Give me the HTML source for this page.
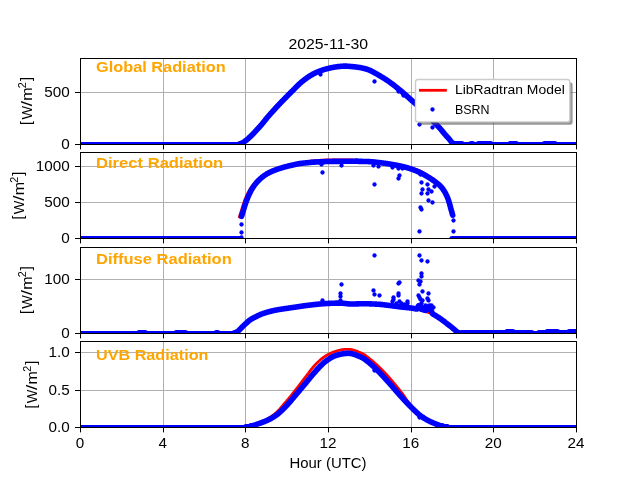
<!DOCTYPE html>
<html><head><meta charset="utf-8"><title>Radiation 2025-11-30</title>
<style>html,body{margin:0;padding:0;background:#fff;}body{width:640px;height:480px;overflow:hidden;font-family:"Liberation Sans",sans-serif;}</style></head>
<body>
<svg width="640" height="480" viewBox="0 0 640 480" font-family="Liberation Sans, sans-serif" style="display:block;will-change:transform">
<rect width="640" height="480" fill="#fff"/>
<defs>
<clipPath id="c0"><rect x="80" y="58" width="496" height="86"/></clipPath>
<clipPath id="c1"><rect x="80" y="152" width="496" height="86"/></clipPath>
<clipPath id="c2"><rect x="80" y="247" width="496" height="86"/></clipPath>
<clipPath id="c3"><rect x="80" y="341" width="496" height="86"/></clipPath>
</defs>
<g fill="#b0b0b0" shape-rendering="crispEdges">
<rect x="80" y="58" width="1" height="86"/>
<rect x="163" y="58" width="1" height="86"/>
<rect x="245" y="58" width="1" height="86"/>
<rect x="328" y="58" width="1" height="86"/>
<rect x="411" y="58" width="1" height="86"/>
<rect x="493" y="58" width="1" height="86"/>
<rect x="576" y="58" width="1" height="86"/>
<rect x="80" y="144" width="496" height="1"/>
<rect x="80" y="92" width="496" height="1"/>
</g>
<polyline clip-path="url(#c0)" points="80.00,143.55 80.34,143.55 80.69,143.55 81.03,143.55 81.38,143.55 81.72,143.55 82.07,143.55 82.41,143.55 82.76,143.55 83.10,143.55 83.44,143.55 83.79,143.55 84.13,143.55 84.48,143.55 84.82,143.55 85.17,143.55 85.51,143.55 85.86,143.55 86.20,143.55 86.54,143.55 86.89,143.55 87.23,143.55 87.58,143.55 87.92,143.55 88.27,143.55 88.61,143.55 88.96,143.55 89.30,143.55 89.64,143.55 89.99,143.55 90.33,143.55 90.68,143.55 91.02,143.55 91.37,143.55 91.71,143.55 92.06,143.55 92.40,143.55 92.74,143.55 93.09,143.55 93.43,143.55 93.78,143.55 94.12,143.55 94.47,143.55 94.81,143.55 95.16,143.55 95.50,143.55 95.84,143.55 96.19,143.55 96.53,143.55 96.88,143.55 97.22,143.55 97.57,143.55 97.91,143.55 98.26,143.55 98.60,143.55 98.94,143.55 99.29,143.55 99.63,143.55 99.98,143.55 100.32,143.55 100.67,143.55 101.01,143.55 101.36,143.55 101.70,143.55 102.04,143.55 102.39,143.55 102.73,143.55 103.08,143.55 103.42,143.55 103.77,143.55 104.11,143.55 104.46,143.55 104.80,143.55 105.14,143.55 105.49,143.55 105.83,143.55 106.18,143.55 106.52,143.55 106.87,143.55 107.21,143.55 107.56,143.55 107.90,143.55 108.24,143.55 108.59,143.55 108.93,143.55 109.28,143.55 109.62,143.55 109.97,143.55 110.31,143.55 110.66,143.55 111.00,143.55 111.34,143.55 111.69,143.55 112.03,143.55 112.38,143.55 112.72,143.55 113.07,143.55 113.41,143.55 113.76,143.55 114.10,143.55 114.44,143.55 114.79,143.55 115.13,143.55 115.48,143.55 115.82,143.55 116.17,143.55 116.51,143.55 116.86,143.55 117.20,143.55 117.54,143.55 117.89,143.55 118.23,143.55 118.58,143.55 118.92,143.55 119.27,143.55 119.61,143.55 119.96,143.55 120.30,143.55 120.64,143.55 120.99,143.55 121.33,143.55 121.68,143.55 122.02,143.55 122.37,143.55 122.71,143.55 123.06,143.55 123.40,143.55 123.74,143.55 124.09,143.55 124.43,143.55 124.78,143.55 125.12,143.55 125.47,143.55 125.81,143.55 126.16,143.55 126.50,143.55 126.84,143.55 127.19,143.55 127.53,143.55 127.88,143.55 128.22,143.55 128.57,143.55 128.91,143.55 129.26,143.55 129.60,143.55 129.94,143.55 130.29,143.55 130.63,143.55 130.98,143.55 131.32,143.55 131.67,143.55 132.01,143.55 132.36,143.55 132.70,143.55 133.04,143.55 133.39,143.55 133.73,143.55 134.08,143.55 134.42,143.55 134.77,143.55 135.11,143.55 135.46,143.55 135.80,143.55 136.14,143.55 136.49,143.55 136.83,143.55 137.18,143.55 137.52,143.55 137.87,143.55 138.21,143.55 138.56,143.55 138.90,143.55 139.24,143.55 139.59,143.55 139.93,143.55 140.28,143.55 140.62,143.55 140.97,143.55 141.31,143.55 141.66,143.55 142.00,143.55 142.34,143.55 142.69,143.55 143.03,143.55 143.38,143.55 143.72,143.55 144.07,143.55 144.41,143.55 144.76,143.55 145.10,143.55 145.44,143.55 145.79,143.55 146.13,143.55 146.48,143.55 146.82,143.55 147.17,143.55 147.51,143.55 147.86,143.55 148.20,143.55 148.54,143.55 148.89,143.55 149.23,143.55 149.58,143.55 149.92,143.55 150.27,143.55 150.61,143.55 150.96,143.55 151.30,143.55 151.64,143.55 151.99,143.55 152.33,143.55 152.68,143.55 153.02,143.55 153.37,143.55 153.71,143.55 154.06,143.55 154.40,143.55 154.74,143.55 155.09,143.55 155.43,143.55 155.78,143.55 156.12,143.55 156.47,143.55 156.81,143.55 157.16,143.55 157.50,143.55 157.84,143.55 158.19,143.55 158.53,143.55 158.88,143.55 159.22,143.55 159.57,143.55 159.91,143.55 160.26,143.55 160.60,143.55 160.94,143.55 161.29,143.55 161.63,143.55 161.98,143.55 162.32,143.55 162.67,143.55 163.01,143.55 163.36,143.55 163.70,143.55 164.04,143.55 164.39,143.55 164.73,143.55 165.08,143.55 165.42,143.55 165.77,143.55 166.11,143.55 166.46,143.55 166.80,143.55 167.14,143.55 167.49,143.55 167.83,143.55 168.18,143.55 168.52,143.55 168.87,143.55 169.21,143.55 169.56,143.55 169.90,143.55 170.24,143.55 170.59,143.55 170.93,143.55 171.28,143.55 171.62,143.55 171.97,143.55 172.31,143.55 172.66,143.55 173.00,143.55 173.34,143.55 173.69,143.55 174.03,143.55 174.38,143.55 174.72,143.55 175.07,143.55 175.41,143.55 175.76,143.55 176.10,143.55 176.44,143.55 176.79,143.55 177.13,143.55 177.48,143.55 177.82,143.55 178.17,143.55 178.51,143.55 178.86,143.55 179.20,143.55 179.54,143.55 179.89,143.55 180.23,143.55 180.58,143.55 180.92,143.55 181.27,143.55 181.61,143.55 181.96,143.55 182.30,143.55 182.64,143.55 182.99,143.55 183.33,143.55 183.68,143.55 184.02,143.55 184.37,143.55 184.71,143.55 185.06,143.55 185.40,143.55 185.74,143.55 186.09,143.55 186.43,143.55 186.78,143.55 187.12,143.55 187.47,143.55 187.81,143.55 188.16,143.55 188.50,143.55 188.84,143.55 189.19,143.55 189.53,143.55 189.88,143.55 190.22,143.55 190.57,143.55 190.91,143.55 191.26,143.55 191.60,143.55 191.94,143.55 192.29,143.55 192.63,143.55 192.98,143.55 193.32,143.55 193.67,143.55 194.01,143.55 194.36,143.55 194.70,143.55 195.04,143.55 195.39,143.55 195.73,143.55 196.08,143.55 196.42,143.55 196.77,143.55 197.11,143.55 197.46,143.55 197.80,143.55 198.14,143.55 198.49,143.55 198.83,143.55 199.18,143.55 199.52,143.55 199.87,143.55 200.21,143.55 200.56,143.55 200.90,143.55 201.24,143.55 201.59,143.55 201.93,143.55 202.28,143.55 202.62,143.55 202.97,143.55 203.31,143.55 203.66,143.55 204.00,143.55 204.34,143.55 204.69,143.55 205.03,143.55 205.38,143.55 205.72,143.55 206.07,143.55 206.41,143.55 206.76,143.55 207.10,143.55 207.44,143.55 207.79,143.55 208.13,143.55 208.48,143.55 208.82,143.55 209.17,143.55 209.51,143.55 209.86,143.55 210.20,143.55 210.54,143.55 210.89,143.55 211.23,143.55 211.58,143.55 211.92,143.55 212.27,143.55 212.61,143.55 212.96,143.55 213.30,143.55 213.64,143.55 213.99,143.55 214.33,143.55 214.68,143.55 215.02,143.55 215.37,143.55 215.71,143.55 216.06,143.55 216.40,143.55 216.74,143.55 217.09,143.55 217.43,143.55 217.78,143.55 218.12,143.55 218.47,143.55 218.81,143.55 219.16,143.55 219.50,143.55 219.84,143.55 220.19,143.55 220.53,143.55 220.88,143.55 221.22,143.55 221.57,143.55 221.91,143.55 222.26,143.55 222.60,143.55 222.94,143.55 223.29,143.55 223.63,143.55 223.98,143.55 224.32,143.55 224.67,143.55 225.01,143.55 225.36,143.55 225.70,143.55 226.04,143.55 226.39,143.55 226.73,143.55 227.08,143.55 227.42,143.55 227.77,143.55 228.11,143.55 228.46,143.55 228.80,143.55 229.14,143.55 229.49,143.55 229.83,143.55 230.18,143.55 230.52,143.55 230.87,143.55 231.21,143.55 231.56,143.55 231.90,143.55 232.24,143.55 232.59,143.55 232.93,143.55 233.28,143.55 233.62,143.55 233.97,143.55 234.31,143.55 234.66,143.55 235.00,143.55 235.34,143.55 235.69,143.55 236.03,143.55 236.38,143.55 236.72,143.55 237.07,143.55 237.41,143.50 237.76,143.44 238.10,143.38 238.44,143.31 238.79,143.23 239.13,143.14 239.48,143.05 239.82,142.95 240.17,142.84 240.51,142.72 240.86,142.59 241.20,142.46 241.54,142.32 241.89,142.17 242.23,142.02 242.58,141.86 242.92,141.69 243.27,141.52 243.61,141.35 243.96,141.17 244.30,140.98 244.64,140.79 244.99,140.60 245.33,140.40 245.68,140.20 246.02,139.99 246.37,139.77 246.71,139.53 247.06,139.29 247.40,139.04 247.74,138.78 248.09,138.51 248.43,138.23 248.78,137.95 249.12,137.65 249.47,137.35 249.81,137.04 250.16,136.73 250.50,136.41 250.84,136.08 251.19,135.75 251.53,135.41 251.88,135.07 252.22,134.72 252.57,134.37 252.91,134.01 253.26,133.66 253.60,133.29 253.94,132.93 254.29,132.56 254.63,132.20 254.98,131.83 255.32,131.46 255.67,131.09 256.01,130.71 256.36,130.34 256.70,129.97 257.04,129.60 257.39,129.23 257.73,128.86 258.08,128.50 258.42,128.13 258.77,127.76 259.11,127.39 259.46,127.01 259.80,126.62 260.14,126.23 260.49,125.83 260.83,125.43 261.18,125.02 261.52,124.61 261.87,124.20 262.21,123.78 262.56,123.36 262.90,122.94 263.24,122.52 263.59,122.09 263.93,121.67 264.28,121.24 264.62,120.81 264.97,120.39 265.31,119.96 265.66,119.54 266.00,119.11 266.34,118.69 266.69,118.27 267.03,117.85 267.38,117.43 267.72,117.02 268.07,116.61 268.41,116.21 268.76,115.81 269.10,115.41 269.44,115.02 269.79,114.63 270.13,114.24 270.48,113.85 270.82,113.46 271.17,113.08 271.51,112.69 271.86,112.31 272.20,111.93 272.54,111.54 272.89,111.16 273.23,110.78 273.58,110.40 273.92,110.02 274.27,109.65 274.61,109.27 274.96,108.89 275.30,108.52 275.64,108.15 275.99,107.77 276.33,107.40 276.68,107.03 277.02,106.66 277.37,106.29 277.71,105.92 278.06,105.55 278.40,105.19 278.74,104.82 279.09,104.46 279.43,104.09 279.78,103.73 280.12,103.36 280.47,103.00 280.81,102.64 281.16,102.28 281.50,101.92 281.84,101.56 282.19,101.20 282.53,100.84 282.88,100.49 283.22,100.13 283.57,99.78 283.91,99.42 284.26,99.07 284.60,98.72 284.94,98.36 285.29,98.01 285.63,97.66 285.98,97.31 286.32,96.96 286.67,96.62 287.01,96.27 287.36,95.92 287.70,95.58 288.04,95.23 288.39,94.89 288.73,94.54 289.08,94.20 289.42,93.86 289.77,93.52 290.11,93.18 290.46,92.83 290.80,92.49 291.14,92.14 291.49,91.80 291.83,91.45 292.18,91.10 292.52,90.75 292.87,90.39 293.21,90.04 293.56,89.69 293.90,89.34 294.24,88.99 294.59,88.64 294.93,88.29 295.28,87.94 295.62,87.59 295.97,87.24 296.31,86.90 296.66,86.56 297.00,86.21 297.34,85.88 297.69,85.54 298.03,85.21 298.38,84.88 298.72,84.55 299.07,84.23 299.41,83.91 299.76,83.60 300.10,83.28 300.44,82.98 300.79,82.68 301.13,82.38 301.48,82.09 301.82,81.80 302.17,81.52 302.51,81.25 302.86,80.98 303.20,80.71 303.54,80.45 303.89,80.19 304.23,79.92 304.58,79.66 304.92,79.41 305.27,79.15 305.61,78.89 305.96,78.64 306.30,78.39 306.64,78.14 306.99,77.89 307.33,77.65 307.68,77.41 308.02,77.17 308.37,76.93 308.71,76.70 309.06,76.47 309.40,76.25 309.74,76.02 310.09,75.80 310.43,75.58 310.78,75.37 311.12,75.16 311.47,74.96 311.81,74.75 312.16,74.56 312.50,74.36 312.84,74.17 313.19,73.99 313.53,73.81 313.88,73.63 314.22,73.46 314.57,73.30 314.91,73.13 315.26,72.98 315.60,72.82 315.94,72.67 316.29,72.51 316.63,72.36 316.98,72.21 317.32,72.07 317.67,71.92 318.01,71.78 318.36,71.64 318.70,71.50 319.04,71.36 319.39,71.22 319.73,71.09 320.08,70.95 320.42,70.82 320.77,70.70 321.11,70.57 321.46,70.44 321.80,70.32 322.14,70.20 322.49,70.08 322.83,69.97 323.18,69.85 323.52,69.74 323.87,69.63 324.21,69.52 324.56,69.41 324.90,69.31 325.24,69.21 325.59,69.11 325.93,69.01 326.28,68.92 326.62,68.83 326.97,68.74 327.31,68.65 327.66,68.56 328.00,68.48 328.34,68.40 328.69,68.32 329.03,68.24 329.38,68.17 329.72,68.09 330.07,68.01 330.41,67.94 330.76,67.86 331.10,67.79 331.44,67.72 331.79,67.64 332.13,67.57 332.48,67.50 332.82,67.44 333.17,67.37 333.51,67.30 333.86,67.24 334.20,67.18 334.54,67.11 334.89,67.05 335.23,67.00 335.58,66.94 335.92,66.89 336.27,66.83 336.61,66.78 336.96,66.73 337.30,66.69 337.64,66.64 337.99,66.60 338.33,66.56 338.68,66.52 339.02,66.49 339.37,66.45 339.71,66.42 340.06,66.39 340.40,66.37 340.74,66.34 341.09,66.31 341.43,66.29 341.78,66.26 342.12,66.24 342.47,66.21 342.81,66.19 343.16,66.17 343.50,66.15 343.84,66.13 344.19,66.12 344.53,66.11 344.88,66.10 345.22,66.09 345.57,66.09 345.91,66.10 346.26,66.11 346.60,66.12 346.94,66.14 347.29,66.17 347.63,66.19 347.98,66.22 348.32,66.25 348.67,66.29 349.01,66.32 349.36,66.35 349.70,66.38 350.04,66.41 350.39,66.44 350.73,66.47 351.08,66.50 351.42,66.53 351.77,66.56 352.11,66.59 352.46,66.62 352.80,66.66 353.14,66.69 353.49,66.72 353.83,66.76 354.18,66.79 354.52,66.83 354.87,66.87 355.21,66.90 355.56,66.94 355.90,66.98 356.24,67.03 356.59,67.07 356.93,67.11 357.28,67.16 357.62,67.20 357.97,67.25 358.31,67.30 358.66,67.35 359.00,67.40 359.34,67.46 359.69,67.52 360.03,67.58 360.38,67.64 360.72,67.71 361.07,67.77 361.41,67.84 361.76,67.92 362.10,67.99 362.44,68.07 362.79,68.15 363.13,68.23 363.48,68.32 363.82,68.40 364.17,68.49 364.51,68.58 364.86,68.68 365.20,68.77 365.54,68.87 365.89,68.97 366.23,69.08 366.58,69.18 366.92,69.29 367.27,69.40 367.61,69.51 367.96,69.62 368.30,69.74 368.64,69.86 368.99,69.98 369.33,70.11 369.68,70.25 370.02,70.40 370.37,70.56 370.71,70.72 371.06,70.89 371.40,71.07 371.74,71.25 372.09,71.43 372.43,71.62 372.78,71.81 373.12,72.00 373.47,72.20 373.81,72.39 374.16,72.58 374.50,72.77 374.84,72.96 375.19,73.15 375.53,73.34 375.88,73.53 376.22,73.72 376.57,73.91 376.91,74.10 377.26,74.30 377.60,74.49 377.94,74.69 378.29,74.89 378.63,75.08 378.98,75.28 379.32,75.48 379.67,75.69 380.01,75.89 380.36,76.09 380.70,76.30 381.04,76.50 381.39,76.71 381.73,76.92 382.08,77.13 382.42,77.34 382.77,77.55 383.11,77.77 383.46,77.98 383.80,78.20 384.14,78.42 384.49,78.64 384.83,78.86 385.18,79.08 385.52,79.30 385.87,79.53 386.21,79.75 386.56,79.98 386.90,80.21 387.24,80.44 387.59,80.67 387.93,80.90 388.28,81.14 388.62,81.38 388.97,81.62 389.31,81.86 389.66,82.10 390.00,82.35 390.34,82.60 390.69,82.85 391.03,83.10 391.38,83.35 391.72,83.60 392.07,83.86 392.41,84.12 392.76,84.38 393.10,84.64 393.44,84.90 393.79,85.17 394.13,85.43 394.48,85.70 394.82,85.96 395.17,86.23 395.51,86.50 395.86,86.77 396.20,87.05 396.54,87.32 396.89,87.59 397.23,87.87 397.58,88.14 397.92,88.42 398.27,88.70 398.61,88.98 398.96,89.25 399.30,89.53 399.64,89.81 399.99,90.09 400.33,90.38 400.68,90.66 401.02,90.95 401.37,91.24 401.71,91.53 402.06,91.82 402.40,92.11 402.74,92.41 403.09,92.71 403.43,93.01 403.78,93.31 404.12,93.61 404.47,93.91 404.81,94.22 405.16,94.52 405.50,94.83 405.84,95.14 406.19,95.44 406.53,95.75 406.88,96.06 407.22,96.37 407.57,96.68 407.91,96.99 408.26,97.29 408.60,97.60 408.94,97.91 409.29,98.22 409.63,98.53 409.98,98.83 410.32,99.14 410.67,99.44 411.01,99.74 411.36,100.05 411.70,100.35 412.04,100.65 412.39,100.94 412.73,101.24 413.08,101.54 413.42,101.83 413.77,102.13 414.11,102.43 414.46,102.74 414.80,103.05 415.14,103.36 415.49,103.68 415.83,104.00 416.18,104.32 416.52,104.63 416.87,104.96 417.21,105.28 417.56,105.60 417.90,105.92 418.24,106.25 418.59,106.58 418.93,106.90 419.28,107.23 419.62,107.56 419.97,107.89 420.31,108.22 420.66,108.55 421.00,108.89 421.34,109.22 421.69,109.55 422.03,109.89 422.38,110.23 422.72,110.56 423.07,110.90 423.41,111.24 423.76,111.58 424.10,111.92 424.44,112.26 424.79,112.60 425.13,112.95 425.48,113.29 425.82,113.63 426.17,113.98 426.51,114.32 426.86,114.67 427.20,115.02 427.54,115.36 427.89,115.71 428.23,116.06 428.58,116.41 428.92,116.76 429.27,117.11 429.61,117.46 429.96,117.81 430.30,118.17 430.64,118.52 430.99,118.87 431.33,119.22 431.68,119.58 432.02,119.93 432.37,120.29 432.71,120.64 433.06,121.00 433.40,121.35 433.74,121.71 434.09,122.07 434.43,122.42 434.78,122.78 435.12,123.14 435.47,123.50 435.81,123.86 436.16,124.22 436.50,124.58 436.84,124.95 437.19,125.31 437.53,125.68 437.88,126.06 438.22,126.43 438.57,126.81 438.91,127.18 439.26,127.56 439.60,127.95 439.94,128.34 440.29,128.74 440.63,129.14 440.98,129.55 441.32,129.96 441.67,130.37 442.01,130.78 442.36,131.20 442.70,131.61 443.04,132.03 443.39,132.44 443.73,132.86 444.08,133.27 444.42,133.68 444.77,134.09 445.11,134.49 445.46,134.89 445.80,135.29 446.14,135.68 446.49,136.06 446.83,136.43 447.18,136.80 447.52,137.16 447.87,137.52 448.21,137.87 448.56,138.22 448.90,138.58 449.24,138.94 449.59,139.29 449.93,139.64 450.28,139.99 450.62,140.32 450.97,140.65 451.31,140.96 451.66,141.25 452.00,141.53 452.34,141.78 452.69,142.01 453.03,142.22 453.38,142.41 453.72,142.60 454.07,142.77 454.41,142.93 454.76,143.09 455.10,143.22 455.44,143.35 455.79,143.46 456.13,143.55 456.48,143.55 456.82,143.55 457.17,143.55 457.51,143.55 457.86,143.55 458.20,143.55 458.54,143.55 458.89,143.55 459.23,143.55 459.58,143.55 459.92,143.55 460.27,143.55 460.61,143.55 460.96,143.55 461.30,143.55 461.64,143.55 461.99,143.55 462.33,143.55 462.68,143.55 463.02,143.55 463.37,143.55 463.71,143.55 464.06,143.55 464.40,143.55 464.74,143.55 465.09,143.55 465.43,143.55 465.78,143.55 466.12,143.55 466.47,143.55 466.81,143.55 467.16,143.55 467.50,143.55 467.84,143.55 468.19,143.55 468.53,143.55 468.88,143.55 469.22,143.55 469.57,143.55 469.91,143.55 470.26,143.55 470.60,143.55 470.94,143.55 471.29,143.55 471.63,143.55 471.98,143.55 472.32,143.55 472.67,143.55 473.01,143.55 473.36,143.55 473.70,143.55 474.04,143.55 474.39,143.55 474.73,143.55 475.08,143.55 475.42,143.55 475.77,143.55 476.11,143.55 476.46,143.55 476.80,143.55 477.14,143.55 477.49,143.55 477.83,143.55 478.18,143.55 478.52,143.55 478.87,143.55 479.21,143.55 479.56,143.55 479.90,143.55 480.24,143.55 480.59,143.55 480.93,143.55 481.28,143.55 481.62,143.55 481.97,143.55 482.31,143.55 482.66,143.55 483.00,143.55 483.34,143.55 483.69,143.55 484.03,143.55 484.38,143.55 484.72,143.55 485.07,143.55 485.41,143.55 485.76,143.55 486.10,143.55 486.44,143.55 486.79,143.55 487.13,143.55 487.48,143.55 487.82,143.55 488.17,143.55 488.51,143.55 488.86,143.55 489.20,143.55 489.54,143.55 489.89,143.55 490.23,143.55 490.58,143.55 490.92,143.55 491.27,143.55 491.61,143.55 491.96,143.55 492.30,143.55 492.64,143.55 492.99,143.55 493.33,143.55 493.68,143.55 494.02,143.55 494.37,143.55 494.71,143.55 495.06,143.55 495.40,143.55 495.74,143.55 496.09,143.55 496.43,143.55 496.78,143.55 497.12,143.55 497.47,143.55 497.81,143.55 498.16,143.55 498.50,143.55 498.84,143.55 499.19,143.55 499.53,143.55 499.88,143.55 500.22,143.55 500.57,143.55 500.91,143.55 501.26,143.55 501.60,143.55 501.94,143.55 502.29,143.55 502.63,143.55 502.98,143.55 503.32,143.55 503.67,143.55 504.01,143.55 504.36,143.55 504.70,143.55 505.04,143.55 505.39,143.55 505.73,143.55 506.08,143.55 506.42,143.55 506.77,143.55 507.11,143.55 507.46,143.55 507.80,143.55 508.14,143.55 508.49,143.55 508.83,143.55 509.18,143.55 509.52,143.55 509.87,143.55 510.21,143.55 510.56,143.55 510.90,143.55 511.24,143.55 511.59,143.55 511.93,143.55 512.28,143.55 512.62,143.55 512.97,143.55 513.31,143.55 513.66,143.55 514.00,143.55 514.34,143.55 514.69,143.55 515.03,143.55 515.38,143.55 515.72,143.55 516.07,143.55 516.41,143.55 516.76,143.55 517.10,143.55 517.44,143.55 517.79,143.55 518.13,143.55 518.48,143.55 518.82,143.55 519.17,143.55 519.51,143.55 519.86,143.55 520.20,143.55 520.54,143.55 520.89,143.55 521.23,143.55 521.58,143.55 521.92,143.55 522.27,143.55 522.61,143.55 522.96,143.55 523.30,143.55 523.64,143.55 523.99,143.55 524.33,143.55 524.68,143.55 525.02,143.55 525.37,143.55 525.71,143.55 526.06,143.55 526.40,143.55 526.74,143.55 527.09,143.55 527.43,143.55 527.78,143.55 528.12,143.55 528.47,143.55 528.81,143.55 529.16,143.55 529.50,143.55 529.84,143.55 530.19,143.55 530.53,143.55 530.88,143.55 531.22,143.55 531.57,143.55 531.91,143.55 532.26,143.55 532.60,143.55 532.94,143.55 533.29,143.55 533.63,143.55 533.98,143.55 534.32,143.55 534.67,143.55 535.01,143.55 535.36,143.55 535.70,143.55 536.04,143.55 536.39,143.55 536.73,143.55 537.08,143.55 537.42,143.55 537.77,143.55 538.11,143.55 538.46,143.55 538.80,143.55 539.14,143.55 539.49,143.55 539.83,143.55 540.18,143.55 540.52,143.55 540.87,143.55 541.21,143.55 541.56,143.55 541.90,143.55 542.24,143.55 542.59,143.55 542.93,143.55 543.28,143.55 543.62,143.55 543.97,143.55 544.31,143.55 544.66,143.55 545.00,143.55 545.34,143.55 545.69,143.55 546.03,143.55 546.38,143.55 546.72,143.55 547.07,143.55 547.41,143.55 547.76,143.55 548.10,143.55 548.44,143.55 548.79,143.55 549.13,143.55 549.48,143.55 549.82,143.55 550.17,143.55 550.51,143.55 550.86,143.55 551.20,143.55 551.54,143.55 551.89,143.55 552.23,143.55 552.58,143.55 552.92,143.55 553.27,143.55 553.61,143.55 553.96,143.55 554.30,143.55 554.64,143.55 554.99,143.55 555.33,143.55 555.68,143.55 556.02,143.55 556.37,143.55 556.71,143.55 557.06,143.55 557.40,143.55 557.74,143.55 558.09,143.55 558.43,143.55 558.78,143.55 559.12,143.55 559.47,143.55 559.81,143.55 560.16,143.55 560.50,143.55 560.84,143.55 561.19,143.55 561.53,143.55 561.88,143.55 562.22,143.55 562.57,143.55 562.91,143.55 563.26,143.55 563.60,143.55 563.94,143.55 564.29,143.55 564.63,143.55 564.98,143.55 565.32,143.55 565.67,143.55 566.01,143.55 566.36,143.55 566.70,143.55 567.04,143.55 567.39,143.55 567.73,143.55 568.08,143.55 568.42,143.55 568.77,143.55 569.11,143.55 569.46,143.55 569.80,143.55 570.14,143.55 570.49,143.55 570.83,143.55 571.18,143.55 571.52,143.55 571.87,143.55 572.21,143.55 572.56,143.55 572.90,143.55 573.24,143.55 573.59,143.55 573.93,143.55 574.28,143.55 574.62,143.55 574.97,143.55 575.31,143.55 575.66,143.55 576.00,143.55" fill="none" stroke="#f00" stroke-width="2.78" stroke-linejoin="round" stroke-linecap="square"/>
<polyline clip-path="url(#c0)" points="80.0,144.70 80.3,144.70 80.7,144.70 81.0,144.70 81.4,144.70 81.7,144.70 82.1,144.70 82.4,144.70 82.8,144.70 83.1,144.70 83.4,144.70 83.8,144.70 84.1,144.70 84.5,144.70 84.8,144.70 85.2,144.70 85.5,144.70 85.9,144.70 86.2,144.70 86.5,144.70 86.9,144.70 87.2,144.70 87.6,144.70 87.9,144.70 88.3,144.70 88.6,144.70 89.0,144.70 89.3,144.70 89.6,144.70 90.0,144.70 90.3,144.70 90.7,144.70 91.0,144.70 91.4,144.70 91.7,144.70 92.1,144.70 92.4,144.70 92.7,144.70 93.1,144.70 93.4,144.70 93.8,144.70 94.1,144.70 94.5,144.70 94.8,144.70 95.2,144.70 95.5,144.70 95.8,144.70 96.2,144.70 96.5,144.70 96.9,144.70 97.2,144.70 97.6,144.70 97.9,144.70 98.3,144.70 98.6,144.70 98.9,144.70 99.3,144.70 99.6,144.70 100.0,144.70 100.3,144.70 100.7,144.70 101.0,144.70 101.4,144.70 101.7,144.70 102.0,144.70 102.4,144.70 102.7,144.70 103.1,144.70 103.4,144.70 103.8,144.70 104.1,144.70 104.5,144.70 104.8,144.70 105.1,144.70 105.5,144.70 105.8,144.70 106.2,144.70 106.5,144.70 106.9,144.70 107.2,144.70 107.6,144.70 107.9,144.70 108.2,144.70 108.6,144.70 108.9,144.70 109.3,144.70 109.6,144.70 110.0,144.70 110.3,144.70 110.7,144.70 111.0,144.70 111.3,144.70 111.7,144.70 112.0,144.70 112.4,144.70 112.7,144.70 113.1,144.70 113.4,144.70 113.8,144.70 114.1,144.70 114.4,144.70 114.8,144.70 115.1,144.70 115.5,144.70 115.8,144.70 116.2,144.70 116.5,144.70 116.9,144.70 117.2,144.70 117.5,144.70 117.9,144.70 118.2,144.70 118.6,144.70 118.9,144.70 119.3,144.70 119.6,144.70 120.0,144.70 120.3,144.70 120.6,144.70 121.0,144.70 121.3,144.70 121.7,144.70 122.0,144.70 122.4,144.70 122.7,144.70 123.1,144.70 123.4,144.70 123.7,144.70 124.1,144.70 124.4,144.70 124.8,144.70 125.1,144.70 125.5,144.70 125.8,144.70 126.2,144.70 126.5,144.70 126.8,144.70 127.2,144.70 127.5,144.70 127.9,144.70 128.2,144.70 128.6,144.70 128.9,144.70 129.3,144.70 129.6,144.70 129.9,144.70 130.3,144.70 130.6,144.70 131.0,144.70 131.3,144.70 131.7,144.70 132.0,144.70 132.4,144.70 132.7,144.70 133.0,144.70 133.4,144.70 133.7,144.70 134.1,144.70 134.4,144.70 134.8,144.70 135.1,144.70 135.5,144.70 135.8,144.70 136.1,144.70 136.5,144.70 136.8,144.70 137.2,144.70 137.5,144.70 137.9,144.70 138.2,144.70 138.6,144.70 138.9,144.70 139.2,144.70 139.6,144.70 139.9,144.70 140.3,144.70 140.6,144.70 141.0,144.70 141.3,144.70 141.7,144.70 142.0,144.70 142.3,144.70 142.7,144.70 143.0,144.70 143.4,144.70 143.7,144.70 144.1,144.70 144.4,144.70 144.8,144.70 145.1,144.70 145.4,144.70 145.8,144.70 146.1,144.70 146.5,144.70 146.8,144.70 147.2,144.70 147.5,144.70 147.9,144.70 148.2,144.70 148.5,144.70 148.9,144.70 149.2,144.70 149.6,144.70 149.9,144.70 150.3,144.70 150.6,144.70 151.0,144.70 151.3,144.70 151.6,144.70 152.0,144.70 152.3,144.70 152.7,144.70 153.0,144.70 153.4,144.70 153.7,144.70 154.1,144.70 154.4,144.70 154.7,144.70 155.1,144.70 155.4,144.70 155.8,144.70 156.1,144.70 156.5,144.70 156.8,144.70 157.2,144.70 157.5,144.70 157.8,144.70 158.2,144.70 158.5,144.70 158.9,144.70 159.2,144.70 159.6,144.70 159.9,144.70 160.3,144.70 160.6,144.70 160.9,144.70 161.3,144.70 161.6,144.70 162.0,144.70 162.3,144.70 162.7,144.70 163.0,144.70 163.4,144.70 163.7,144.70 164.0,144.70 164.4,144.70 164.7,144.70 165.1,144.70 165.4,144.70 165.8,144.70 166.1,144.70 166.5,144.70 166.8,144.70 167.1,144.70 167.5,144.70 167.8,144.70 168.2,144.70 168.5,144.70 168.9,144.70 169.2,144.70 169.6,144.70 169.9,144.70 170.2,144.70 170.6,144.70 170.9,144.70 171.3,144.70 171.6,144.70 172.0,144.70 172.3,144.70 172.7,144.70 173.0,144.70 173.3,144.70 173.7,144.70 174.0,144.70 174.4,144.70 174.7,144.70 175.1,144.70 175.4,144.70 175.8,144.70 176.1,144.70 176.4,144.70 176.8,144.70 177.1,144.70 177.5,144.70 177.8,144.70 178.2,144.70 178.5,144.70 178.9,144.70 179.2,144.70 179.5,144.70 179.9,144.70 180.2,144.70 180.6,144.70 180.9,144.70 181.3,144.70 181.6,144.70 182.0,144.70 182.3,144.70 182.6,144.70 183.0,144.70 183.3,144.70 183.7,144.70 184.0,144.70 184.4,144.70 184.7,144.70 185.1,144.70 185.4,144.70 185.7,144.70 186.1,144.70 186.4,144.70 186.8,144.70 187.1,144.70 187.5,144.70 187.8,144.70 188.2,144.70 188.5,144.70 188.8,144.70 189.2,144.70 189.5,144.70 189.9,144.70 190.2,144.70 190.6,144.70 190.9,144.70 191.3,144.70 191.6,144.70 191.9,144.70 192.3,144.70 192.6,144.70 193.0,144.70 193.3,144.70 193.7,144.70 194.0,144.70 194.4,144.70 194.7,144.70 195.0,144.70 195.4,144.70 195.7,144.70 196.1,144.70 196.4,144.70 196.8,144.70 197.1,144.70 197.5,144.70 197.8,144.70 198.1,144.70 198.5,144.70 198.8,144.70 199.2,144.70 199.5,144.70 199.9,144.70 200.2,144.70 200.6,144.70 200.9,144.70 201.2,144.70 201.6,144.70 201.9,144.70 202.3,144.70 202.6,144.70 203.0,144.70 203.3,144.70 203.7,144.70 204.0,144.70 204.3,144.70 204.7,144.70 205.0,144.70 205.4,144.70 205.7,144.70 206.1,144.70 206.4,144.70 206.8,144.70 207.1,144.70 207.4,144.70 207.8,144.70 208.1,144.70 208.5,144.70 208.8,144.70 209.2,144.70 209.5,144.70 209.9,144.70 210.2,144.70 210.5,144.70 210.9,144.70 211.2,144.70 211.6,144.70 211.9,144.70 212.3,144.70 212.6,144.70 213.0,144.70 213.3,144.70 213.6,144.70 214.0,144.70 214.3,144.70 214.7,144.70 215.0,144.70 215.4,144.70 215.7,144.70 216.1,144.70 216.4,144.70 216.7,144.70 217.1,144.70 217.4,144.70 217.8,144.70 218.1,144.70 218.5,144.70 218.8,144.70 219.2,144.70 219.5,144.70 219.8,144.70 220.2,144.70 220.5,144.70 220.9,144.70 221.2,144.70 221.6,144.70 221.9,144.70 222.3,144.70 222.6,144.70 222.9,144.70 223.3,144.70 223.6,144.70 224.0,144.70 224.3,144.70 224.7,144.70 225.0,144.70 225.4,144.70 225.7,144.70 226.0,144.70 226.4,144.70 226.7,144.70 227.1,144.70 227.4,144.70 227.8,144.70 228.1,144.70 228.5,144.70 228.8,144.70 229.1,144.70 229.5,144.70 229.8,144.70 230.2,144.70 230.5,144.70 230.9,144.70 231.2,144.70 231.6,144.70 231.9,144.70 232.2,144.70 232.6,144.70 232.9,144.70 233.3,144.70 233.6,144.70 234.0,144.70 234.3,144.70 234.7,144.70 235.0,144.70 235.3,144.70 235.7,144.70 236.0,144.70 236.4,144.70 236.7,144.70 237.1,144.70 237.4,144.70 237.8,144.70 238.1,144.70 238.4,144.70 238.8,144.70 239.1,144.70 239.5,143.70 239.8,143.70 240.2,143.70 240.5,143.70 240.9,143.70 241.2,143.70 241.5,143.70 241.9,143.70 242.2,142.70 242.6,142.70 242.9,142.70 243.3,142.65 243.6,142.35 244.0,142.05 244.3,141.76 244.6,141.48 245.0,141.20 245.3,140.93 245.7,140.66 246.0,140.39 246.4,140.11 246.7,139.83 247.1,139.55 247.4,139.25 247.7,138.96 248.1,138.66 248.4,138.36 248.8,138.05 249.1,137.74 249.5,137.42 249.8,137.10 250.2,136.77 250.5,136.44 250.8,136.11 251.2,135.77 251.5,135.43 251.9,135.08 252.2,134.73 252.6,134.38 252.9,134.02 253.3,133.66 253.6,133.30 253.9,132.93 254.3,132.57 254.6,132.20 255.0,131.83 255.3,131.46 255.7,131.09 256.0,130.72 256.4,130.34 256.7,129.97 257.0,129.60 257.4,129.23 257.7,128.86 258.1,128.50 258.4,128.13 258.8,127.76 259.1,127.39 259.5,127.01 259.8,126.62 260.1,126.23 260.5,125.83 260.8,125.43 261.2,125.02 261.5,124.61 261.9,124.20 262.2,123.78 262.6,123.36 262.9,122.94 263.2,122.52 263.6,122.09 263.9,121.67 264.3,121.24 264.6,120.81 265.0,120.39 265.3,119.96 265.7,119.54 266.0,119.11 266.3,118.69 266.7,118.27 267.0,117.85 267.4,117.43 267.7,117.02 268.1,116.61 268.4,116.21 268.8,115.81 269.1,115.41 269.4,115.02 269.8,114.63 270.1,114.24 270.5,113.85 270.8,113.46 271.2,113.08 271.5,112.69 271.9,112.31 272.2,111.93 272.5,111.54 272.9,111.16 273.2,110.78 273.6,110.40 273.9,110.02 274.3,109.65 274.6,109.27 275.0,108.89 275.3,108.52 275.6,108.15 276.0,107.77 276.3,107.40 276.7,107.03 277.0,106.66 277.4,106.29 277.7,105.92 278.1,105.55 278.4,105.19 278.7,104.82 279.1,104.46 279.4,104.09 279.8,103.73 280.1,103.36 280.5,103.00 280.8,102.64 281.2,102.28 281.5,101.92 281.8,101.56 282.2,101.20 282.5,100.84 282.9,100.49 283.2,100.13 283.6,99.78 283.9,99.42 284.3,99.07 284.6,98.72 284.9,98.36 285.3,98.01 285.6,97.66 286.0,97.31 286.3,96.96 286.7,96.62 287.0,96.27 287.4,95.92 287.7,95.58 288.0,95.23 288.4,94.89 288.7,94.54 289.1,94.20 289.4,93.86 289.8,93.52 290.1,93.18 290.5,92.83 290.8,92.49 291.1,92.14 291.5,91.80 291.8,91.45 292.2,91.10 292.5,90.75 292.9,90.39 293.2,90.04 293.6,89.69 293.9,89.34 294.2,88.99 294.6,88.64 294.9,88.29 295.3,87.94 295.6,87.59 296.0,87.24 296.3,86.90 296.7,86.56 297.0,86.21 297.3,85.88 297.7,85.54 298.0,85.21 298.4,84.88 298.7,84.55 299.1,84.23 299.4,83.91 299.8,83.60 300.1,83.28 300.4,82.98 300.8,82.68 301.1,82.38 301.5,82.09 301.8,81.80 302.2,81.52 302.5,81.25 302.9,80.98 303.2,80.71 303.5,80.45 303.9,80.19 304.2,79.92 304.6,79.66 304.9,79.41 305.3,79.15 305.6,78.89 306.0,78.64 306.3,78.39 306.6,78.14 307.0,77.89 307.3,77.65 307.7,77.41 308.0,77.17 308.4,76.93 308.7,76.70 309.1,76.47 309.4,76.25 309.7,76.02 310.1,75.80 310.4,75.58 310.8,75.37 311.1,75.16 311.5,74.96 311.8,74.75 312.2,74.56 312.5,74.36 312.8,74.17 313.2,73.99 313.5,73.81 313.9,73.63 314.2,73.46 314.6,73.30 314.9,73.13 315.3,72.98 315.6,72.82 315.9,72.67 316.3,72.51 316.6,72.36 317.0,72.21 317.3,72.07 317.7,71.92 318.0,71.78 318.4,71.64 318.7,71.50 319.0,71.36 319.4,71.22 319.7,71.09 320.1,70.95 320.4,70.82 320.8,70.70 321.1,70.57 321.5,70.44 321.8,70.32 322.1,70.20 322.5,70.08 322.8,69.97 323.2,69.85 323.5,69.74 323.9,69.63 324.2,69.52 324.6,69.41 324.9,69.31 325.2,69.21 325.6,69.11 325.9,69.01 326.3,68.92 326.6,68.83 327.0,68.74 327.3,68.65 327.7,68.56 328.0,68.48 328.3,68.40 328.7,68.32 329.0,68.24 329.4,68.17 329.7,68.09 330.1,68.01 330.4,67.94 330.8,67.86 331.1,67.79 331.4,67.72 331.8,67.64 332.1,67.57 332.5,67.50 332.8,67.44 333.2,67.37 333.5,67.30 333.9,67.24 334.2,67.18 334.5,67.11 334.9,67.05 335.2,67.00 335.6,66.94 335.9,66.89 336.3,66.83 336.6,66.78 337.0,66.73 337.3,66.69 337.6,66.64 338.0,66.60 338.3,66.56 338.7,66.52 339.0,66.49 339.4,66.45 339.7,66.42 340.1,66.39 340.4,66.37 340.7,66.34 341.1,66.31 341.4,66.29 341.8,66.26 342.1,66.24 342.5,66.21 342.8,66.19 343.2,66.17 343.5,66.15 343.8,66.13 344.2,66.12 344.5,66.11 344.9,66.10 345.2,66.09 345.6,66.09 345.9,66.10 346.3,66.11 346.6,66.12 346.9,66.14 347.3,66.17 347.6,66.19 348.0,66.22 348.3,66.25 348.7,66.29 349.0,66.32 349.4,66.35 349.7,66.38 350.0,66.41 350.4,66.44 350.7,66.47 351.1,66.50 351.4,66.53 351.8,66.56 352.1,66.59 352.5,66.62 352.8,66.66 353.1,66.69 353.5,66.72 353.8,66.76 354.2,66.79 354.5,66.83 354.9,66.87 355.2,66.90 355.6,66.94 355.9,66.98 356.2,67.03 356.6,67.07 356.9,67.11 357.3,67.16 357.6,67.20 358.0,67.25 358.3,67.30 358.7,67.35 359.0,67.40 359.3,67.46 359.7,67.52 360.0,67.58 360.4,67.64 360.7,67.71 361.1,67.77 361.4,67.84 361.8,67.92 362.1,67.99 362.4,68.07 362.8,68.15 363.1,68.23 363.5,68.32 363.8,68.40 364.2,68.49 364.5,68.58 364.9,68.68 365.2,68.77 365.5,68.87 365.9,68.97 366.2,69.08 366.6,69.18 366.9,69.29 367.3,69.40 367.6,69.51 368.0,69.62 368.3,69.74 368.6,69.86 369.0,69.98 369.3,70.11 369.7,70.25 370.0,70.40 370.4,70.56 370.7,70.72 371.1,70.89 371.4,71.07 371.7,71.25 372.1,71.43 372.4,71.62 372.8,71.81 373.1,72.00 373.5,72.20 373.8,72.39 374.2,72.58 374.5,72.77 374.8,72.96 375.2,73.15 375.5,73.34 375.9,73.53 376.2,73.72 376.6,73.91 376.9,74.10 377.3,74.30 377.6,74.49 377.9,74.69 378.3,74.89 378.6,75.08 379.0,75.28 379.3,75.48 379.7,75.69 380.0,75.89 380.4,76.09 380.7,76.30 381.0,76.50 381.4,76.71 381.7,76.92 382.1,77.13 382.4,77.34 382.8,77.55 383.1,77.77 383.5,77.98 383.8,78.20 384.1,78.42 384.5,78.64 384.8,78.86 385.2,79.08 385.5,79.30 385.9,79.53 386.2,79.75 386.6,79.98 386.9,80.21 387.2,80.44 387.6,80.67 387.9,80.90 388.3,81.14 388.6,81.38 389.0,81.62 389.3,81.86 389.7,82.10 390.0,82.35 390.3,82.60 390.7,82.85 391.0,83.10 391.4,83.35 391.7,83.60 392.1,83.86 392.4,84.12 392.8,84.38 393.1,84.64 393.4,84.90 393.8,85.17 394.1,85.43 394.5,85.70 394.8,85.96 395.2,86.23 395.5,86.50 395.9,86.77 396.2,87.05 396.5,87.32 396.9,87.59 397.2,87.87 397.6,88.14 397.9,88.42 398.3,88.70 398.6,88.98 399.0,89.25 399.3,89.53 399.6,89.81 400.0,90.09 400.3,90.38 400.7,90.66 401.0,90.95 401.4,91.24 401.7,91.53 402.1,91.82 402.4,92.11 402.7,92.41 403.1,92.71 403.4,93.01 403.8,93.31 404.1,93.61 404.5,93.91 404.8,94.22 405.2,94.52 405.5,94.83 405.8,95.14 406.2,95.44 406.5,95.75 406.9,96.06 407.2,96.37 407.6,96.68 407.9,96.99 408.3,97.29 408.6,97.60 408.9,97.91 409.3,98.22 409.6,98.53 410.0,98.83 410.3,99.14 410.7,99.44 411.0,99.74 411.4,100.05 411.7,100.35 412.0,100.65 412.4,100.94 412.7,101.24 413.1,101.54 413.4,101.83 413.8,102.13 414.1,102.43 414.5,102.74 414.8,103.05 415.1,103.36 415.5,103.68 415.8,104.00 416.2,104.32 416.5,104.63 416.9,104.96 417.2,105.28 417.6,105.60 417.9,105.92 418.2,106.25 418.6,106.58 418.9,106.90 419.3,107.23 419.6,107.56 420.0,107.89 420.3,108.22 420.7,108.55 421.0,108.89 421.3,109.22 421.7,109.55 422.0,109.89 422.4,110.23 422.7,110.56 423.1,110.90 423.4,111.24 423.8,111.58 424.1,111.92 424.4,112.26 424.8,112.60 425.1,112.95 425.5,113.29 425.8,113.63 426.2,113.98 426.5,114.32 426.9,114.67 427.2,115.02 427.5,115.36 427.9,115.71 428.2,116.06 428.6,116.41 428.9,116.76 429.3,117.11 429.6,117.46 430.0,117.81 430.3,118.17 430.6,118.52 431.0,118.87 431.3,119.22 431.7,119.58 432.0,119.93 432.4,120.29 432.7,120.64 433.1,121.00 433.4,121.35 433.7,121.71 434.1,122.07 434.4,122.42 434.8,122.78 435.1,123.14 435.5,123.50 435.8,123.86 436.2,124.22 436.5,124.58 436.8,124.95 437.2,125.31 437.5,125.68 437.9,126.06 438.2,126.43 438.6,126.81 438.9,127.18 439.3,127.56 439.6,127.95 439.9,128.34 440.3,128.74 440.6,129.14 441.0,129.55 441.3,129.96 441.7,130.37 442.0,130.78 442.4,131.20 442.7,131.61 443.0,132.03 443.4,132.45 443.7,132.86 444.1,133.28 444.4,133.69 444.8,134.10 445.1,134.50 445.5,134.91 445.8,135.30 446.1,135.70 446.5,136.09 446.8,136.47 447.2,136.85 447.5,137.23 447.9,137.59 448.2,137.96 448.6,138.35 448.9,138.74 449.2,139.14 449.6,139.55 449.9,139.96 450.3,140.39 450.6,140.83 451.0,141.27 451.3,141.72 451.7,142.19 452.0,142.65 452.3,142.70 452.7,142.70 453.0,143.70 453.4,143.70 453.7,143.70 454.1,143.70 454.4,143.70 454.8,144.70 455.1,143.70 455.4,143.70 455.8,143.70 456.1,143.70 456.5,143.70 456.8,143.70 457.2,143.70 457.5,143.70 457.9,143.70 458.2,143.70 458.5,143.70 458.9,143.70 459.2,143.70 459.6,143.70 459.9,143.70 460.3,143.70 460.6,143.70 461.0,143.70 461.3,143.70 461.6,143.70 462.0,143.70 462.3,144.70 462.7,144.70 463.0,144.70 463.4,144.70 463.7,144.70 464.1,144.70 464.4,144.70 464.7,144.70 465.1,144.70 465.4,144.70 465.8,144.70 466.1,144.70 466.5,144.70 466.8,144.70 467.2,144.70 467.5,144.70 467.8,144.70 468.2,144.70 468.5,144.70 468.9,144.70 469.2,144.70 469.6,144.70 469.9,144.70 470.3,144.70 470.6,144.70 470.9,143.70 471.3,143.70 471.6,143.70 472.0,143.70 472.3,143.70 472.7,143.70 473.0,144.70 473.4,144.70 473.7,144.70 474.0,144.70 474.4,144.70 474.7,144.70 475.1,144.70 475.4,144.70 475.8,144.70 476.1,144.70 476.5,144.70 476.8,144.70 477.1,144.70 477.5,144.70 477.8,144.70 478.2,143.70 478.5,143.70 478.9,143.70 479.2,143.70 479.6,143.70 479.9,143.70 480.2,143.70 480.6,143.70 480.9,143.70 481.3,143.70 481.6,143.70 482.0,143.70 482.3,143.70 482.7,143.70 483.0,143.70 483.3,143.70 483.7,143.70 484.0,143.70 484.4,143.70 484.7,143.70 485.1,143.70 485.4,143.70 485.8,143.70 486.1,143.70 486.4,143.70 486.8,143.70 487.1,143.70 487.5,143.70 487.8,143.70 488.2,143.70 488.5,143.70 488.9,143.70 489.2,143.70 489.5,143.70 489.9,143.70 490.2,143.70 490.6,143.70 490.9,143.70 491.3,144.70 491.6,144.70 492.0,144.70 492.3,144.70 492.6,144.70 493.0,144.70 493.3,144.70 493.7,144.70 494.0,144.70 494.4,144.70 494.7,144.70 495.1,144.70 495.4,144.70 495.7,144.70 496.1,144.70 496.4,144.70 496.8,144.70 497.1,144.70 497.5,144.70 497.8,144.70 498.2,144.70 498.5,144.70 498.8,144.70 499.2,144.70 499.5,144.70 499.9,144.70 500.2,144.70 500.6,144.70 500.9,144.70 501.3,144.70 501.6,144.70 501.9,144.70 502.3,144.70 502.6,144.70 503.0,144.70 503.3,144.70 503.7,144.70 504.0,144.70 504.4,144.70 504.7,144.70 505.0,144.70 505.4,144.70 505.7,144.70 506.1,144.70 506.4,144.70 506.8,144.70 507.1,144.70 507.5,144.70 507.8,144.70 508.1,144.70 508.5,144.70 508.8,144.70 509.2,144.70 509.5,144.70 509.9,144.70 510.2,143.70 510.6,143.70 510.9,143.70 511.2,143.70 511.6,143.70 511.9,143.70 512.3,143.70 512.6,143.70 513.0,143.70 513.3,143.70 513.7,143.70 514.0,143.70 514.3,143.70 514.7,143.70 515.0,143.70 515.4,143.70 515.7,143.70 516.1,143.70 516.4,143.70 516.8,144.70 517.1,144.70 517.4,144.70 517.8,144.70 518.1,144.70 518.5,144.70 518.8,144.70 519.2,144.70 519.5,144.70 519.9,144.70 520.2,144.70 520.5,144.70 520.9,144.70 521.2,144.70 521.6,144.70 521.9,144.70 522.3,144.70 522.6,144.70 523.0,144.70 523.3,144.70 523.6,144.70 524.0,144.70 524.3,144.70 524.7,144.70 525.0,144.70 525.4,144.70 525.7,144.70 526.1,144.70 526.4,144.70 526.7,144.70 527.1,144.70 527.4,144.70 527.8,144.70 528.1,144.70 528.5,144.70 528.8,144.70 529.2,144.70 529.5,144.70 529.8,144.70 530.2,144.70 530.5,144.70 530.9,144.70 531.2,144.70 531.6,144.70 531.9,144.70 532.3,144.70 532.6,144.70 532.9,144.70 533.3,144.70 533.6,144.70 534.0,144.70 534.3,144.70 534.7,144.70 535.0,144.70 535.4,144.70 535.7,144.70 536.0,144.70 536.4,144.70 536.7,144.70 537.1,144.70 537.4,144.70 537.8,144.70 538.1,144.70 538.5,144.70 538.8,144.70 539.1,144.70 539.5,144.70 539.8,144.70 540.2,144.70 540.5,144.70 540.9,144.70 541.2,144.70 541.6,144.70 541.9,144.70 542.2,144.70 542.6,144.70 542.9,144.70 543.3,144.70 543.6,144.70 544.0,144.70 544.3,143.70 544.7,143.70 545.0,143.70 545.3,143.70 545.7,143.70 546.0,143.70 546.4,143.70 546.7,143.70 547.1,143.70 547.4,143.70 547.8,143.70 548.1,143.70 548.4,143.70 548.8,143.70 549.1,143.70 549.5,143.70 549.8,143.70 550.2,143.70 550.5,143.70 550.9,143.70 551.2,143.70 551.5,143.70 551.9,143.70 552.2,143.70 552.6,143.70 552.9,143.70 553.3,143.70 553.6,143.70 554.0,143.70 554.3,143.70 554.6,143.70 555.0,143.70 555.3,144.70 555.7,144.70 556.0,144.70 556.4,144.70 556.7,144.70 557.1,144.70 557.4,144.70 557.7,144.70 558.1,144.70 558.4,144.70 558.8,144.70 559.1,144.70 559.5,144.70 559.8,144.70 560.2,144.70 560.5,144.70 560.8,144.70 561.2,144.70 561.5,144.70 561.9,144.70 562.2,144.70 562.6,144.70 562.9,144.70 563.3,144.70 563.6,144.70 563.9,144.70 564.3,144.70 564.6,144.70 565.0,144.70 565.3,144.70 565.7,144.70 566.0,144.70 566.4,144.70 566.7,144.70 567.0,144.70 567.4,144.70 567.7,144.70 568.1,144.70 568.4,144.70 568.8,144.70 569.1,144.70 569.5,144.70 569.8,144.70 570.1,144.70 570.5,144.70 570.8,144.70 571.2,144.70 571.5,144.70 571.9,144.70 572.2,144.70 572.6,144.70 572.9,144.70 573.2,144.70 573.6,144.70 573.9,144.70 574.3,144.70 574.6,144.70 575.0,144.70 575.3,144.70 575.7,144.70 576.0,144.70" fill="none" stroke="#00f" stroke-width="5.6" stroke-linejoin="round" stroke-linecap="round"/>
<g clip-path="url(#c0)" fill="#00f">
<circle cx="374.5" cy="81.5" r="2.15"/>
<circle cx="398.5" cy="91.5" r="2.15"/>
<circle cx="403.5" cy="95.5" r="2.15"/>
<circle cx="419.5" cy="124.5" r="2.15"/>
<circle cx="432.5" cy="127.5" r="2.15"/>
<circle cx="320.5" cy="74.5" r="2.15"/>
</g>
<g fill="#000" shape-rendering="crispEdges">
<rect x="80" y="58" width="1" height="87"/>
<rect x="576" y="58" width="1" height="87"/>
<rect x="80" y="58" width="497" height="1"/>
<rect x="80" y="144" width="497" height="1"/>
<rect x="80" y="144" width="1" height="5"/>
<rect x="80" y="149" width="1" height="1" fill-opacity="0.4"/>
<rect x="163" y="144" width="1" height="5"/>
<rect x="163" y="149" width="1" height="1" fill-opacity="0.4"/>
<rect x="245" y="144" width="1" height="5"/>
<rect x="245" y="149" width="1" height="1" fill-opacity="0.4"/>
<rect x="328" y="144" width="1" height="5"/>
<rect x="328" y="149" width="1" height="1" fill-opacity="0.4"/>
<rect x="411" y="144" width="1" height="5"/>
<rect x="411" y="149" width="1" height="1" fill-opacity="0.4"/>
<rect x="493" y="144" width="1" height="5"/>
<rect x="493" y="149" width="1" height="1" fill-opacity="0.4"/>
<rect x="576" y="144" width="1" height="5"/>
<rect x="576" y="149" width="1" height="1" fill-opacity="0.4"/>
<rect x="75" y="144" width="5" height="1"/>
<rect x="75" y="92" width="5" height="1"/>
</g>
<text x="69.70" y="149.40" font-size="14.2" fill="#000" text-anchor="end" textLength="8.48" lengthAdjust="spacingAndGlyphs">0</text>
<text x="69.70" y="97.40" font-size="14.2" fill="#000" text-anchor="end" textLength="25.45" lengthAdjust="spacingAndGlyphs">500</text>
<g transform="translate(32.1,100.58) rotate(-90)" font-size="14.2">
<text x="-24.4" y="-1.2">[</text>
<text x="-19.0" y="0" textLength="13.6" lengthAdjust="spacingAndGlyphs">W</text>
<text x="-5.7" y="0" textLength="5.3" lengthAdjust="spacingAndGlyphs">/</text>
<text x="-0.2" y="0" textLength="13.4" lengthAdjust="spacingAndGlyphs">m</text>
<text x="12.4" y="-5.8" font-size="10.79">2</text>
<text x="19.5" y="-1.2">]</text>
</g>
<rect x="418.2" y="82.2" width="154.4" height="42.5" rx="2.8" fill="#4d4d4d" fill-opacity="0.58"/>
<rect x="415.5" y="79.5" width="154.3" height="42.4" rx="2.5" fill="#fff" stroke="#ccc" stroke-width="1.39"/>
<line x1="419.0" x2="446.8" y1="90.3" y2="90.3" stroke="#f00" stroke-width="2.78"/>
<circle cx="432.5" cy="109.5" r="2.15" fill="#00f"/>
<text x="454.95" y="94.00" font-size="12.8" fill="#000" textLength="109.80" lengthAdjust="spacingAndGlyphs">LibRadtran Model</text>
<text x="454.95" y="113.90" font-size="12.8" fill="#000" textLength="34.55" lengthAdjust="spacingAndGlyphs">BSRN</text>
<g fill="#b0b0b0" shape-rendering="crispEdges">
<rect x="80" y="152" width="1" height="86"/>
<rect x="163" y="152" width="1" height="86"/>
<rect x="245" y="152" width="1" height="86"/>
<rect x="328" y="152" width="1" height="86"/>
<rect x="411" y="152" width="1" height="86"/>
<rect x="493" y="152" width="1" height="86"/>
<rect x="576" y="152" width="1" height="86"/>
<rect x="80" y="238" width="496" height="1"/>
<rect x="80" y="202" width="496" height="1"/>
<rect x="80" y="166" width="496" height="1"/>
</g>
<polyline clip-path="url(#c1)" points="239.48,216.78 239.82,215.63 240.17,214.48 240.51,213.33 240.86,212.20 241.20,211.07 241.54,209.96 241.89,208.85 242.23,207.73 242.58,206.61 242.92,205.49 243.27,204.39 243.61,203.34 243.96,202.35 244.30,201.40 244.64,200.48 244.99,199.58 245.33,198.70 245.68,197.85 246.02,197.02 246.37,196.22 246.71,195.44 247.06,194.69 247.40,193.97 247.74,193.28 248.09,192.61 248.43,191.96 248.78,191.32 249.12,190.71 249.47,190.11 249.81,189.53 250.16,188.97 250.50,188.43 250.84,187.90 251.19,187.40 251.53,186.90 251.88,186.42 252.22,185.95 252.57,185.49 252.91,185.04 253.26,184.60 253.60,184.18 253.94,183.77 254.29,183.36 254.63,182.97 254.98,182.60 255.32,182.23 255.67,181.88 256.01,181.53 256.36,181.19 256.70,180.85 257.04,180.52 257.39,180.19 257.73,179.88 258.08,179.56 258.42,179.25 258.77,178.95 259.11,178.66 259.46,178.37 259.80,178.09 260.14,177.81 260.49,177.54 260.83,177.28 261.18,177.03 261.52,176.78 261.87,176.53 262.21,176.30 262.56,176.07 262.90,175.84 263.24,175.62 263.59,175.41 263.93,175.20 264.28,174.99 264.62,174.79 264.97,174.59 265.31,174.40 265.66,174.21 266.00,174.02 266.34,173.84 266.69,173.66 267.03,173.49 267.38,173.31 267.72,173.14 268.07,172.98 268.41,172.81 268.76,172.65 269.10,172.49 269.44,172.33 269.79,172.18 270.13,172.02 270.48,171.87 270.82,171.72 271.17,171.57 271.51,171.42 271.86,171.28 272.20,171.13 272.54,170.99 272.89,170.85 273.23,170.71 273.58,170.57 273.92,170.43 274.27,170.30 274.61,170.16 274.96,170.03 275.30,169.90 275.64,169.77 275.99,169.64 276.33,169.51 276.68,169.38 277.02,169.26 277.37,169.13 277.71,169.01 278.06,168.89 278.40,168.77 278.74,168.65 279.09,168.53 279.43,168.42 279.78,168.30 280.12,168.19 280.47,168.08 280.81,167.97 281.16,167.86 281.50,167.75 281.84,167.64 282.19,167.54 282.53,167.43 282.88,167.33 283.22,167.22 283.57,167.12 283.91,167.02 284.26,166.92 284.60,166.82 284.94,166.72 285.29,166.62 285.63,166.52 285.98,166.43 286.32,166.33 286.67,166.24 287.01,166.15 287.36,166.05 287.70,165.96 288.04,165.87 288.39,165.78 288.73,165.69 289.08,165.60 289.42,165.52 289.77,165.43 290.11,165.35 290.46,165.26 290.80,165.18 291.14,165.09 291.49,165.01 291.83,164.93 292.18,164.85 292.52,164.77 292.87,164.69 293.21,164.61 293.56,164.54 293.90,164.46 294.24,164.39 294.59,164.31 294.93,164.24 295.28,164.16 295.62,164.09 295.97,164.02 296.31,163.96 296.66,163.89 297.00,163.82 297.34,163.76 297.69,163.69 298.03,163.63 298.38,163.56 298.72,163.50 299.07,163.44 299.41,163.38 299.76,163.32 300.10,163.26 300.44,163.20 300.79,163.14 301.13,163.08 301.48,163.02 301.82,162.96 302.17,162.90 302.51,162.84 302.86,162.78 303.20,162.72 303.54,162.66 303.89,162.60 304.23,162.53 304.58,162.47 304.92,162.41 305.27,162.35 305.61,162.28 305.96,162.22 306.30,162.15 306.64,162.09 306.99,162.02 307.33,161.95 307.68,161.87 308.02,161.80 308.37,161.71 308.71,161.63 309.06,161.55 309.40,161.47 309.74,161.38 310.09,161.31 310.43,161.23 310.78,161.16 311.12,161.09 311.47,161.03 311.81,160.97 312.16,160.93 312.50,160.89 312.84,160.85 313.19,160.82 313.53,160.79 313.88,160.76 314.22,160.72 314.57,160.69 314.91,160.66 315.26,160.63 315.60,160.60 315.94,160.57 316.29,160.55 316.63,160.52 316.98,160.49 317.32,160.47 317.67,160.44 318.01,160.41 318.36,160.39 318.70,160.37 319.04,160.34 319.39,160.32 319.73,160.30 320.08,160.28 320.42,160.26 320.77,160.24 321.11,160.22 321.46,160.20 321.80,160.18 322.14,160.16 322.49,160.14 322.83,160.13 323.18,160.11 323.52,160.10 323.87,160.08 324.21,160.07 324.56,160.06 324.90,160.04 325.24,160.03 325.59,160.02 325.93,160.01 326.28,160.00 326.62,159.99 326.97,159.99 327.31,159.98 327.66,159.97 328.00,159.97 328.34,159.96 328.69,159.96 329.03,159.95 329.38,159.95 329.72,159.94 330.07,159.94 330.41,159.93 330.76,159.93 331.10,159.93 331.44,159.92 331.79,159.92 332.13,159.92 332.48,159.91 332.82,159.91 333.17,159.90 333.51,159.90 333.86,159.90 334.20,159.89 334.54,159.89 334.89,159.89 335.23,159.88 335.58,159.88 335.92,159.88 336.27,159.87 336.61,159.87 336.96,159.87 337.30,159.87 337.64,159.86 337.99,159.86 338.33,159.86 338.68,159.86 339.02,159.85 339.37,159.85 339.71,159.85 340.06,159.85 340.40,159.84 340.74,159.84 341.09,159.84 341.43,159.84 341.78,159.84 342.12,159.83 342.47,159.83 342.81,159.83 343.16,159.83 343.50,159.83 343.84,159.83 344.19,159.82 344.53,159.82 344.88,159.82 345.22,159.82 345.57,159.82 345.91,159.82 346.26,159.82 346.60,159.82 346.94,159.82 347.29,159.82 347.63,159.81 347.98,159.81 348.32,159.81 348.67,159.81 349.01,159.81 349.36,159.81 349.70,159.81 350.04,159.81 350.39,159.82 350.73,159.82 351.08,159.84 351.42,159.85 351.77,159.87 352.11,159.89 352.46,159.91 352.80,159.93 353.14,159.96 353.49,159.99 353.83,160.02 354.18,160.05 354.52,160.09 354.87,160.12 355.21,160.16 355.56,160.19 355.90,160.23 356.24,160.26 356.59,160.30 356.93,160.34 357.28,160.37 357.62,160.41 357.97,160.44 358.31,160.47 358.66,160.50 359.00,160.53 359.34,160.56 359.69,160.58 360.03,160.61 360.38,160.64 360.72,160.67 361.07,160.69 361.41,160.72 361.76,160.75 362.10,160.77 362.44,160.80 362.79,160.83 363.13,160.85 363.48,160.88 363.82,160.91 364.17,160.94 364.51,160.96 364.86,160.99 365.20,161.02 365.54,161.05 365.89,161.08 366.23,161.10 366.58,161.13 366.92,161.16 367.27,161.19 367.61,161.22 367.96,161.25 368.30,161.28 368.64,161.31 368.99,161.34 369.33,161.37 369.68,161.40 370.02,161.43 370.37,161.47 370.71,161.50 371.06,161.53 371.40,161.56 371.74,161.59 372.09,161.62 372.43,161.66 372.78,161.69 373.12,161.72 373.47,161.75 373.81,161.79 374.16,161.82 374.50,161.86 374.84,161.89 375.19,161.92 375.53,161.96 375.88,162.00 376.22,162.03 376.57,162.07 376.91,162.10 377.26,162.14 377.60,162.18 377.94,162.22 378.29,162.26 378.63,162.30 378.98,162.33 379.32,162.38 379.67,162.42 380.01,162.46 380.36,162.50 380.70,162.54 381.04,162.59 381.39,162.63 381.73,162.68 382.08,162.72 382.42,162.77 382.77,162.82 383.11,162.86 383.46,162.91 383.80,162.96 384.14,163.01 384.49,163.06 384.83,163.11 385.18,163.16 385.52,163.21 385.87,163.26 386.21,163.31 386.56,163.37 386.90,163.42 387.24,163.47 387.59,163.53 387.93,163.58 388.28,163.64 388.62,163.69 388.97,163.75 389.31,163.80 389.66,163.86 390.00,163.91 390.34,163.97 390.69,164.03 391.03,164.08 391.38,164.14 391.72,164.20 392.07,164.26 392.41,164.31 392.76,164.37 393.10,164.43 393.44,164.49 393.79,164.55 394.13,164.61 394.48,164.67 394.82,164.73 395.17,164.79 395.51,164.86 395.86,164.92 396.20,164.98 396.54,165.05 396.89,165.11 397.23,165.17 397.58,165.24 397.92,165.31 398.27,165.37 398.61,165.44 398.96,165.50 399.30,165.57 399.64,165.64 399.99,165.71 400.33,165.78 400.68,165.85 401.02,165.92 401.37,165.99 401.71,166.06 402.06,166.13 402.40,166.20 402.74,166.27 403.09,166.35 403.43,166.42 403.78,166.49 404.12,166.57 404.47,166.64 404.81,166.72 405.16,166.79 405.50,166.87 405.84,166.94 406.19,167.02 406.53,167.09 406.88,167.17 407.22,167.24 407.57,167.32 407.91,167.39 408.26,167.47 408.60,167.54 408.94,167.62 409.29,167.69 409.63,167.77 409.98,167.85 410.32,167.92 410.67,168.00 411.01,168.08 411.36,168.17 411.70,168.25 412.04,168.33 412.39,168.42 412.73,168.51 413.08,168.59 413.42,168.68 413.77,168.78 414.11,168.87 414.46,168.97 414.80,169.06 415.14,169.16 415.49,169.27 415.83,169.37 416.18,169.48 416.52,169.59 416.87,169.70 417.21,169.82 417.56,169.94 417.90,170.06 418.24,170.19 418.59,170.32 418.93,170.46 419.28,170.61 419.62,170.76 419.97,170.92 420.31,171.08 420.66,171.24 421.00,171.41 421.34,171.59 421.69,171.77 422.03,171.95 422.38,172.13 422.72,172.32 423.07,172.51 423.41,172.71 423.76,172.91 424.10,173.11 424.44,173.31 424.79,173.52 425.13,173.73 425.48,173.94 425.82,174.15 426.17,174.36 426.51,174.58 426.86,174.79 427.20,175.01 427.54,175.23 427.89,175.45 428.23,175.67 428.58,175.89 428.92,176.11 429.27,176.33 429.61,176.55 429.96,176.77 430.30,176.99 430.64,177.21 430.99,177.44 431.33,177.67 431.68,177.90 432.02,178.14 432.37,178.38 432.71,178.63 433.06,178.88 433.40,179.13 433.74,179.38 434.09,179.64 434.43,179.90 434.78,180.17 435.12,180.44 435.47,180.71 435.81,180.98 436.16,181.26 436.50,181.54 436.84,181.83 437.19,182.12 437.53,182.41 437.88,182.71 438.22,183.02 438.57,183.33 438.91,183.65 439.26,183.98 439.60,184.32 439.94,184.67 440.29,185.03 440.63,185.40 440.98,185.78 441.32,186.18 441.67,186.58 442.01,187.01 442.36,187.45 442.70,187.90 443.04,188.37 443.39,188.86 443.73,189.36 444.08,189.89 444.42,190.44 444.77,191.01 445.11,191.60 445.46,192.20 445.80,192.83 446.14,193.49 446.49,194.18 446.83,194.90 447.18,195.65 447.52,196.45 447.87,197.27 448.21,198.15 448.56,199.09 448.90,200.09 449.24,201.14 449.59,202.25 449.93,203.45 450.28,204.70 450.62,205.99 450.97,207.30 451.31,208.59 451.66,209.84 452.00,211.08 452.34,212.32 452.69,213.55 453.03,214.78 453.38,216.01" fill="none" stroke="#f00" stroke-width="2.78" stroke-linejoin="round" stroke-linecap="square"/>
<polyline clip-path="url(#c1)" points="80.0,238.70 80.3,238.70 80.7,238.70 81.0,238.70 81.4,238.70 81.7,238.70 82.1,238.70 82.4,238.70 82.8,238.70 83.1,238.70 83.4,238.70 83.8,238.70 84.1,238.70 84.5,238.70 84.8,238.70 85.2,238.70 85.5,238.70 85.9,238.70 86.2,238.70 86.5,238.70 86.9,238.70 87.2,238.70 87.6,238.70 87.9,238.70 88.3,238.70 88.6,238.70 89.0,238.70 89.3,238.70 89.6,238.70 90.0,238.70 90.3,238.70 90.7,238.70 91.0,238.70 91.4,238.70 91.7,238.70 92.1,238.70 92.4,238.70 92.7,238.70 93.1,238.70 93.4,238.70 93.8,238.70 94.1,238.70 94.5,238.70 94.8,238.70 95.2,238.70 95.5,238.70 95.8,238.70 96.2,238.70 96.5,238.70 96.9,238.70 97.2,238.70 97.6,238.70 97.9,238.70 98.3,238.70 98.6,238.70 98.9,238.70 99.3,238.70 99.6,238.70 100.0,238.70 100.3,238.70 100.7,238.70 101.0,238.70 101.4,238.70 101.7,238.70 102.0,238.70 102.4,238.70 102.7,238.70 103.1,238.70 103.4,238.70 103.8,238.70 104.1,238.70 104.5,238.70 104.8,238.70 105.1,238.70 105.5,238.70 105.8,238.70 106.2,238.70 106.5,238.70 106.9,238.70 107.2,238.70 107.6,238.70 107.9,238.70 108.2,238.70 108.6,238.70 108.9,238.70 109.3,238.70 109.6,238.70 110.0,238.70 110.3,238.70 110.7,238.70 111.0,238.70 111.3,238.70 111.7,238.70 112.0,238.70 112.4,238.70 112.7,238.70 113.1,238.70 113.4,238.70 113.8,238.70 114.1,238.70 114.4,238.70 114.8,238.70 115.1,238.70 115.5,238.70 115.8,238.70 116.2,238.70 116.5,238.70 116.9,238.70 117.2,238.70 117.5,238.70 117.9,238.70 118.2,238.70 118.6,238.70 118.9,238.70 119.3,238.70 119.6,238.70 120.0,238.70 120.3,238.70 120.6,238.70 121.0,238.70 121.3,238.70 121.7,238.70 122.0,238.70 122.4,238.70 122.7,238.70 123.1,238.70 123.4,238.70 123.7,238.70 124.1,238.70 124.4,238.70 124.8,238.70 125.1,238.70 125.5,238.70 125.8,238.70 126.2,238.70 126.5,238.70 126.8,238.70 127.2,238.70 127.5,238.70 127.9,238.70 128.2,238.70 128.6,238.70 128.9,238.70 129.3,238.70 129.6,238.70 129.9,238.70 130.3,238.70 130.6,238.70 131.0,238.70 131.3,238.70 131.7,238.70 132.0,238.70 132.4,238.70 132.7,238.70 133.0,238.70 133.4,238.70 133.7,238.70 134.1,238.70 134.4,238.70 134.8,238.70 135.1,238.70 135.5,238.70 135.8,238.70 136.1,238.70 136.5,238.70 136.8,238.70 137.2,238.70 137.5,238.70 137.9,238.70 138.2,238.70 138.6,238.70 138.9,238.70 139.2,238.70 139.6,238.70 139.9,238.70 140.3,238.70 140.6,238.70 141.0,238.70 141.3,238.70 141.7,238.70 142.0,238.70 142.3,238.70 142.7,238.70 143.0,238.70 143.4,238.70 143.7,238.70 144.1,238.70 144.4,238.70 144.8,238.70 145.1,238.70 145.4,238.70 145.8,238.70 146.1,238.70 146.5,238.70 146.8,238.70 147.2,238.70 147.5,238.70 147.9,238.70 148.2,238.70 148.5,238.70 148.9,238.70 149.2,238.70 149.6,238.70 149.9,238.70 150.3,238.70 150.6,238.70 151.0,238.70 151.3,238.70 151.6,238.70 152.0,238.70 152.3,238.70 152.7,238.70 153.0,238.70 153.4,238.70 153.7,238.70 154.1,238.70 154.4,238.70 154.7,238.70 155.1,238.70 155.4,238.70 155.8,238.70 156.1,238.70 156.5,238.70 156.8,238.70 157.2,238.70 157.5,238.70 157.8,238.70 158.2,238.70 158.5,238.70 158.9,238.70 159.2,238.70 159.6,238.70 159.9,238.70 160.3,238.70 160.6,238.70 160.9,238.70 161.3,238.70 161.6,238.70 162.0,238.70 162.3,238.70 162.7,238.70 163.0,238.70 163.4,238.70 163.7,238.70 164.0,238.70 164.4,238.70 164.7,238.70 165.1,238.70 165.4,238.70 165.8,238.70 166.1,238.70 166.5,238.70 166.8,238.70 167.1,238.70 167.5,238.70 167.8,238.70 168.2,238.70 168.5,238.70 168.9,238.70 169.2,238.70 169.6,238.70 169.9,238.70 170.2,238.70 170.6,238.70 170.9,238.70 171.3,238.70 171.6,238.70 172.0,238.70 172.3,238.70 172.7,238.70 173.0,238.70 173.3,238.70 173.7,238.70 174.0,238.70 174.4,238.70 174.7,238.70 175.1,238.70 175.4,238.70 175.8,238.70 176.1,238.70 176.4,238.70 176.8,238.70 177.1,238.70 177.5,238.70 177.8,238.70 178.2,238.70 178.5,238.70 178.9,238.70 179.2,238.70 179.5,238.70 179.9,238.70 180.2,238.70 180.6,238.70 180.9,238.70 181.3,238.70 181.6,238.70 182.0,238.70 182.3,238.70 182.6,238.70 183.0,238.70 183.3,238.70 183.7,238.70 184.0,238.70 184.4,238.70 184.7,238.70 185.1,238.70 185.4,238.70 185.7,238.70 186.1,238.70 186.4,238.70 186.8,238.70 187.1,238.70 187.5,238.70 187.8,238.70 188.2,238.70 188.5,238.70 188.8,238.70 189.2,238.70 189.5,238.70 189.9,238.70 190.2,238.70 190.6,238.70 190.9,238.70 191.3,238.70 191.6,238.70 191.9,238.70 192.3,238.70 192.6,238.70 193.0,238.70 193.3,238.70 193.7,238.70 194.0,238.70 194.4,238.70 194.7,238.70 195.0,238.70 195.4,238.70 195.7,238.70 196.1,238.70 196.4,238.70 196.8,238.70 197.1,238.70 197.5,238.70 197.8,238.70 198.1,238.70 198.5,238.70 198.8,238.70 199.2,238.70 199.5,238.70 199.9,238.70 200.2,238.70 200.6,238.70 200.9,238.70 201.2,238.70 201.6,238.70 201.9,238.70 202.3,238.70 202.6,238.70 203.0,238.70 203.3,238.70 203.7,238.70 204.0,238.70 204.3,238.70 204.7,238.70 205.0,238.70 205.4,238.70 205.7,238.70 206.1,238.70 206.4,238.70 206.8,238.70 207.1,238.70 207.4,238.70 207.8,238.70 208.1,238.70 208.5,238.70 208.8,238.70 209.2,238.70 209.5,238.70 209.9,238.70 210.2,238.70 210.5,238.70 210.9,238.70 211.2,238.70 211.6,238.70 211.9,238.70 212.3,238.70 212.6,238.70 213.0,238.70 213.3,238.70 213.6,238.70 214.0,238.70 214.3,238.70 214.7,238.70 215.0,238.70 215.4,238.70 215.7,238.70 216.1,238.70 216.4,238.70 216.7,238.70 217.1,238.70 217.4,238.70 217.8,238.70 218.1,238.70 218.5,238.70 218.8,238.70 219.2,238.70 219.5,238.70 219.8,238.70 220.2,238.70 220.5,238.70 220.9,238.70 221.2,238.70 221.6,238.70 221.9,238.70 222.3,238.70 222.6,238.70 222.9,238.70 223.3,238.70 223.6,238.70 224.0,238.70 224.3,238.70 224.7,238.70 225.0,238.70 225.4,238.70 225.7,238.70 226.0,238.70 226.4,238.70 226.7,238.70 227.1,238.70 227.4,238.70 227.8,238.70 228.1,238.70 228.5,238.70 228.8,238.70 229.1,238.70 229.5,238.70 229.8,238.70 230.2,238.70 230.5,238.70 230.9,238.70 231.2,238.70 231.6,238.70 231.9,238.70 232.2,238.70 232.6,238.70 232.9,238.70 233.3,238.70 233.6,238.70 234.0,238.70 234.3,238.70 234.7,238.70 235.0,238.70 235.3,238.70 235.7,238.70 236.0,238.70 236.4,238.70 236.7,238.70 237.1,238.70 237.4,238.70 237.8,238.70 238.1,238.70 238.4,238.70 238.8,238.70 239.1,238.70 239.5,238.70 239.8,238.70 240.2,238.70 240.5,238.70" fill="none" stroke="#00f" stroke-width="5.6" stroke-linejoin="round" stroke-linecap="round"/>
<polyline clip-path="url(#c1)" points="241.5,216.44 241.9,215.28 242.2,214.13 242.6,212.99 242.9,211.86 243.3,210.74 243.6,209.62 244.0,208.51 244.3,207.39 244.6,206.27 245.0,205.16 245.3,204.07 245.7,203.04 246.0,202.06 246.4,201.13 246.7,200.22 247.1,199.33 247.4,198.47 247.7,197.63 248.1,196.81 248.4,196.02 248.8,195.24 249.1,194.49 249.5,193.76 249.8,193.05 250.2,192.36 250.5,191.68 250.8,191.01 251.2,190.36 251.5,189.74 251.9,189.13 252.2,188.55 252.6,187.98 252.9,187.44 253.3,186.92 253.6,186.42 253.9,185.92 254.3,185.44 254.6,184.98 255.0,184.52 255.3,184.08 255.7,183.65 256.0,183.23 256.4,182.83 256.7,182.43 257.0,182.05 257.4,181.68 257.7,181.31 258.1,180.95 258.4,180.59 258.8,180.24 259.1,179.89 259.5,179.55 259.8,179.22 260.1,178.90 260.5,178.58 260.8,178.27 261.2,177.97 261.5,177.67 261.9,177.38 262.2,177.10 262.6,176.83 262.9,176.56 263.2,176.30 263.6,176.05 263.9,175.81 264.3,175.56 264.6,175.33 265.0,175.10 265.3,174.87 265.7,174.65 266.0,174.43 266.3,174.22 266.7,174.01 267.0,173.81 267.4,173.61 267.7,173.42 268.1,173.23 268.4,173.05 268.8,172.87 269.1,172.69 269.4,172.52 269.8,172.36 270.1,172.20 270.5,172.04 270.8,171.88 271.2,171.72 271.5,171.57 271.9,171.42 272.2,171.27 272.5,171.12 272.9,170.97 273.2,170.83 273.6,170.69 273.9,170.55 274.3,170.41 274.6,170.27 275.0,170.14 275.3,170.01 275.6,169.88 276.0,169.75 276.3,169.62 276.7,169.49 277.0,169.37 277.4,169.25 277.7,169.13 278.1,169.01 278.4,168.89 278.7,168.77 279.1,168.66 279.4,168.54 279.8,168.43 280.1,168.32 280.5,168.21 280.8,168.10 281.2,168.00 281.5,167.89 281.8,167.78 282.2,167.68 282.5,167.58 282.9,167.48 283.2,167.38 283.6,167.28 283.9,167.18 284.3,167.09 284.6,166.99 284.9,166.90 285.3,166.81 285.6,166.71 286.0,166.62 286.3,166.54 286.7,166.45 287.0,166.36 287.4,166.27 287.7,166.19 288.0,166.10 288.4,166.02 288.7,165.93 289.1,165.85 289.4,165.77 289.8,165.69 290.1,165.61 290.5,165.53 290.8,165.45 291.1,165.37 291.5,165.29 291.8,165.21 292.2,165.13 292.5,165.06 292.9,164.98 293.2,164.90 293.6,164.83 293.9,164.75 294.2,164.67 294.6,164.60 294.9,164.52 295.3,164.44 295.6,164.37 296.0,164.29 296.3,164.21 296.7,164.13 297.0,164.06 297.3,163.99 297.7,163.91 298.0,163.84 298.4,163.78 298.7,163.71 299.1,163.65 299.4,163.59 299.8,163.54 300.1,163.49 300.4,163.44 300.8,163.39 301.1,163.35 301.5,163.31 301.8,163.27 302.2,163.23 302.5,163.19 302.9,163.15 303.2,163.11 303.5,163.08 303.9,163.04 304.2,163.01 304.6,162.98 304.9,162.94 305.3,162.91 305.6,162.88 306.0,162.84 306.3,162.81 306.6,162.78 307.0,162.74 307.3,162.71 307.7,162.67 308.0,162.64 308.4,162.61 308.7,162.57 309.1,162.54 309.4,162.51 309.7,162.47 310.1,162.44 310.4,162.41 310.8,162.38 311.1,162.35 311.5,162.32 311.8,162.30 312.2,162.27 312.5,162.25 312.8,162.23 313.2,162.20 313.5,162.18 313.9,162.16 314.2,162.14 314.6,162.12 314.9,162.10 315.3,162.07 315.6,162.05 315.9,162.03 316.3,162.01 316.6,161.99 317.0,161.97 317.3,161.95 317.7,161.93 318.0,161.91 318.4,161.90 318.7,161.88 319.0,161.86 319.4,161.84 319.7,161.82 320.1,161.80 320.4,161.79 320.8,161.77 321.1,161.75 321.5,161.74 321.8,161.72 322.1,161.71 322.5,161.69 322.8,161.68 323.2,161.66 323.5,161.65 323.9,161.64 324.2,161.62 324.6,161.61 324.9,161.60 325.2,161.59 325.6,161.57 325.9,161.56 326.3,161.55 326.6,161.54 327.0,161.53 327.3,161.53 327.7,161.52 328.0,161.51 328.3,161.50 328.7,161.49 329.0,161.49 329.4,161.48 329.7,161.48 330.1,161.47 330.4,161.46 330.8,161.46 331.1,161.45 331.4,161.44 331.8,161.44 332.1,161.43 332.5,161.42 332.8,161.42 333.2,161.41 333.5,161.41 333.9,161.40 334.2,161.39 334.5,161.39 334.9,161.38 335.2,161.38 335.6,161.37 335.9,161.37 336.3,161.36 336.6,161.36 337.0,161.35 337.3,161.35 337.6,161.34 338.0,161.34 338.3,161.33 338.7,161.33 339.0,161.32 339.4,161.32 339.7,161.31 340.1,161.31 340.4,161.31 340.7,161.30 341.1,161.30 341.4,161.29 341.8,161.29 342.1,161.29 342.5,161.28 342.8,161.28 343.2,161.28 343.5,161.27 343.8,161.27 344.2,161.27 344.5,161.27 344.9,161.26 345.2,161.26 345.6,161.26 345.9,161.26 346.3,161.26 346.6,161.25 346.9,161.25 347.3,161.25 347.6,161.25 348.0,161.25 348.3,161.25 348.7,161.25 349.0,161.25 349.4,161.25 349.7,161.25 350.0,161.25 350.4,161.25 350.7,161.25 351.1,161.25 351.4,161.25 351.8,161.25 352.1,161.25 352.5,161.25 352.8,161.26 353.1,161.26 353.5,161.26 353.8,161.26 354.2,161.27 354.5,161.27 354.9,161.27 355.2,161.28 355.6,161.28 355.9,161.29 356.2,161.29 356.6,161.30 356.9,161.30 357.3,161.31 357.6,161.31 358.0,161.32 358.3,161.33 358.7,161.33 359.0,161.34 359.3,161.35 359.7,161.35 360.0,161.36 360.4,161.37 360.7,161.38 361.1,161.38 361.4,161.39 361.8,161.40 362.1,161.41 362.4,161.42 362.8,161.43 363.1,161.43 363.5,161.44 363.8,161.45 364.2,161.46 364.5,161.47 364.9,161.48 365.2,161.49 365.5,161.50 365.9,161.51 366.2,161.52 366.6,161.53 366.9,161.55 367.3,161.56 367.6,161.57 368.0,161.58 368.3,161.59 368.6,161.60 369.0,161.61 369.3,161.63 369.7,161.64 370.0,161.66 370.4,161.68 370.7,161.71 371.1,161.73 371.4,161.75 371.7,161.78 372.1,161.81 372.4,161.84 372.8,161.87 373.1,161.90 373.5,161.94 373.8,161.97 374.2,162.01 374.5,162.04 374.8,162.08 375.2,162.12 375.5,162.15 375.9,162.19 376.2,162.23 376.6,162.27 376.9,162.31 377.3,162.35 377.6,162.39 377.9,162.43 378.3,162.47 378.6,162.51 379.0,162.55 379.3,162.59 379.7,162.63 380.0,162.67 380.4,162.71 380.7,162.75 381.0,162.79 381.4,162.83 381.7,162.88 382.1,162.92 382.4,162.97 382.8,163.01 383.1,163.06 383.5,163.10 383.8,163.15 384.1,163.20 384.5,163.24 384.8,163.29 385.2,163.34 385.5,163.39 385.9,163.44 386.2,163.49 386.6,163.54 386.9,163.59 387.2,163.65 387.6,163.70 387.9,163.75 388.3,163.81 388.6,163.86 389.0,163.92 389.3,163.97 389.7,164.03 390.0,164.08 390.3,164.14 390.7,164.20 391.0,164.25 391.4,164.31 391.7,164.37 392.1,164.43 392.4,164.49 392.8,164.54 393.1,164.60 393.4,164.66 393.8,164.73 394.1,164.79 394.5,164.85 394.8,164.91 395.2,164.97 395.5,165.04 395.9,165.10 396.2,165.17 396.5,165.23 396.9,165.30 397.2,165.37 397.6,165.43 397.9,165.50 398.3,165.57 398.6,165.64 399.0,165.71 399.3,165.79 399.6,165.86 400.0,165.93 400.3,166.01 400.7,166.08 401.0,166.16 401.4,166.24 401.7,166.31 402.1,166.39 402.4,166.47 402.7,166.56 403.1,166.64 403.4,166.72 403.8,166.81 404.1,166.89 404.5,166.98 404.8,167.07 405.2,167.16 405.5,167.25 405.8,167.34 406.2,167.44 406.5,167.53 406.9,167.63 407.2,167.73 407.6,167.83 407.9,167.94 408.3,168.04 408.6,168.15 408.9,168.25 409.3,168.36 409.6,168.48 410.0,168.59 410.3,168.70 410.7,168.82 411.0,168.94 411.4,169.05 411.7,169.17 412.0,169.30 412.4,169.42 412.7,169.55 413.1,169.67 413.4,169.80 413.8,169.93 414.1,170.06 414.5,170.19 414.8,170.33 415.1,170.46 415.5,170.60 415.8,170.74 416.2,170.87 416.5,171.02 416.9,171.16 417.2,171.30 417.6,171.45 417.9,171.59 418.2,171.74 418.6,171.90 418.9,172.05 419.3,172.21 419.6,172.38 420.0,172.54 420.3,172.71 420.7,172.88 421.0,173.05 421.3,173.23 421.7,173.41 422.0,173.59 422.4,173.77 422.7,173.96 423.1,174.14 423.4,174.33 423.8,174.52 424.1,174.71 424.4,174.91 424.8,175.11 425.1,175.30 425.5,175.50 425.8,175.70 426.2,175.91 426.5,176.11 426.9,176.31 427.2,176.52 427.5,176.73 427.9,176.93 428.2,177.14 428.6,177.35 428.9,177.56 429.3,177.78 429.6,177.99 430.0,178.20 430.3,178.41 430.6,178.63 431.0,178.85 431.3,179.08 431.7,179.30 432.0,179.54 432.4,179.77 432.7,180.00 433.1,180.24 433.4,180.48 433.7,180.73 434.1,180.97 434.4,181.22 434.8,181.47 435.1,181.72 435.5,181.98 435.8,182.23 436.2,182.49 436.5,182.75 436.8,183.00 437.2,183.26 437.5,183.52 437.9,183.78 438.2,184.05 438.6,184.33 438.9,184.62 439.3,184.92 439.6,185.24 439.9,185.57 440.3,185.92 440.6,186.29 441.0,186.67 441.3,187.07 441.7,187.48 442.0,187.91 442.4,188.35 442.7,188.81 443.0,189.29 443.4,189.80 443.7,190.32 444.1,190.87 444.4,191.43 444.8,192.02 445.1,192.62 445.5,193.25 445.8,193.90 446.1,194.58 446.5,195.29 446.8,196.04 447.2,196.83 447.5,197.66 447.9,198.55 448.2,199.50 448.6,200.51 448.9,201.57 449.2,202.71 449.6,203.92 449.9,205.19 450.3,206.49 450.6,207.79 451.0,209.07 451.3,210.30 451.7,211.50 452.0,212.70 452.3,213.89 452.7,215.07" fill="none" stroke="#00f" stroke-width="5.6" stroke-linejoin="round" stroke-linecap="round"/>
<polyline clip-path="url(#c1)" points="452.0,238.70 452.3,238.70 452.7,238.70 453.0,238.70 453.4,238.70 453.7,238.70 454.1,238.70 454.4,238.70 454.8,238.70 455.1,238.70 455.4,238.70 455.8,238.70 456.1,238.70 456.5,238.70 456.8,238.70 457.2,238.70 457.5,238.70 457.9,238.70 458.2,238.70 458.5,238.70 458.9,238.70 459.2,238.70 459.6,238.70 459.9,238.70 460.3,238.70 460.6,238.70 461.0,238.70 461.3,238.70 461.6,238.70 462.0,238.70 462.3,238.70 462.7,238.70 463.0,238.70 463.4,238.70 463.7,238.70 464.1,238.70 464.4,238.70 464.7,238.70 465.1,238.70 465.4,238.70 465.8,238.70 466.1,238.70 466.5,238.70 466.8,238.70 467.2,238.70 467.5,238.70 467.8,238.70 468.2,238.70 468.5,238.70 468.9,238.70 469.2,238.70 469.6,238.70 469.9,238.70 470.3,238.70 470.6,238.70 470.9,238.70 471.3,238.70 471.6,238.70 472.0,238.70 472.3,238.70 472.7,238.70 473.0,238.70 473.4,238.70 473.7,238.70 474.0,238.70 474.4,238.70 474.7,238.70 475.1,238.70 475.4,238.70 475.8,238.70 476.1,238.70 476.5,238.70 476.8,238.70 477.1,238.70 477.5,238.70 477.8,238.70 478.2,238.70 478.5,238.70 478.9,238.70 479.2,238.70 479.6,238.70 479.9,238.70 480.2,238.70 480.6,238.70 480.9,238.70 481.3,238.70 481.6,238.70 482.0,238.70 482.3,238.70 482.7,238.70 483.0,238.70 483.3,238.70 483.7,238.70 484.0,238.70 484.4,238.70 484.7,238.70 485.1,238.70 485.4,238.70 485.8,238.70 486.1,238.70 486.4,238.70 486.8,238.70 487.1,238.70 487.5,238.70 487.8,238.70 488.2,238.70 488.5,238.70 488.9,238.70 489.2,238.70 489.5,238.70 489.9,238.70 490.2,238.70 490.6,238.70 490.9,238.70 491.3,238.70 491.6,238.70 492.0,238.70 492.3,238.70 492.6,238.70 493.0,238.70 493.3,238.70 493.7,238.70 494.0,238.70 494.4,238.70 494.7,238.70 495.1,238.70 495.4,238.70 495.7,238.70 496.1,238.70 496.4,238.70 496.8,238.70 497.1,238.70 497.5,238.70 497.8,238.70 498.2,238.70 498.5,238.70 498.8,238.70 499.2,238.70 499.5,238.70 499.9,238.70 500.2,238.70 500.6,238.70 500.9,238.70 501.3,238.70 501.6,238.70 501.9,238.70 502.3,238.70 502.6,238.70 503.0,238.70 503.3,238.70 503.7,238.70 504.0,238.70 504.4,238.70 504.7,238.70 505.0,238.70 505.4,238.70 505.7,238.70 506.1,238.70 506.4,238.70 506.8,238.70 507.1,238.70 507.5,238.70 507.8,238.70 508.1,238.70 508.5,238.70 508.8,238.70 509.2,238.70 509.5,238.70 509.9,238.70 510.2,238.70 510.6,238.70 510.9,238.70 511.2,238.70 511.6,238.70 511.9,238.70 512.3,238.70 512.6,238.70 513.0,238.70 513.3,238.70 513.7,238.70 514.0,238.70 514.3,238.70 514.7,238.70 515.0,238.70 515.4,238.70 515.7,238.70 516.1,238.70 516.4,238.70 516.8,238.70 517.1,238.70 517.4,238.70 517.8,238.70 518.1,238.70 518.5,238.70 518.8,238.70 519.2,238.70 519.5,238.70 519.9,238.70 520.2,238.70 520.5,238.70 520.9,238.70 521.2,238.70 521.6,238.70 521.9,238.70 522.3,238.70 522.6,238.70 523.0,238.70 523.3,238.70 523.6,238.70 524.0,238.70 524.3,238.70 524.7,238.70 525.0,238.70 525.4,238.70 525.7,238.70 526.1,238.70 526.4,238.70 526.7,238.70 527.1,238.70 527.4,238.70 527.8,238.70 528.1,238.70 528.5,238.70 528.8,238.70 529.2,238.70 529.5,238.70 529.8,238.70 530.2,238.70 530.5,238.70 530.9,238.70 531.2,238.70 531.6,238.70 531.9,238.70 532.3,238.70 532.6,238.70 532.9,238.70 533.3,238.70 533.6,238.70 534.0,238.70 534.3,238.70 534.7,238.70 535.0,238.70 535.4,238.70 535.7,238.70 536.0,238.70 536.4,238.70 536.7,238.70 537.1,238.70 537.4,238.70 537.8,238.70 538.1,238.70 538.5,238.70 538.8,238.70 539.1,238.70 539.5,238.70 539.8,238.70 540.2,238.70 540.5,238.70 540.9,238.70 541.2,238.70 541.6,238.70 541.9,238.70 542.2,238.70 542.6,238.70 542.9,238.70 543.3,238.70 543.6,238.70 544.0,238.70 544.3,238.70 544.7,238.70 545.0,238.70 545.3,238.70 545.7,238.70 546.0,238.70 546.4,238.70 546.7,238.70 547.1,238.70 547.4,238.70 547.8,238.70 548.1,238.70 548.4,238.70 548.8,238.70 549.1,238.70 549.5,238.70 549.8,238.70 550.2,238.70 550.5,238.70 550.9,238.70 551.2,238.70 551.5,238.70 551.9,238.70 552.2,238.70 552.6,238.70 552.9,238.70 553.3,238.70 553.6,238.70 554.0,238.70 554.3,238.70 554.6,238.70 555.0,238.70 555.3,238.70 555.7,238.70 556.0,238.70 556.4,238.70 556.7,238.70 557.1,238.70 557.4,238.70 557.7,238.70 558.1,238.70 558.4,238.70 558.8,238.70 559.1,238.70 559.5,238.70 559.8,238.70 560.2,238.70 560.5,238.70 560.8,238.70 561.2,238.70 561.5,238.70 561.9,238.70 562.2,238.70 562.6,238.70 562.9,238.70 563.3,238.70 563.6,238.70 563.9,238.70 564.3,238.70 564.6,238.70 565.0,238.70 565.3,238.70 565.7,238.70 566.0,238.70 566.4,238.70 566.7,238.70 567.0,238.70 567.4,238.70 567.7,238.70 568.1,238.70 568.4,238.70 568.8,238.70 569.1,238.70 569.5,238.70 569.8,238.70 570.1,238.70 570.5,238.70 570.8,238.70 571.2,238.70 571.5,238.70 571.9,238.70 572.2,238.70 572.6,238.70 572.9,238.70 573.2,238.70 573.6,238.70 573.9,238.70 574.3,238.70 574.6,238.70 575.0,238.70 575.3,238.70 575.7,238.70 576.0,238.70" fill="none" stroke="#00f" stroke-width="5.6" stroke-linejoin="round" stroke-linecap="round"/>
<g clip-path="url(#c1)" fill="#00f">
<circle cx="241.5" cy="224.5" r="2.15"/>
<circle cx="241.5" cy="232.5" r="2.15"/>
<circle cx="241.5" cy="237.5" r="2.15"/>
<circle cx="453.5" cy="220.5" r="2.15"/>
<circle cx="453.5" cy="231.5" r="2.15"/>
<circle cx="322.5" cy="172.5" r="2.15"/>
<circle cx="341.5" cy="165.5" r="2.15"/>
<circle cx="321.5" cy="164.5" r="2.15"/>
<circle cx="374.5" cy="184.5" r="2.15"/>
<circle cx="373.5" cy="165.5" r="2.15"/>
<circle cx="378.5" cy="166.5" r="2.15"/>
<circle cx="356.5" cy="160.5" r="2.15"/>
<circle cx="392.5" cy="167.5" r="2.15"/>
<circle cx="398.5" cy="168.5" r="2.15"/>
<circle cx="402.5" cy="168.5" r="2.15"/>
<circle cx="399.5" cy="175.5" r="2.15"/>
<circle cx="398.5" cy="178.5" r="2.15"/>
<circle cx="420.5" cy="174.5" r="2.15"/>
<circle cx="421.5" cy="182.5" r="2.15"/>
<circle cx="427.5" cy="184.5" r="2.15"/>
<circle cx="434.5" cy="186.5" r="2.15"/>
<circle cx="422.5" cy="189.5" r="2.15"/>
<circle cx="428.5" cy="189.5" r="2.15"/>
<circle cx="431.5" cy="191.5" r="2.15"/>
<circle cx="421.5" cy="193.5" r="2.15"/>
<circle cx="427.5" cy="193.5" r="2.15"/>
<circle cx="428.5" cy="200.5" r="2.15"/>
<circle cx="432.5" cy="202.5" r="2.15"/>
<circle cx="420.5" cy="207.5" r="2.15"/>
<circle cx="421.5" cy="209.5" r="2.15"/>
<circle cx="419.5" cy="231.5" r="2.15"/>
</g>
<g fill="#000" shape-rendering="crispEdges">
<rect x="80" y="152" width="1" height="87"/>
<rect x="576" y="152" width="1" height="87"/>
<rect x="80" y="152" width="497" height="1"/>
<rect x="80" y="238" width="497" height="1"/>
<rect x="80" y="238" width="1" height="5"/>
<rect x="80" y="243" width="1" height="1" fill-opacity="0.4"/>
<rect x="163" y="238" width="1" height="5"/>
<rect x="163" y="243" width="1" height="1" fill-opacity="0.4"/>
<rect x="245" y="238" width="1" height="5"/>
<rect x="245" y="243" width="1" height="1" fill-opacity="0.4"/>
<rect x="328" y="238" width="1" height="5"/>
<rect x="328" y="243" width="1" height="1" fill-opacity="0.4"/>
<rect x="411" y="238" width="1" height="5"/>
<rect x="411" y="243" width="1" height="1" fill-opacity="0.4"/>
<rect x="493" y="238" width="1" height="5"/>
<rect x="493" y="243" width="1" height="1" fill-opacity="0.4"/>
<rect x="576" y="238" width="1" height="5"/>
<rect x="576" y="243" width="1" height="1" fill-opacity="0.4"/>
<rect x="75" y="238" width="5" height="1"/>
<rect x="75" y="202" width="5" height="1"/>
<rect x="75" y="166" width="5" height="1"/>
</g>
<text x="69.70" y="243.40" font-size="14.2" fill="#000" text-anchor="end" textLength="8.48" lengthAdjust="spacingAndGlyphs">0</text>
<text x="69.70" y="207.40" font-size="14.2" fill="#000" text-anchor="end" textLength="25.45" lengthAdjust="spacingAndGlyphs">500</text>
<text x="69.70" y="171.40" font-size="14.2" fill="#000" text-anchor="end" textLength="33.93" lengthAdjust="spacingAndGlyphs">1000</text>
<g transform="translate(23.8,195.13) rotate(-90)" font-size="14.2">
<text x="-24.4" y="-1.2">[</text>
<text x="-19.0" y="0" textLength="13.6" lengthAdjust="spacingAndGlyphs">W</text>
<text x="-5.7" y="0" textLength="5.3" lengthAdjust="spacingAndGlyphs">/</text>
<text x="-0.2" y="0" textLength="13.4" lengthAdjust="spacingAndGlyphs">m</text>
<text x="12.4" y="-5.8" font-size="10.79">2</text>
<text x="19.5" y="-1.2">]</text>
</g>
<g fill="#b0b0b0" shape-rendering="crispEdges">
<rect x="80" y="247" width="1" height="86"/>
<rect x="163" y="247" width="1" height="86"/>
<rect x="245" y="247" width="1" height="86"/>
<rect x="328" y="247" width="1" height="86"/>
<rect x="411" y="247" width="1" height="86"/>
<rect x="493" y="247" width="1" height="86"/>
<rect x="576" y="247" width="1" height="86"/>
<rect x="80" y="333" width="496" height="1"/>
<rect x="80" y="279" width="496" height="1"/>
</g>
<polyline clip-path="url(#c2)" points="80.00,332.65 80.34,332.65 80.69,332.65 81.03,332.65 81.38,332.65 81.72,332.65 82.07,332.65 82.41,332.65 82.76,332.65 83.10,332.65 83.44,332.65 83.79,332.65 84.13,332.65 84.48,332.65 84.82,332.65 85.17,332.65 85.51,332.65 85.86,332.65 86.20,332.65 86.54,332.65 86.89,332.65 87.23,332.65 87.58,332.65 87.92,332.65 88.27,332.65 88.61,332.65 88.96,332.65 89.30,332.65 89.64,332.65 89.99,332.65 90.33,332.65 90.68,332.65 91.02,332.65 91.37,332.65 91.71,332.65 92.06,332.65 92.40,332.65 92.74,332.65 93.09,332.65 93.43,332.65 93.78,332.65 94.12,332.65 94.47,332.65 94.81,332.65 95.16,332.65 95.50,332.65 95.84,332.65 96.19,332.65 96.53,332.65 96.88,332.65 97.22,332.65 97.57,332.65 97.91,332.65 98.26,332.65 98.60,332.65 98.94,332.65 99.29,332.65 99.63,332.65 99.98,332.65 100.32,332.65 100.67,332.65 101.01,332.65 101.36,332.65 101.70,332.65 102.04,332.65 102.39,332.65 102.73,332.65 103.08,332.65 103.42,332.65 103.77,332.65 104.11,332.65 104.46,332.65 104.80,332.65 105.14,332.65 105.49,332.65 105.83,332.65 106.18,332.65 106.52,332.65 106.87,332.65 107.21,332.65 107.56,332.65 107.90,332.65 108.24,332.65 108.59,332.65 108.93,332.65 109.28,332.65 109.62,332.65 109.97,332.65 110.31,332.65 110.66,332.65 111.00,332.65 111.34,332.65 111.69,332.65 112.03,332.65 112.38,332.65 112.72,332.65 113.07,332.65 113.41,332.65 113.76,332.65 114.10,332.65 114.44,332.65 114.79,332.65 115.13,332.65 115.48,332.65 115.82,332.65 116.17,332.65 116.51,332.65 116.86,332.65 117.20,332.65 117.54,332.65 117.89,332.65 118.23,332.65 118.58,332.65 118.92,332.65 119.27,332.65 119.61,332.65 119.96,332.65 120.30,332.65 120.64,332.65 120.99,332.65 121.33,332.65 121.68,332.65 122.02,332.65 122.37,332.65 122.71,332.65 123.06,332.65 123.40,332.65 123.74,332.65 124.09,332.65 124.43,332.65 124.78,332.65 125.12,332.65 125.47,332.65 125.81,332.65 126.16,332.65 126.50,332.65 126.84,332.65 127.19,332.65 127.53,332.65 127.88,332.65 128.22,332.65 128.57,332.65 128.91,332.65 129.26,332.65 129.60,332.65 129.94,332.65 130.29,332.65 130.63,332.65 130.98,332.65 131.32,332.65 131.67,332.65 132.01,332.65 132.36,332.65 132.70,332.65 133.04,332.65 133.39,332.65 133.73,332.65 134.08,332.65 134.42,332.65 134.77,332.65 135.11,332.65 135.46,332.65 135.80,332.65 136.14,332.65 136.49,332.65 136.83,332.65 137.18,332.65 137.52,332.65 137.87,332.65 138.21,332.65 138.56,332.65 138.90,332.65 139.24,332.65 139.59,332.65 139.93,332.65 140.28,332.65 140.62,332.65 140.97,332.65 141.31,332.65 141.66,332.65 142.00,332.65 142.34,332.65 142.69,332.65 143.03,332.65 143.38,332.65 143.72,332.65 144.07,332.65 144.41,332.65 144.76,332.65 145.10,332.65 145.44,332.65 145.79,332.65 146.13,332.65 146.48,332.65 146.82,332.65 147.17,332.65 147.51,332.65 147.86,332.65 148.20,332.65 148.54,332.65 148.89,332.65 149.23,332.65 149.58,332.65 149.92,332.65 150.27,332.65 150.61,332.65 150.96,332.65 151.30,332.65 151.64,332.65 151.99,332.65 152.33,332.65 152.68,332.65 153.02,332.65 153.37,332.65 153.71,332.65 154.06,332.65 154.40,332.65 154.74,332.65 155.09,332.65 155.43,332.65 155.78,332.65 156.12,332.65 156.47,332.65 156.81,332.65 157.16,332.65 157.50,332.65 157.84,332.65 158.19,332.65 158.53,332.65 158.88,332.65 159.22,332.65 159.57,332.65 159.91,332.65 160.26,332.65 160.60,332.65 160.94,332.65 161.29,332.65 161.63,332.65 161.98,332.65 162.32,332.65 162.67,332.65 163.01,332.65 163.36,332.65 163.70,332.65 164.04,332.65 164.39,332.65 164.73,332.65 165.08,332.65 165.42,332.65 165.77,332.65 166.11,332.65 166.46,332.65 166.80,332.65 167.14,332.65 167.49,332.65 167.83,332.65 168.18,332.65 168.52,332.65 168.87,332.65 169.21,332.65 169.56,332.65 169.90,332.65 170.24,332.65 170.59,332.65 170.93,332.65 171.28,332.65 171.62,332.65 171.97,332.65 172.31,332.65 172.66,332.65 173.00,332.65 173.34,332.65 173.69,332.65 174.03,332.65 174.38,332.65 174.72,332.65 175.07,332.65 175.41,332.65 175.76,332.65 176.10,332.65 176.44,332.65 176.79,332.65 177.13,332.65 177.48,332.65 177.82,332.65 178.17,332.65 178.51,332.65 178.86,332.65 179.20,332.65 179.54,332.65 179.89,332.65 180.23,332.65 180.58,332.65 180.92,332.65 181.27,332.65 181.61,332.65 181.96,332.65 182.30,332.65 182.64,332.65 182.99,332.65 183.33,332.65 183.68,332.65 184.02,332.65 184.37,332.65 184.71,332.65 185.06,332.65 185.40,332.65 185.74,332.65 186.09,332.65 186.43,332.65 186.78,332.65 187.12,332.65 187.47,332.65 187.81,332.65 188.16,332.65 188.50,332.65 188.84,332.65 189.19,332.65 189.53,332.65 189.88,332.65 190.22,332.65 190.57,332.65 190.91,332.65 191.26,332.65 191.60,332.65 191.94,332.65 192.29,332.65 192.63,332.65 192.98,332.65 193.32,332.65 193.67,332.65 194.01,332.65 194.36,332.65 194.70,332.65 195.04,332.65 195.39,332.65 195.73,332.65 196.08,332.65 196.42,332.65 196.77,332.65 197.11,332.65 197.46,332.65 197.80,332.65 198.14,332.65 198.49,332.65 198.83,332.65 199.18,332.65 199.52,332.65 199.87,332.65 200.21,332.65 200.56,332.65 200.90,332.65 201.24,332.65 201.59,332.65 201.93,332.65 202.28,332.65 202.62,332.65 202.97,332.65 203.31,332.65 203.66,332.65 204.00,332.65 204.34,332.65 204.69,332.65 205.03,332.65 205.38,332.65 205.72,332.65 206.07,332.65 206.41,332.65 206.76,332.65 207.10,332.65 207.44,332.65 207.79,332.65 208.13,332.65 208.48,332.65 208.82,332.65 209.17,332.65 209.51,332.65 209.86,332.65 210.20,332.65 210.54,332.65 210.89,332.65 211.23,332.65 211.58,332.65 211.92,332.65 212.27,332.65 212.61,332.65 212.96,332.65 213.30,332.65 213.64,332.65 213.99,332.65 214.33,332.65 214.68,332.65 215.02,332.65 215.37,332.65 215.71,332.65 216.06,332.65 216.40,332.65 216.74,332.65 217.09,332.65 217.43,332.65 217.78,332.65 218.12,332.65 218.47,332.65 218.81,332.65 219.16,332.65 219.50,332.65 219.84,332.65 220.19,332.65 220.53,332.65 220.88,332.65 221.22,332.65 221.57,332.65 221.91,332.65 222.26,332.65 222.60,332.65 222.94,332.65 223.29,332.65 223.63,332.65 223.98,332.65 224.32,332.65 224.67,332.65 225.01,332.65 225.36,332.65 225.70,332.65 226.04,332.65 226.39,332.65 226.73,332.65 227.08,332.65 227.42,332.65 227.77,332.65 228.11,332.65 228.46,332.65 228.80,332.65 229.14,332.65 229.49,332.65 229.83,332.65 230.18,332.65 230.52,332.65 230.87,332.65 231.21,332.65 231.56,332.65 231.90,332.65 232.24,332.65 232.59,332.64 232.93,332.55 233.28,332.46 233.62,332.36 233.97,332.24 234.31,332.12 234.66,331.99 235.00,331.86 235.34,331.71 235.69,331.56 236.03,331.41 236.38,331.24 236.72,331.07 237.07,330.90 237.41,330.72 237.76,330.53 238.10,330.33 238.44,330.10 238.79,329.86 239.13,329.61 239.48,329.34 239.82,329.06 240.17,328.77 240.51,328.47 240.86,328.16 241.20,327.85 241.54,327.53 241.89,327.20 242.23,326.87 242.58,326.54 242.92,326.21 243.27,325.88 243.61,325.55 243.96,325.23 244.30,324.91 244.64,324.59 244.99,324.29 245.33,323.99 245.68,323.69 246.02,323.38 246.37,323.07 246.71,322.76 247.06,322.45 247.40,322.14 247.74,321.83 248.09,321.52 248.43,321.22 248.78,320.93 249.12,320.65 249.47,320.39 249.81,320.13 250.16,319.90 250.50,319.67 250.84,319.45 251.19,319.23 251.53,319.02 251.88,318.81 252.22,318.61 252.57,318.42 252.91,318.23 253.26,318.04 253.60,317.86 253.94,317.67 254.29,317.50 254.63,317.32 254.98,317.14 255.32,316.97 255.67,316.80 256.01,316.63 256.36,316.46 256.70,316.29 257.04,316.12 257.39,315.95 257.73,315.78 258.08,315.61 258.42,315.45 258.77,315.28 259.11,315.12 259.46,314.97 259.80,314.81 260.14,314.66 260.49,314.51 260.83,314.36 261.18,314.22 261.52,314.09 261.87,313.95 262.21,313.83 262.56,313.70 262.90,313.58 263.24,313.47 263.59,313.35 263.93,313.23 264.28,313.12 264.62,313.01 264.97,312.90 265.31,312.79 265.66,312.68 266.00,312.57 266.34,312.47 266.69,312.36 267.03,312.26 267.38,312.16 267.72,312.06 268.07,311.96 268.41,311.86 268.76,311.77 269.10,311.67 269.44,311.58 269.79,311.49 270.13,311.40 270.48,311.31 270.82,311.22 271.17,311.14 271.51,311.05 271.86,310.97 272.20,310.89 272.54,310.81 272.89,310.73 273.23,310.65 273.58,310.57 273.92,310.50 274.27,310.42 274.61,310.35 274.96,310.28 275.30,310.21 275.64,310.14 275.99,310.07 276.33,310.01 276.68,309.94 277.02,309.88 277.37,309.82 277.71,309.76 278.06,309.70 278.40,309.64 278.74,309.58 279.09,309.52 279.43,309.47 279.78,309.41 280.12,309.36 280.47,309.30 280.81,309.25 281.16,309.20 281.50,309.14 281.84,309.09 282.19,309.04 282.53,308.99 282.88,308.94 283.22,308.89 283.57,308.83 283.91,308.78 284.26,308.73 284.60,308.68 284.94,308.63 285.29,308.58 285.63,308.53 285.98,308.48 286.32,308.43 286.67,308.38 287.01,308.33 287.36,308.27 287.70,308.22 288.04,308.17 288.39,308.12 288.73,308.07 289.08,308.01 289.42,307.96 289.77,307.91 290.11,307.86 290.46,307.81 290.80,307.76 291.14,307.71 291.49,307.66 291.83,307.61 292.18,307.56 292.52,307.51 292.87,307.46 293.21,307.41 293.56,307.36 293.90,307.32 294.24,307.27 294.59,307.22 294.93,307.17 295.28,307.12 295.62,307.07 295.97,307.02 296.31,306.97 296.66,306.92 297.00,306.87 297.34,306.82 297.69,306.77 298.03,306.72 298.38,306.67 298.72,306.62 299.07,306.57 299.41,306.51 299.76,306.46 300.10,306.41 300.44,306.36 300.79,306.31 301.13,306.26 301.48,306.20 301.82,306.15 302.17,306.10 302.51,306.05 302.86,306.00 303.20,305.95 303.54,305.90 303.89,305.85 304.23,305.80 304.58,305.75 304.92,305.70 305.27,305.65 305.61,305.61 305.96,305.56 306.30,305.51 306.64,305.47 306.99,305.43 307.33,305.38 307.68,305.34 308.02,305.30 308.37,305.25 308.71,305.21 309.06,305.17 309.40,305.13 309.74,305.08 310.09,305.04 310.43,305.00 310.78,304.96 311.12,304.92 311.47,304.88 311.81,304.84 312.16,304.80 312.50,304.76 312.84,304.72 313.19,304.68 313.53,304.64 313.88,304.60 314.22,304.56 314.57,304.52 314.91,304.49 315.26,304.45 315.60,304.41 315.94,304.38 316.29,304.34 316.63,304.31 316.98,304.27 317.32,304.24 317.67,304.20 318.01,304.17 318.36,304.14 318.70,304.11 319.04,304.08 319.39,304.05 319.73,304.02 320.08,303.99 320.42,303.96 320.77,303.93 321.11,303.90 321.46,303.87 321.80,303.85 322.14,303.82 322.49,303.79 322.83,303.76 323.18,303.74 323.52,303.71 323.87,303.68 324.21,303.66 324.56,303.63 324.90,303.61 325.24,303.59 325.59,303.57 325.93,303.54 326.28,303.52 326.62,303.50 326.97,303.48 327.31,303.47 327.66,303.45 328.00,303.43 328.34,303.42 328.69,303.40 329.03,303.39 329.38,303.38 329.72,303.36 330.07,303.35 330.41,303.33 330.76,303.32 331.10,303.31 331.44,303.29 331.79,303.28 332.13,303.27 332.48,303.26 332.82,303.24 333.17,303.23 333.51,303.22 333.86,303.21 334.20,303.20 334.54,303.19 334.89,303.18 335.23,303.17 335.58,303.16 335.92,303.15 336.27,303.14 336.61,303.13 336.96,303.13 337.30,303.12 337.64,303.12 337.99,303.11 338.33,303.11 338.68,303.10 339.02,303.10 339.37,303.10 339.71,303.10 340.06,303.10 340.40,303.10 340.74,303.11 341.09,303.12 341.43,303.14 341.78,303.16 342.12,303.18 342.47,303.21 342.81,303.24 343.16,303.27 343.50,303.31 343.84,303.34 344.19,303.38 344.53,303.42 344.88,303.46 345.22,303.50 345.57,303.54 345.91,303.58 346.26,303.62 346.60,303.67 346.94,303.70 347.29,303.74 347.63,303.78 347.98,303.82 348.32,303.85 348.67,303.88 349.01,303.91 349.36,303.93 349.70,303.95 350.04,303.97 350.39,303.98 350.73,303.99 351.08,304.00 351.42,304.00 351.77,304.00 352.11,304.00 352.46,303.99 352.80,303.99 353.14,303.98 353.49,303.98 353.83,303.97 354.18,303.96 354.52,303.95 354.87,303.95 355.21,303.94 355.56,303.93 355.90,303.92 356.24,303.91 356.59,303.90 356.93,303.89 357.28,303.87 357.62,303.86 357.97,303.85 358.31,303.84 358.66,303.83 359.00,303.82 359.34,303.81 359.69,303.80 360.03,303.79 360.38,303.78 360.72,303.77 361.07,303.77 361.41,303.76 361.76,303.75 362.10,303.75 362.44,303.74 362.79,303.74 363.13,303.74 363.48,303.73 363.82,303.73 364.17,303.73 364.51,303.74 364.86,303.74 365.20,303.74 365.54,303.75 365.89,303.75 366.23,303.76 366.58,303.76 366.92,303.77 367.27,303.78 367.61,303.78 367.96,303.79 368.30,303.80 368.64,303.81 368.99,303.82 369.33,303.83 369.68,303.85 370.02,303.86 370.37,303.87 370.71,303.88 371.06,303.90 371.40,303.91 371.74,303.93 372.09,303.94 372.43,303.96 372.78,303.97 373.12,303.99 373.47,304.00 373.81,304.02 374.16,304.04 374.50,304.05 374.84,304.07 375.19,304.09 375.53,304.10 375.88,304.12 376.22,304.14 376.57,304.16 376.91,304.18 377.26,304.19 377.60,304.21 377.94,304.23 378.29,304.25 378.63,304.28 378.98,304.30 379.32,304.33 379.67,304.35 380.01,304.38 380.36,304.41 380.70,304.44 381.04,304.48 381.39,304.51 381.73,304.55 382.08,304.58 382.42,304.62 382.77,304.66 383.11,304.70 383.46,304.74 383.80,304.78 384.14,304.82 384.49,304.86 384.83,304.90 385.18,304.94 385.52,304.99 385.87,305.03 386.21,305.07 386.56,305.12 386.90,305.16 387.24,305.20 387.59,305.25 387.93,305.29 388.28,305.33 388.62,305.38 388.97,305.42 389.31,305.46 389.66,305.50 390.00,305.54 390.34,305.58 390.69,305.62 391.03,305.67 391.38,305.71 391.72,305.75 392.07,305.79 392.41,305.84 392.76,305.88 393.10,305.93 393.44,305.97 393.79,306.02 394.13,306.06 394.48,306.11 394.82,306.16 395.17,306.20 395.51,306.25 395.86,306.30 396.20,306.34 396.54,306.39 396.89,306.43 397.23,306.48 397.58,306.53 397.92,306.57 398.27,306.62 398.61,306.66 398.96,306.71 399.30,306.75 399.64,306.80 399.99,306.84 400.33,306.89 400.68,306.93 401.02,306.97 401.37,307.01 401.71,307.06 402.06,307.10 402.40,307.14 402.74,307.18 403.09,307.21 403.43,307.25 403.78,307.28 404.12,307.32 404.47,307.35 404.81,307.39 405.16,307.42 405.50,307.45 405.84,307.48 406.19,307.51 406.53,307.54 406.88,307.58 407.22,307.61 407.57,307.64 407.91,307.68 408.26,307.71 408.60,307.74 408.94,307.78 409.29,307.82 409.63,307.86 409.98,307.90 410.32,307.94 410.67,307.98 411.01,308.03 411.36,308.07 411.70,308.12 412.04,308.18 412.39,308.23 412.73,308.29 413.08,308.35 413.42,308.42 413.77,308.49 414.11,308.55 414.46,308.63 414.80,308.70 415.14,308.78 415.49,308.85 415.83,308.93 416.18,309.01 416.52,309.10 416.87,309.18 417.21,309.26 417.56,309.35 417.90,309.43 418.24,309.52 418.59,309.60 418.93,309.69 419.28,309.78 419.62,309.86 419.97,309.95 420.31,310.04 420.66,310.13 421.00,310.22 421.34,310.31 421.69,310.41 422.03,310.50 422.38,310.60 422.72,310.70 423.07,310.80 423.41,310.90 423.76,311.00 424.10,311.10 424.44,311.20 424.79,311.31 425.13,311.41 425.48,311.52 425.82,311.63 426.17,311.74 426.51,311.85 426.86,311.96 427.20,312.07 427.54,312.19 427.89,312.30 428.23,312.42 428.58,312.53 428.92,312.65 429.27,312.77 429.61,312.89 429.96,313.01 430.30,313.14 430.64,313.26 430.99,313.39 431.33,313.52 431.68,313.65 432.02,313.79 432.37,313.93 432.71,314.08 433.06,314.23 433.40,314.38 433.74,314.55 434.09,314.71 434.43,314.90 434.78,315.09 435.12,315.29 435.47,315.49 435.81,315.70 436.16,315.92 436.50,316.14 436.84,316.37 437.19,316.59 437.53,316.81 437.88,317.03 438.22,317.26 438.57,317.49 438.91,317.72 439.26,317.96 439.60,318.20 439.94,318.44 440.29,318.68 440.63,318.92 440.98,319.17 441.32,319.41 441.67,319.66 442.01,319.91 442.36,320.16 442.70,320.41 443.04,320.67 443.39,320.92 443.73,321.17 444.08,321.42 444.42,321.68 444.77,321.94 445.11,322.20 445.46,322.46 445.80,322.73 446.14,323.00 446.49,323.26 446.83,323.53 447.18,323.80 447.52,324.07 447.87,324.33 448.21,324.60 448.56,324.86 448.90,325.13 449.24,325.39 449.59,325.65 449.93,325.90 450.28,326.15 450.62,326.41 450.97,326.67 451.31,326.92 451.66,327.18 452.00,327.43 452.34,327.69 452.69,327.94 453.03,328.19 453.38,328.44 453.72,328.69 454.07,328.93 454.41,329.17 454.76,329.41 455.10,329.64 455.44,329.87 455.79,330.09 456.13,330.31 456.48,330.53 456.82,330.75 457.17,330.97 457.51,331.18 457.86,331.38 458.20,331.56 458.54,331.73 458.89,331.88 459.23,332.02 459.58,332.15 459.92,332.27 460.27,332.38 460.61,332.49 460.96,332.58 461.30,332.65 461.64,332.65 461.99,332.65 462.33,332.65 462.68,332.65 463.02,332.65 463.37,332.65 463.71,332.65 464.06,332.65 464.40,332.65 464.74,332.65 465.09,332.65 465.43,332.65 465.78,332.65 466.12,332.65 466.47,332.65 466.81,332.65 467.16,332.65 467.50,332.65 467.84,332.65 468.19,332.65 468.53,332.65 468.88,332.65 469.22,332.65 469.57,332.65 469.91,332.65 470.26,332.65 470.60,332.65 470.94,332.65 471.29,332.65 471.63,332.65 471.98,332.65 472.32,332.65 472.67,332.65 473.01,332.65 473.36,332.65 473.70,332.65 474.04,332.65 474.39,332.65 474.73,332.65 475.08,332.65 475.42,332.65 475.77,332.65 476.11,332.65 476.46,332.65 476.80,332.65 477.14,332.65 477.49,332.65 477.83,332.65 478.18,332.65 478.52,332.65 478.87,332.65 479.21,332.65 479.56,332.65 479.90,332.65 480.24,332.65 480.59,332.65 480.93,332.65 481.28,332.65 481.62,332.65 481.97,332.65 482.31,332.65 482.66,332.65 483.00,332.65 483.34,332.65 483.69,332.65 484.03,332.65 484.38,332.65 484.72,332.65 485.07,332.65 485.41,332.65 485.76,332.65 486.10,332.65 486.44,332.65 486.79,332.65 487.13,332.65 487.48,332.65 487.82,332.65 488.17,332.65 488.51,332.65 488.86,332.65 489.20,332.65 489.54,332.65 489.89,332.65 490.23,332.65 490.58,332.65 490.92,332.65 491.27,332.65 491.61,332.65 491.96,332.65 492.30,332.65 492.64,332.65 492.99,332.65 493.33,332.65 493.68,332.65 494.02,332.65 494.37,332.65 494.71,332.65 495.06,332.65 495.40,332.65 495.74,332.65 496.09,332.65 496.43,332.65 496.78,332.65 497.12,332.65 497.47,332.65 497.81,332.65 498.16,332.65 498.50,332.65 498.84,332.65 499.19,332.65 499.53,332.65 499.88,332.65 500.22,332.65 500.57,332.65 500.91,332.65 501.26,332.65 501.60,332.65 501.94,332.65 502.29,332.65 502.63,332.65 502.98,332.65 503.32,332.65 503.67,332.65 504.01,332.65 504.36,332.65 504.70,332.65 505.04,332.65 505.39,332.65 505.73,332.65 506.08,332.65 506.42,332.65 506.77,332.65 507.11,332.65 507.46,332.65 507.80,332.65 508.14,332.65 508.49,332.65 508.83,332.65 509.18,332.65 509.52,332.65 509.87,332.65 510.21,332.65 510.56,332.65 510.90,332.65 511.24,332.65 511.59,332.65 511.93,332.65 512.28,332.65 512.62,332.65 512.97,332.65 513.31,332.65 513.66,332.65 514.00,332.65 514.34,332.65 514.69,332.65 515.03,332.65 515.38,332.65 515.72,332.65 516.07,332.65 516.41,332.65 516.76,332.65 517.10,332.65 517.44,332.65 517.79,332.65 518.13,332.65 518.48,332.65 518.82,332.65 519.17,332.65 519.51,332.65 519.86,332.65 520.20,332.65 520.54,332.65 520.89,332.65 521.23,332.65 521.58,332.65 521.92,332.65 522.27,332.65 522.61,332.65 522.96,332.65 523.30,332.65 523.64,332.65 523.99,332.65 524.33,332.65 524.68,332.65 525.02,332.65 525.37,332.65 525.71,332.65 526.06,332.65 526.40,332.65 526.74,332.65 527.09,332.65 527.43,332.65 527.78,332.65 528.12,332.65 528.47,332.65 528.81,332.65 529.16,332.65 529.50,332.65 529.84,332.65 530.19,332.65 530.53,332.65 530.88,332.65 531.22,332.65 531.57,332.65 531.91,332.65 532.26,332.65 532.60,332.65 532.94,332.65 533.29,332.65 533.63,332.65 533.98,332.65 534.32,332.65 534.67,332.65 535.01,332.65 535.36,332.65 535.70,332.65 536.04,332.65 536.39,332.65 536.73,332.65 537.08,332.65 537.42,332.65 537.77,332.65 538.11,332.65 538.46,332.65 538.80,332.65 539.14,332.65 539.49,332.65 539.83,332.65 540.18,332.65 540.52,332.65 540.87,332.65 541.21,332.65 541.56,332.65 541.90,332.65 542.24,332.65 542.59,332.65 542.93,332.65 543.28,332.65 543.62,332.65 543.97,332.65 544.31,332.65 544.66,332.65 545.00,332.65 545.34,332.65 545.69,332.65 546.03,332.65 546.38,332.65 546.72,332.65 547.07,332.65 547.41,332.65 547.76,332.65 548.10,332.65 548.44,332.65 548.79,332.65 549.13,332.65 549.48,332.65 549.82,332.65 550.17,332.65 550.51,332.65 550.86,332.65 551.20,332.65 551.54,332.65 551.89,332.65 552.23,332.65 552.58,332.65 552.92,332.65 553.27,332.65 553.61,332.65 553.96,332.65 554.30,332.65 554.64,332.65 554.99,332.65 555.33,332.65 555.68,332.65 556.02,332.65 556.37,332.65 556.71,332.65 557.06,332.65 557.40,332.65 557.74,332.65 558.09,332.65 558.43,332.65 558.78,332.65 559.12,332.65 559.47,332.65 559.81,332.65 560.16,332.65 560.50,332.65 560.84,332.65 561.19,332.65 561.53,332.65 561.88,332.65 562.22,332.65 562.57,332.65 562.91,332.65 563.26,332.65 563.60,332.65 563.94,332.65 564.29,332.65 564.63,332.65 564.98,332.65 565.32,332.65 565.67,332.65 566.01,332.65 566.36,332.65 566.70,332.65 567.04,332.65 567.39,332.65 567.73,332.65 568.08,332.65 568.42,332.65 568.77,332.65 569.11,332.65 569.46,332.65 569.80,332.65 570.14,332.65 570.49,332.65 570.83,332.65 571.18,332.65 571.52,332.65 571.87,332.65 572.21,332.65 572.56,332.65 572.90,332.65 573.24,332.65 573.59,332.65 573.93,332.65 574.28,332.65 574.62,332.65 574.97,332.65 575.31,332.65 575.66,332.65 576.00,332.65" fill="none" stroke="#f00" stroke-width="2.78" stroke-linejoin="round" stroke-linecap="square"/>
<polyline clip-path="url(#c2)" points="80.0,333.70 80.3,333.70 80.7,333.70 81.0,333.70 81.4,333.70 81.7,333.70 82.1,333.70 82.4,333.70 82.8,333.70 83.1,333.70 83.4,333.70 83.8,333.70 84.1,333.70 84.5,333.70 84.8,333.70 85.2,333.70 85.5,333.70 85.9,333.70 86.2,333.70 86.5,333.70 86.9,333.70 87.2,333.70 87.6,333.70 87.9,333.70 88.3,333.70 88.6,333.70 89.0,333.70 89.3,333.70 89.6,333.70 90.0,333.70 90.3,333.70 90.7,333.70 91.0,333.70 91.4,333.70 91.7,333.70 92.1,333.70 92.4,333.70 92.7,333.70 93.1,333.70 93.4,333.70 93.8,333.70 94.1,333.70 94.5,333.70 94.8,333.70 95.2,333.70 95.5,333.70 95.8,333.70 96.2,333.70 96.5,333.70 96.9,333.70 97.2,333.70 97.6,333.70 97.9,333.70 98.3,333.70 98.6,333.70 98.9,333.70 99.3,333.70 99.6,333.70 100.0,333.70 100.3,333.70 100.7,333.70 101.0,333.70 101.4,333.70 101.7,333.70 102.0,333.70 102.4,333.70 102.7,333.70 103.1,333.70 103.4,333.70 103.8,333.70 104.1,333.70 104.5,333.70 104.8,333.70 105.1,333.70 105.5,333.70 105.8,333.70 106.2,333.70 106.5,333.70 106.9,333.70 107.2,333.70 107.6,333.70 107.9,333.70 108.2,333.70 108.6,333.70 108.9,333.70 109.3,333.70 109.6,333.70 110.0,333.70 110.3,333.70 110.7,333.70 111.0,333.70 111.3,333.70 111.7,333.70 112.0,333.70 112.4,333.70 112.7,333.70 113.1,333.70 113.4,333.70 113.8,333.70 114.1,333.70 114.4,333.70 114.8,333.70 115.1,333.70 115.5,333.70 115.8,333.70 116.2,333.70 116.5,333.70 116.9,333.70 117.2,333.70 117.5,333.70 117.9,333.70 118.2,333.70 118.6,333.70 118.9,333.70 119.3,333.70 119.6,333.70 120.0,333.70 120.3,333.70 120.6,333.70 121.0,333.70 121.3,333.70 121.7,333.70 122.0,333.70 122.4,333.70 122.7,333.70 123.1,333.70 123.4,333.70 123.7,333.70 124.1,333.70 124.4,333.70 124.8,333.70 125.1,333.70 125.5,333.70 125.8,333.70 126.2,333.70 126.5,333.70 126.8,333.70 127.2,333.70 127.5,333.70 127.9,333.70 128.2,333.70 128.6,333.70 128.9,333.70 129.3,333.70 129.6,333.70 129.9,333.70 130.3,333.70 130.6,333.70 131.0,333.70 131.3,333.70 131.7,333.70 132.0,333.70 132.4,333.70 132.7,333.70 133.0,333.70 133.4,333.70 133.7,333.70 134.1,333.70 134.4,333.70 134.8,333.70 135.1,333.70 135.5,333.70 135.8,333.70 136.1,333.70 136.5,333.70 136.8,333.70 137.2,333.70 137.5,333.70 137.9,333.70 138.2,333.70 138.6,333.70 138.9,332.70 139.2,332.70 139.6,332.70 139.9,332.70 140.3,332.70 140.6,332.70 141.0,332.70 141.3,332.70 141.7,332.70 142.0,332.70 142.3,332.70 142.7,332.70 143.0,332.70 143.4,332.70 143.7,332.70 144.1,332.70 144.4,332.70 144.8,332.70 145.1,332.70 145.4,332.70 145.8,333.70 146.1,333.70 146.5,333.70 146.8,333.70 147.2,333.70 147.5,333.70 147.9,333.70 148.2,333.70 148.5,333.70 148.9,333.70 149.2,333.70 149.6,333.70 149.9,333.70 150.3,333.70 150.6,333.70 151.0,333.70 151.3,333.70 151.6,333.70 152.0,333.70 152.3,333.70 152.7,333.70 153.0,333.70 153.4,333.70 153.7,333.70 154.1,333.70 154.4,333.70 154.7,333.70 155.1,333.70 155.4,333.70 155.8,333.70 156.1,333.70 156.5,333.70 156.8,333.70 157.2,333.70 157.5,333.70 157.8,333.70 158.2,333.70 158.5,333.70 158.9,333.70 159.2,333.70 159.6,333.70 159.9,333.70 160.3,333.70 160.6,333.70 160.9,333.70 161.3,333.70 161.6,333.70 162.0,333.70 162.3,333.70 162.7,333.70 163.0,333.70 163.4,333.70 163.7,333.70 164.0,333.70 164.4,333.70 164.7,333.70 165.1,333.70 165.4,333.70 165.8,333.70 166.1,333.70 166.5,333.70 166.8,333.70 167.1,333.70 167.5,333.70 167.8,333.70 168.2,333.70 168.5,333.70 168.9,333.70 169.2,333.70 169.6,333.70 169.9,333.70 170.2,333.70 170.6,333.70 170.9,333.70 171.3,333.70 171.6,333.70 172.0,333.70 172.3,333.70 172.7,333.70 173.0,333.70 173.3,333.70 173.7,333.70 174.0,333.70 174.4,333.70 174.7,333.70 175.1,333.70 175.4,333.70 175.8,333.70 176.1,332.70 176.4,332.70 176.8,332.70 177.1,332.70 177.5,332.70 177.8,332.70 178.2,332.70 178.5,332.70 178.9,332.70 179.2,332.70 179.5,332.70 179.9,332.70 180.2,332.70 180.6,332.70 180.9,332.70 181.3,332.70 181.6,332.70 182.0,332.70 182.3,332.70 182.6,332.70 183.0,332.70 183.3,332.70 183.7,332.70 184.0,332.70 184.4,332.70 184.7,332.70 185.1,332.70 185.4,332.70 185.7,332.70 186.1,333.70 186.4,333.70 186.8,333.70 187.1,333.70 187.5,333.70 187.8,333.70 188.2,333.70 188.5,333.70 188.8,333.70 189.2,333.70 189.5,333.70 189.9,333.70 190.2,333.70 190.6,333.70 190.9,333.70 191.3,333.70 191.6,333.70 191.9,333.70 192.3,333.70 192.6,333.70 193.0,333.70 193.3,333.70 193.7,333.70 194.0,333.70 194.4,333.70 194.7,333.70 195.0,333.70 195.4,333.70 195.7,333.70 196.1,333.70 196.4,333.70 196.8,333.70 197.1,333.70 197.5,333.70 197.8,333.70 198.1,333.70 198.5,333.70 198.8,333.70 199.2,333.70 199.5,333.70 199.9,333.70 200.2,333.70 200.6,333.70 200.9,333.70 201.2,333.70 201.6,333.70 201.9,333.70 202.3,333.70 202.6,333.70 203.0,333.70 203.3,333.70 203.7,333.70 204.0,333.70 204.3,333.70 204.7,333.70 205.0,333.70 205.4,333.70 205.7,333.70 206.1,333.70 206.4,333.70 206.8,333.70 207.1,333.70 207.4,333.70 207.8,333.70 208.1,333.70 208.5,333.70 208.8,333.70 209.2,333.70 209.5,333.70 209.9,333.70 210.2,333.70 210.5,333.70 210.9,333.70 211.2,333.70 211.6,333.70 211.9,333.70 212.3,333.70 212.6,333.70 213.0,333.70 213.3,333.70 213.6,333.70 214.0,333.70 214.3,333.70 214.7,333.70 215.0,333.70 215.4,333.70 215.7,333.70 216.1,332.70 216.4,332.70 216.7,332.70 217.1,332.70 217.4,332.70 217.8,332.70 218.1,333.70 218.5,333.70 218.8,333.70 219.2,333.70 219.5,333.70 219.8,333.70 220.2,333.70 220.5,333.70 220.9,333.70 221.2,333.70 221.6,333.70 221.9,333.70 222.3,333.70 222.6,333.70 222.9,333.70 223.3,333.70 223.6,333.70 224.0,333.70 224.3,333.70 224.7,333.70 225.0,333.70 225.4,333.70 225.7,333.70 226.0,333.70 226.4,333.70 226.7,333.70 227.1,333.70 227.4,333.70 227.8,333.70 228.1,333.70 228.5,333.70 228.8,333.70 229.1,333.70 229.5,333.70 229.8,333.70 230.2,333.70 230.5,333.70 230.9,333.70 231.2,333.70 231.6,333.70 231.9,333.70 232.2,333.70 232.6,333.70 232.9,333.70 233.3,333.70 233.6,333.70 234.0,333.70 234.3,332.70 234.7,332.70 235.0,332.70 235.3,332.70 235.7,332.70 236.0,332.70 236.4,332.70 236.7,331.70 237.1,331.70 237.4,331.70 237.8,331.50 238.1,331.17 238.4,330.83 238.8,330.49 239.1,330.13 239.5,329.78 239.8,329.43 240.2,329.07 240.5,328.72 240.9,328.36 241.2,328.01 241.5,327.66 241.9,327.31 242.2,326.96 242.6,326.61 242.9,326.27 243.3,325.92 243.6,325.59 244.0,325.26 244.3,324.93 244.6,324.61 245.0,324.30 245.3,324.00 245.7,323.70 246.0,323.39 246.4,323.08 246.7,322.77 247.1,322.45 247.4,322.14 247.7,321.83 248.1,321.52 248.4,321.22 248.8,320.93 249.1,320.65 249.5,320.39 249.8,320.14 250.2,319.90 250.5,319.67 250.8,319.45 251.2,319.23 251.5,319.02 251.9,318.82 252.2,318.62 252.6,318.42 252.9,318.23 253.3,318.04 253.6,317.86 253.9,317.67 254.3,317.50 254.6,317.32 255.0,317.14 255.3,316.97 255.7,316.80 256.0,316.63 256.4,316.46 256.7,316.29 257.0,316.12 257.4,315.95 257.7,315.78 258.1,315.61 258.4,315.45 258.8,315.28 259.1,315.12 259.5,314.97 259.8,314.81 260.1,314.66 260.5,314.51 260.8,314.36 261.2,314.22 261.5,314.09 261.9,313.95 262.2,313.83 262.6,313.70 262.9,313.58 263.2,313.47 263.6,313.35 263.9,313.23 264.3,313.12 264.6,313.01 265.0,312.90 265.3,312.79 265.7,312.68 266.0,312.57 266.3,312.47 266.7,312.36 267.0,312.26 267.4,312.16 267.7,312.06 268.1,311.96 268.4,311.86 268.8,311.77 269.1,311.67 269.4,311.58 269.8,311.49 270.1,311.40 270.5,311.31 270.8,311.22 271.2,311.14 271.5,311.05 271.9,310.97 272.2,310.89 272.5,310.81 272.9,310.73 273.2,310.65 273.6,310.57 273.9,310.50 274.3,310.42 274.6,310.35 275.0,310.28 275.3,310.21 275.6,310.14 276.0,310.07 276.3,310.01 276.7,309.94 277.0,309.88 277.4,309.82 277.7,309.76 278.1,309.70 278.4,309.64 278.7,309.58 279.1,309.52 279.4,309.47 279.8,309.41 280.1,309.36 280.5,309.30 280.8,309.25 281.2,309.20 281.5,309.14 281.8,309.09 282.2,309.04 282.5,308.99 282.9,308.94 283.2,308.89 283.6,308.83 283.9,308.78 284.3,308.73 284.6,308.68 284.9,308.63 285.3,308.58 285.6,308.53 286.0,308.48 286.3,308.43 286.7,308.38 287.0,308.33 287.4,308.27 287.7,308.22 288.0,308.17 288.4,308.12 288.7,308.07 289.1,308.01 289.4,307.96 289.8,307.91 290.1,307.86 290.5,307.81 290.8,307.76 291.1,307.71 291.5,307.66 291.8,307.61 292.2,307.56 292.5,307.51 292.9,307.46 293.2,307.41 293.6,307.36 293.9,307.32 294.2,307.27 294.6,307.22 294.9,307.17 295.3,307.12 295.6,307.07 296.0,307.02 296.3,306.97 296.7,306.92 297.0,306.87 297.3,306.82 297.7,306.77 298.0,306.72 298.4,306.67 298.7,306.62 299.1,306.57 299.4,306.51 299.8,306.46 300.1,306.41 300.4,306.36 300.8,306.31 301.1,306.26 301.5,306.20 301.8,306.15 302.2,306.10 302.5,306.05 302.9,306.00 303.2,305.95 303.5,305.90 303.9,305.85 304.2,305.80 304.6,305.75 304.9,305.70 305.3,305.65 305.6,305.61 306.0,305.56 306.3,305.51 306.6,305.47 307.0,305.43 307.3,305.38 307.7,305.34 308.0,305.30 308.4,305.25 308.7,305.21 309.1,305.17 309.4,305.13 309.7,305.08 310.1,305.04 310.4,305.00 310.8,304.96 311.1,304.92 311.5,304.88 311.8,304.84 312.2,304.80 312.5,304.76 312.8,304.72 313.2,304.68 313.5,304.64 313.9,304.60 314.2,304.56 314.6,304.52 314.9,304.49 315.3,304.45 315.6,304.41 315.9,304.38 316.3,304.34 316.6,304.31 317.0,304.27 317.3,304.24 317.7,304.20 318.0,304.17 318.4,304.14 318.7,304.11 319.0,304.08 319.4,304.05 319.7,304.02 320.1,303.99 320.4,303.96 320.8,303.93 321.1,303.90 321.5,303.87 321.8,303.85 322.1,303.82 322.5,303.79 322.8,303.76 323.2,303.74 323.5,303.71 323.9,303.68 324.2,303.66 324.6,303.63 324.9,303.61 325.2,303.59 325.6,303.57 325.9,303.54 326.3,303.52 326.6,303.50 327.0,303.48 327.3,303.47 327.7,303.45 328.0,303.43 328.3,303.42 328.7,303.40 329.0,303.39 329.4,303.38 329.7,303.36 330.1,303.35 330.4,303.33 330.8,303.32 331.1,303.31 331.4,303.29 331.8,303.28 332.1,303.27 332.5,303.26 332.8,303.24 333.2,303.23 333.5,303.22 333.9,303.21 334.2,303.20 334.5,303.19 334.9,303.18 335.2,303.17 335.6,303.16 335.9,303.15 336.3,303.14 336.6,303.13 337.0,303.13 337.3,303.12 337.6,303.12 338.0,303.11 338.3,303.11 338.7,303.10 339.0,303.10 339.4,303.10 339.7,303.10 340.1,303.10 340.4,303.10 340.7,303.11 341.1,303.12 341.4,303.14 341.8,303.16 342.1,303.18 342.5,303.21 342.8,303.24 343.2,303.27 343.5,303.31 343.8,303.34 344.2,303.38 344.5,303.42 344.9,303.46 345.2,303.50 345.6,303.54 345.9,303.58 346.3,303.62 346.6,303.67 346.9,303.70 347.3,303.74 347.6,303.78 348.0,303.82 348.3,303.85 348.7,303.88 349.0,303.91 349.4,303.93 349.7,303.95 350.0,303.97 350.4,303.98 350.7,303.99 351.1,304.00 351.4,304.00 351.8,304.00 352.1,304.00 352.5,303.99 352.8,303.99 353.1,303.98 353.5,303.98 353.8,303.97 354.2,303.96 354.5,303.95 354.9,303.95 355.2,303.94 355.6,303.93 355.9,303.92 356.2,303.91 356.6,303.90 356.9,303.89 357.3,303.87 357.6,303.86 358.0,303.85 358.3,303.84 358.7,303.83 359.0,303.82 359.3,303.81 359.7,303.80 360.0,303.79 360.4,303.78 360.7,303.77 361.1,303.77 361.4,303.76 361.8,303.75 362.1,303.75 362.4,303.74 362.8,303.74 363.1,303.74 363.5,303.73 363.8,303.73 364.2,303.73 364.5,303.74 364.9,303.74 365.2,303.74 365.5,303.75 365.9,303.75 366.2,303.76 366.6,303.76 366.9,303.77 367.3,303.78 367.6,303.78 368.0,303.79 368.3,303.80 368.6,303.81 369.0,303.82 369.3,303.83 369.7,303.85 370.0,303.86 370.4,303.87 370.7,303.88 371.1,303.90 371.4,303.91 371.7,303.93 372.1,303.94 372.4,303.96 372.8,303.97 373.1,303.99 373.5,304.00 373.8,304.02 374.2,304.04 374.5,304.05 374.8,304.07 375.2,304.09 375.5,304.10 375.9,304.12 376.2,304.14 376.6,304.16 376.9,304.18 377.3,304.19 377.6,304.21 377.9,304.23 378.3,304.25 378.6,304.28 379.0,304.30 379.3,304.33 379.7,304.35 380.0,304.38 380.4,304.41 380.7,304.44 381.0,304.48 381.4,304.51 381.7,304.55 382.1,304.58 382.4,304.62 382.8,304.66 383.1,304.70 383.5,304.74 383.8,304.78 384.1,304.82 384.5,304.86 384.8,304.90 385.2,304.94 385.5,304.99 385.9,305.03 386.2,305.07 386.6,305.12 386.9,305.16 387.2,305.20 387.6,305.25 387.9,305.29 388.3,305.33 388.6,305.38 389.0,305.42 389.3,305.46 389.7,305.50 390.0,305.54 390.3,305.58 390.7,305.62 391.0,305.67 391.4,305.71 391.7,305.75 392.1,305.79 392.4,305.84 392.8,305.88 393.1,305.93 393.4,305.97 393.8,306.02 394.1,306.06 394.5,306.11 394.8,306.16 395.2,306.20 395.5,306.25 395.9,306.30 396.2,306.34 396.5,306.39 396.9,306.43 397.2,306.48 397.6,306.53 397.9,306.57 398.3,306.62 398.6,306.66 399.0,306.71 399.3,306.75 399.6,306.80 400.0,306.84 400.3,306.89 400.7,306.93 401.0,306.97 401.4,307.01 401.7,307.06 402.1,307.10 402.4,307.14 402.7,307.18 403.1,307.21 403.4,307.25 403.8,307.28 404.1,307.32 404.5,307.35 404.8,307.39 405.2,307.42 405.5,307.45 405.8,307.48 406.2,307.51 406.5,307.54 406.9,307.58 407.2,307.61 407.6,307.64 407.9,307.68 408.3,307.71 408.6,307.74 408.9,307.78 409.3,307.82 409.6,307.86 410.0,307.90 410.3,307.94 410.7,307.98 411.0,308.03 411.4,308.07 411.7,308.12 412.0,308.18 412.4,308.23 412.7,308.29 413.1,308.35 413.4,308.42 413.8,308.48 414.1,308.55 414.5,308.62 414.8,308.69 415.1,308.76 415.5,308.83 415.8,308.89 416.2,308.94 416.5,308.98 416.9,309.01 417.2,308.94 417.6,308.46 417.9,307.42 418.2,306.36 418.6,305.77 418.9,305.60 419.3,305.58 419.6,305.60 420.0,305.71 420.3,306.14 420.7,307.09 421.0,308.28 421.3,309.07 421.7,309.35 422.0,309.45 422.4,309.54 422.7,309.64 423.1,309.73 423.4,309.83 423.8,309.93 424.1,310.04 424.4,310.14 424.8,310.24 425.1,310.34 425.5,310.39 425.8,310.34 426.2,310.10 426.5,309.67 426.9,309.13 427.2,308.64 427.5,308.30 427.9,308.15 428.2,308.16 428.6,308.28 428.9,308.46 429.3,308.66 429.6,308.87 430.0,309.09 430.3,309.36 430.6,309.73 431.0,310.24 431.3,310.92 431.7,311.73 432.0,312.57 432.4,313.30 432.7,313.82 433.1,314.15 433.4,314.36 433.7,314.54 434.1,314.71 434.4,314.89 434.8,315.09 435.1,315.29 435.5,315.49 435.8,315.70 436.2,315.92 436.5,316.14 436.8,316.37 437.2,316.59 437.5,316.81 437.9,317.03 438.2,317.26 438.6,317.49 438.9,317.72 439.3,317.96 439.6,318.20 439.9,318.44 440.3,318.68 440.6,318.92 441.0,319.17 441.3,319.41 441.7,319.66 442.0,319.91 442.4,320.16 442.7,320.41 443.0,320.67 443.4,320.92 443.7,321.17 444.1,321.43 444.4,321.68 444.8,321.94 445.1,322.20 445.5,322.47 445.8,322.74 446.1,323.00 446.5,323.27 446.8,323.54 447.2,323.81 447.5,324.08 447.9,324.35 448.2,324.62 448.6,324.89 448.9,325.15 449.2,325.42 449.6,325.68 449.9,325.94 450.3,326.21 450.6,326.47 451.0,326.74 451.3,327.01 451.7,327.28 452.0,327.56 452.3,327.83 452.7,328.11 453.0,328.40 453.4,328.68 453.7,328.97 454.1,329.26 454.4,329.56 454.8,329.87 455.1,330.18 455.4,330.49 455.8,330.82 456.1,331.15 456.5,331.50 456.8,331.70 457.2,331.70 457.5,332.70 457.9,332.70 458.2,332.70 458.5,332.70 458.9,332.70 459.2,332.70 459.6,332.70 459.9,333.70 460.3,333.70 460.6,333.70 461.0,333.70 461.3,332.70 461.6,332.70 462.0,332.70 462.3,332.70 462.7,332.70 463.0,332.70 463.4,332.70 463.7,332.70 464.1,332.70 464.4,332.70 464.7,332.70 465.1,332.70 465.4,332.70 465.8,332.70 466.1,332.70 466.5,332.70 466.8,332.70 467.2,332.70 467.5,332.70 467.8,332.70 468.2,332.70 468.5,332.70 468.9,332.70 469.2,332.70 469.6,332.70 469.9,332.70 470.3,332.70 470.6,332.70 470.9,332.70 471.3,332.70 471.6,332.70 472.0,332.70 472.3,332.70 472.7,332.70 473.0,332.70 473.4,332.70 473.7,332.70 474.0,332.70 474.4,332.70 474.7,332.70 475.1,332.70 475.4,332.70 475.8,332.70 476.1,332.70 476.5,332.70 476.8,332.70 477.1,332.70 477.5,332.70 477.8,332.70 478.2,332.70 478.5,332.70 478.9,332.70 479.2,332.70 479.6,332.70 479.9,332.70 480.2,332.70 480.6,332.70 480.9,332.70 481.3,332.70 481.6,332.70 482.0,332.70 482.3,332.70 482.7,332.70 483.0,332.70 483.3,332.70 483.7,332.70 484.0,332.70 484.4,332.70 484.7,332.70 485.1,332.70 485.4,332.70 485.8,332.70 486.1,332.70 486.4,332.70 486.8,332.70 487.1,332.70 487.5,332.70 487.8,332.70 488.2,332.70 488.5,332.70 488.9,332.70 489.2,332.70 489.5,332.70 489.9,332.70 490.2,332.70 490.6,332.70 490.9,332.70 491.3,332.70 491.6,332.70 492.0,332.70 492.3,332.70 492.6,332.70 493.0,332.70 493.3,332.70 493.7,332.70 494.0,332.70 494.4,332.70 494.7,332.70 495.1,332.70 495.4,332.70 495.7,332.70 496.1,332.70 496.4,332.70 496.8,332.70 497.1,332.70 497.5,332.70 497.8,332.70 498.2,332.70 498.5,332.70 498.8,332.70 499.2,332.70 499.5,332.70 499.9,332.70 500.2,332.70 500.6,332.70 500.9,332.70 501.3,332.70 501.6,332.70 501.9,332.70 502.3,332.70 502.6,332.70 503.0,332.70 503.3,332.70 503.7,332.70 504.0,332.70 504.4,332.70 504.7,332.70 505.0,332.70 505.4,332.70 505.7,332.70 506.1,332.70 506.4,332.70 506.8,331.70 507.1,331.70 507.5,331.70 507.8,331.70 508.1,331.70 508.5,331.70 508.8,331.70 509.2,331.70 509.5,331.70 509.9,331.70 510.2,331.70 510.6,331.70 510.9,331.70 511.2,331.70 511.6,331.70 511.9,331.70 512.3,331.70 512.6,331.70 513.0,331.70 513.3,332.70 513.7,332.70 514.0,332.70 514.3,332.70 514.7,332.70 515.0,332.70 515.4,332.70 515.7,332.70 516.1,332.70 516.4,332.70 516.8,332.70 517.1,332.70 517.4,332.70 517.8,332.70 518.1,332.70 518.5,332.70 518.8,332.70 519.2,332.70 519.5,332.70 519.9,332.70 520.2,332.70 520.5,332.70 520.9,332.70 521.2,332.70 521.6,332.70 521.9,332.70 522.3,332.70 522.6,332.70 523.0,332.70 523.3,332.70 523.6,332.70 524.0,332.70 524.3,332.70 524.7,332.70 525.0,332.70 525.4,332.70 525.7,332.70 526.1,332.70 526.4,332.70 526.7,332.70 527.1,332.70 527.4,332.70 527.8,332.70 528.1,332.70 528.5,332.70 528.8,332.70 529.2,332.70 529.5,332.70 529.8,332.70 530.2,332.70 530.5,332.70 530.9,332.70 531.2,332.70 531.6,332.70 531.9,332.70 532.3,333.70 532.6,333.70 532.9,333.70 533.3,333.70 533.6,333.70 534.0,333.70 534.3,333.70 534.7,333.70 535.0,333.70 535.4,333.70 535.7,333.70 536.0,333.70 536.4,333.70 536.7,333.70 537.1,333.70 537.4,333.70 537.8,333.70 538.1,333.70 538.5,333.70 538.8,332.70 539.1,332.70 539.5,332.70 539.8,332.70 540.2,332.70 540.5,332.70 540.9,332.70 541.2,332.70 541.6,332.70 541.9,332.70 542.2,332.70 542.6,332.70 542.9,332.70 543.3,332.70 543.6,332.70 544.0,332.70 544.3,332.70 544.7,332.70 545.0,332.70 545.3,332.70 545.7,332.70 546.0,332.70 546.4,332.70 546.7,332.70 547.1,331.70 547.4,331.70 547.8,331.70 548.1,331.70 548.4,331.70 548.8,331.70 549.1,331.70 549.5,331.70 549.8,331.70 550.2,331.70 550.5,331.70 550.9,331.70 551.2,331.70 551.5,331.70 551.9,331.70 552.2,331.70 552.6,331.70 552.9,331.70 553.3,331.70 553.6,331.70 554.0,331.70 554.3,331.70 554.6,331.70 555.0,331.70 555.3,331.70 555.7,331.70 556.0,331.70 556.4,331.70 556.7,331.70 557.1,331.70 557.4,331.70 557.7,331.70 558.1,332.70 558.4,332.70 558.8,332.70 559.1,332.70 559.5,332.70 559.8,332.70 560.2,332.70 560.5,332.70 560.8,332.70 561.2,332.70 561.5,332.70 561.9,332.70 562.2,332.70 562.6,332.70 562.9,332.70 563.3,332.70 563.6,332.70 563.9,332.70 564.3,332.70 564.6,332.70 565.0,332.70 565.3,332.70 565.7,332.70 566.0,332.70 566.4,332.70 566.7,332.70 567.0,332.70 567.4,332.70 567.7,332.70 568.1,332.70 568.4,332.70 568.8,332.70 569.1,331.70 569.5,331.70 569.8,331.70 570.1,331.70 570.5,331.70 570.8,331.70 571.2,331.70 571.5,331.70 571.9,331.70 572.2,331.70 572.6,331.70 572.9,331.70 573.2,331.70 573.6,331.70 573.9,331.70 574.3,331.70 574.6,331.70 575.0,331.70 575.3,331.70 575.7,332.70 576.0,332.70" fill="none" stroke="#00f" stroke-width="5.6" stroke-linejoin="round" stroke-linecap="round"/>
<g clip-path="url(#c2)" fill="#00f">
<circle cx="322.5" cy="300.5" r="2.15"/>
<circle cx="341.5" cy="284.5" r="2.15"/>
<circle cx="340.5" cy="293.5" r="2.15"/>
<circle cx="340.5" cy="296.5" r="2.15"/>
<circle cx="340.5" cy="300.5" r="2.15"/>
<circle cx="374.5" cy="255.5" r="2.15"/>
<circle cx="373.5" cy="290.5" r="2.15"/>
<circle cx="374.5" cy="294.5" r="2.15"/>
<circle cx="379.5" cy="295.5" r="2.15"/>
<circle cx="419.5" cy="255.5" r="2.15"/>
<circle cx="421.5" cy="260.5" r="2.15"/>
<circle cx="427.5" cy="261.5" r="2.15"/>
<circle cx="421.5" cy="273.5" r="2.15"/>
<circle cx="421.5" cy="276.5" r="2.15"/>
<circle cx="418.5" cy="280.5" r="2.15"/>
<circle cx="420.5" cy="281.5" r="2.15"/>
<circle cx="419.5" cy="284.5" r="2.15"/>
<circle cx="399.5" cy="282.5" r="2.15"/>
<circle cx="398.5" cy="283.5" r="2.15"/>
<circle cx="398.5" cy="293.5" r="2.15"/>
<circle cx="398.5" cy="295.5" r="2.15"/>
<circle cx="393.5" cy="297.5" r="2.15"/>
<circle cx="393.5" cy="299.5" r="2.15"/>
<circle cx="422.5" cy="291.5" r="2.15"/>
<circle cx="428.5" cy="293.5" r="2.15"/>
<circle cx="418.5" cy="295.5" r="2.15"/>
<circle cx="419.5" cy="297.5" r="2.15"/>
<circle cx="420.5" cy="299.5" r="2.15"/>
<circle cx="422.5" cy="300.5" r="2.15"/>
<circle cx="427.5" cy="298.5" r="2.15"/>
<circle cx="428.5" cy="300.5" r="2.15"/>
<circle cx="407.5" cy="301.5" r="2.15"/>
<circle cx="399.5" cy="301.5" r="2.15"/>
<circle cx="401.5" cy="303.5" r="2.15"/>
<circle cx="392.5" cy="301.5" r="2.15"/>
<circle cx="396.5" cy="303.5" r="2.15"/>
<circle cx="404.5" cy="304.5" r="2.15"/>
<circle cx="407.5" cy="303.5" r="2.15"/>
<circle cx="423.5" cy="307.5" r="2.15"/>
<circle cx="427.5" cy="306.5" r="2.15"/>
<circle cx="431.5" cy="305.5" r="2.15"/>
<circle cx="433.5" cy="307.5" r="2.15"/>
<circle cx="425.5" cy="305.5" r="2.15"/>
<circle cx="429.5" cy="305.5" r="2.15"/>
<circle cx="421.5" cy="303.5" r="2.15"/>
<circle cx="430.5" cy="308.5" r="2.15"/>
</g>
<g fill="#000" shape-rendering="crispEdges">
<rect x="80" y="247" width="1" height="87"/>
<rect x="576" y="247" width="1" height="87"/>
<rect x="80" y="247" width="497" height="1"/>
<rect x="80" y="333" width="497" height="1"/>
<rect x="80" y="333" width="1" height="5"/>
<rect x="80" y="338" width="1" height="1" fill-opacity="0.4"/>
<rect x="163" y="333" width="1" height="5"/>
<rect x="163" y="338" width="1" height="1" fill-opacity="0.4"/>
<rect x="245" y="333" width="1" height="5"/>
<rect x="245" y="338" width="1" height="1" fill-opacity="0.4"/>
<rect x="328" y="333" width="1" height="5"/>
<rect x="328" y="338" width="1" height="1" fill-opacity="0.4"/>
<rect x="411" y="333" width="1" height="5"/>
<rect x="411" y="338" width="1" height="1" fill-opacity="0.4"/>
<rect x="493" y="333" width="1" height="5"/>
<rect x="493" y="338" width="1" height="1" fill-opacity="0.4"/>
<rect x="576" y="333" width="1" height="5"/>
<rect x="576" y="338" width="1" height="1" fill-opacity="0.4"/>
<rect x="75" y="333" width="5" height="1"/>
<rect x="75" y="279" width="5" height="1"/>
</g>
<text x="69.70" y="338.40" font-size="14.2" fill="#000" text-anchor="end" textLength="8.48" lengthAdjust="spacingAndGlyphs">0</text>
<text x="69.70" y="284.40" font-size="14.2" fill="#000" text-anchor="end" textLength="25.45" lengthAdjust="spacingAndGlyphs">100</text>
<g transform="translate(32.1,289.67) rotate(-90)" font-size="14.2">
<text x="-24.4" y="-1.2">[</text>
<text x="-19.0" y="0" textLength="13.6" lengthAdjust="spacingAndGlyphs">W</text>
<text x="-5.7" y="0" textLength="5.3" lengthAdjust="spacingAndGlyphs">/</text>
<text x="-0.2" y="0" textLength="13.4" lengthAdjust="spacingAndGlyphs">m</text>
<text x="12.4" y="-5.8" font-size="10.79">2</text>
<text x="19.5" y="-1.2">]</text>
</g>
<g fill="#b0b0b0" shape-rendering="crispEdges">
<rect x="80" y="341" width="1" height="86"/>
<rect x="163" y="341" width="1" height="86"/>
<rect x="245" y="341" width="1" height="86"/>
<rect x="328" y="341" width="1" height="86"/>
<rect x="411" y="341" width="1" height="86"/>
<rect x="493" y="341" width="1" height="86"/>
<rect x="576" y="341" width="1" height="86"/>
<rect x="80" y="427" width="496" height="1"/>
<rect x="80" y="390" width="496" height="1"/>
<rect x="80" y="352" width="496" height="1"/>
</g>
<polyline clip-path="url(#c3)" points="80.00,427.20 80.34,427.20 80.69,427.20 81.03,427.20 81.38,427.20 81.72,427.20 82.07,427.20 82.41,427.20 82.76,427.20 83.10,427.20 83.44,427.20 83.79,427.20 84.13,427.20 84.48,427.20 84.82,427.20 85.17,427.20 85.51,427.20 85.86,427.20 86.20,427.20 86.54,427.20 86.89,427.20 87.23,427.20 87.58,427.20 87.92,427.20 88.27,427.20 88.61,427.20 88.96,427.20 89.30,427.20 89.64,427.20 89.99,427.20 90.33,427.20 90.68,427.20 91.02,427.20 91.37,427.20 91.71,427.20 92.06,427.20 92.40,427.20 92.74,427.20 93.09,427.20 93.43,427.20 93.78,427.20 94.12,427.20 94.47,427.20 94.81,427.20 95.16,427.20 95.50,427.20 95.84,427.20 96.19,427.20 96.53,427.20 96.88,427.20 97.22,427.20 97.57,427.20 97.91,427.20 98.26,427.20 98.60,427.20 98.94,427.20 99.29,427.20 99.63,427.20 99.98,427.20 100.32,427.20 100.67,427.20 101.01,427.20 101.36,427.20 101.70,427.20 102.04,427.20 102.39,427.20 102.73,427.20 103.08,427.20 103.42,427.20 103.77,427.20 104.11,427.20 104.46,427.20 104.80,427.20 105.14,427.20 105.49,427.20 105.83,427.20 106.18,427.20 106.52,427.20 106.87,427.20 107.21,427.20 107.56,427.20 107.90,427.20 108.24,427.20 108.59,427.20 108.93,427.20 109.28,427.20 109.62,427.20 109.97,427.20 110.31,427.20 110.66,427.20 111.00,427.20 111.34,427.20 111.69,427.20 112.03,427.20 112.38,427.20 112.72,427.20 113.07,427.20 113.41,427.20 113.76,427.20 114.10,427.20 114.44,427.20 114.79,427.20 115.13,427.20 115.48,427.20 115.82,427.20 116.17,427.20 116.51,427.20 116.86,427.20 117.20,427.20 117.54,427.20 117.89,427.20 118.23,427.20 118.58,427.20 118.92,427.20 119.27,427.20 119.61,427.20 119.96,427.20 120.30,427.20 120.64,427.20 120.99,427.20 121.33,427.20 121.68,427.20 122.02,427.20 122.37,427.20 122.71,427.20 123.06,427.20 123.40,427.20 123.74,427.20 124.09,427.20 124.43,427.20 124.78,427.20 125.12,427.20 125.47,427.20 125.81,427.20 126.16,427.20 126.50,427.20 126.84,427.20 127.19,427.20 127.53,427.20 127.88,427.20 128.22,427.20 128.57,427.20 128.91,427.20 129.26,427.20 129.60,427.20 129.94,427.20 130.29,427.20 130.63,427.20 130.98,427.20 131.32,427.20 131.67,427.20 132.01,427.20 132.36,427.20 132.70,427.20 133.04,427.20 133.39,427.20 133.73,427.20 134.08,427.20 134.42,427.20 134.77,427.20 135.11,427.20 135.46,427.20 135.80,427.20 136.14,427.20 136.49,427.20 136.83,427.20 137.18,427.20 137.52,427.20 137.87,427.20 138.21,427.20 138.56,427.20 138.90,427.20 139.24,427.20 139.59,427.20 139.93,427.20 140.28,427.20 140.62,427.20 140.97,427.20 141.31,427.20 141.66,427.20 142.00,427.20 142.34,427.20 142.69,427.20 143.03,427.20 143.38,427.20 143.72,427.20 144.07,427.20 144.41,427.20 144.76,427.20 145.10,427.20 145.44,427.20 145.79,427.20 146.13,427.20 146.48,427.20 146.82,427.20 147.17,427.20 147.51,427.20 147.86,427.20 148.20,427.20 148.54,427.20 148.89,427.20 149.23,427.20 149.58,427.20 149.92,427.20 150.27,427.20 150.61,427.20 150.96,427.20 151.30,427.20 151.64,427.20 151.99,427.20 152.33,427.20 152.68,427.20 153.02,427.20 153.37,427.20 153.71,427.20 154.06,427.20 154.40,427.20 154.74,427.20 155.09,427.20 155.43,427.20 155.78,427.20 156.12,427.20 156.47,427.20 156.81,427.20 157.16,427.20 157.50,427.20 157.84,427.20 158.19,427.20 158.53,427.20 158.88,427.20 159.22,427.20 159.57,427.20 159.91,427.20 160.26,427.20 160.60,427.20 160.94,427.20 161.29,427.20 161.63,427.20 161.98,427.20 162.32,427.20 162.67,427.20 163.01,427.20 163.36,427.20 163.70,427.20 164.04,427.20 164.39,427.20 164.73,427.20 165.08,427.20 165.42,427.20 165.77,427.20 166.11,427.20 166.46,427.20 166.80,427.20 167.14,427.20 167.49,427.20 167.83,427.20 168.18,427.20 168.52,427.20 168.87,427.20 169.21,427.20 169.56,427.20 169.90,427.20 170.24,427.20 170.59,427.20 170.93,427.20 171.28,427.20 171.62,427.20 171.97,427.20 172.31,427.20 172.66,427.20 173.00,427.20 173.34,427.20 173.69,427.20 174.03,427.20 174.38,427.20 174.72,427.20 175.07,427.20 175.41,427.20 175.76,427.20 176.10,427.20 176.44,427.20 176.79,427.20 177.13,427.20 177.48,427.20 177.82,427.20 178.17,427.20 178.51,427.20 178.86,427.20 179.20,427.20 179.54,427.20 179.89,427.20 180.23,427.20 180.58,427.20 180.92,427.20 181.27,427.20 181.61,427.20 181.96,427.20 182.30,427.20 182.64,427.20 182.99,427.20 183.33,427.20 183.68,427.20 184.02,427.20 184.37,427.20 184.71,427.20 185.06,427.20 185.40,427.20 185.74,427.20 186.09,427.20 186.43,427.20 186.78,427.20 187.12,427.20 187.47,427.20 187.81,427.20 188.16,427.20 188.50,427.20 188.84,427.20 189.19,427.20 189.53,427.20 189.88,427.20 190.22,427.20 190.57,427.20 190.91,427.20 191.26,427.20 191.60,427.20 191.94,427.20 192.29,427.20 192.63,427.20 192.98,427.20 193.32,427.20 193.67,427.20 194.01,427.20 194.36,427.20 194.70,427.20 195.04,427.20 195.39,427.20 195.73,427.20 196.08,427.20 196.42,427.20 196.77,427.20 197.11,427.20 197.46,427.20 197.80,427.20 198.14,427.20 198.49,427.20 198.83,427.20 199.18,427.20 199.52,427.20 199.87,427.20 200.21,427.20 200.56,427.20 200.90,427.20 201.24,427.20 201.59,427.20 201.93,427.20 202.28,427.20 202.62,427.20 202.97,427.20 203.31,427.20 203.66,427.20 204.00,427.20 204.34,427.20 204.69,427.20 205.03,427.20 205.38,427.20 205.72,427.20 206.07,427.20 206.41,427.20 206.76,427.20 207.10,427.20 207.44,427.20 207.79,427.20 208.13,427.20 208.48,427.20 208.82,427.20 209.17,427.20 209.51,427.20 209.86,427.20 210.20,427.20 210.54,427.20 210.89,427.20 211.23,427.20 211.58,427.20 211.92,427.20 212.27,427.20 212.61,427.20 212.96,427.20 213.30,427.20 213.64,427.20 213.99,427.20 214.33,427.20 214.68,427.20 215.02,427.20 215.37,427.20 215.71,427.20 216.06,427.20 216.40,427.20 216.74,427.20 217.09,427.20 217.43,427.20 217.78,427.20 218.12,427.20 218.47,427.20 218.81,427.20 219.16,427.20 219.50,427.20 219.84,427.20 220.19,427.20 220.53,427.20 220.88,427.20 221.22,427.20 221.57,427.20 221.91,427.20 222.26,427.20 222.60,427.20 222.94,427.20 223.29,427.20 223.63,427.20 223.98,427.20 224.32,427.20 224.67,427.20 225.01,427.20 225.36,427.20 225.70,427.20 226.04,427.20 226.39,427.20 226.73,427.20 227.08,427.20 227.42,427.20 227.77,427.20 228.11,427.20 228.46,427.20 228.80,427.20 229.14,427.20 229.49,427.20 229.83,427.20 230.18,427.20 230.52,427.20 230.87,427.20 231.21,427.20 231.56,427.20 231.90,427.20 232.24,427.20 232.59,427.20 232.93,427.20 233.28,427.20 233.62,427.20 233.97,427.20 234.31,427.20 234.66,427.20 235.00,427.20 235.34,427.20 235.69,427.20 236.03,427.20 236.38,427.20 236.72,427.20 237.07,427.20 237.41,427.20 237.76,427.20 238.10,427.20 238.44,427.20 238.79,427.20 239.13,427.20 239.48,427.20 239.82,427.20 240.17,427.20 240.51,427.20 240.86,427.20 241.20,427.20 241.54,427.20 241.89,427.20 242.23,427.20 242.58,427.16 242.92,427.11 243.27,427.07 243.61,427.02 243.96,426.97 244.30,426.91 244.64,426.86 244.99,426.81 245.33,426.75 245.68,426.69 246.02,426.63 246.37,426.57 246.71,426.51 247.06,426.44 247.40,426.37 247.74,426.30 248.09,426.23 248.43,426.16 248.78,426.08 249.12,426.00 249.47,425.92 249.81,425.84 250.16,425.75 250.50,425.66 250.84,425.57 251.19,425.47 251.53,425.38 251.88,425.28 252.22,425.17 252.57,425.07 252.91,424.96 253.26,424.85 253.60,424.74 253.94,424.63 254.29,424.51 254.63,424.40 254.98,424.28 255.32,424.16 255.67,424.04 256.01,423.92 256.36,423.80 256.70,423.68 257.04,423.56 257.39,423.43 257.73,423.31 258.08,423.18 258.42,423.05 258.77,422.92 259.11,422.79 259.46,422.65 259.80,422.52 260.14,422.38 260.49,422.24 260.83,422.10 261.18,421.96 261.52,421.81 261.87,421.66 262.21,421.51 262.56,421.36 262.90,421.21 263.24,421.05 263.59,420.89 263.93,420.73 264.28,420.56 264.62,420.39 264.97,420.22 265.31,420.05 265.66,419.87 266.00,419.69 266.34,419.51 266.69,419.32 267.03,419.13 267.38,418.93 267.72,418.74 268.07,418.53 268.41,418.33 268.76,418.12 269.10,417.90 269.44,417.68 269.79,417.46 270.13,417.23 270.48,417.01 270.82,416.77 271.17,416.53 271.51,416.29 271.86,416.05 272.20,415.80 272.54,415.55 272.89,415.29 273.23,415.03 273.58,414.77 273.92,414.50 274.27,414.23 274.61,413.95 274.96,413.67 275.30,413.39 275.64,413.10 275.99,412.81 276.33,412.50 276.68,412.18 277.02,411.86 277.37,411.52 277.71,411.18 278.06,410.83 278.40,410.47 278.74,410.11 279.09,409.74 279.43,409.36 279.78,408.98 280.12,408.59 280.47,408.20 280.81,407.81 281.16,407.41 281.50,407.01 281.84,406.61 282.19,406.20 282.53,405.80 282.88,405.39 283.22,404.98 283.57,404.57 283.91,404.17 284.26,403.76 284.60,403.36 284.94,402.95 285.29,402.55 285.63,402.16 285.98,401.76 286.32,401.35 286.67,400.95 287.01,400.54 287.36,400.13 287.70,399.72 288.04,399.31 288.39,398.90 288.73,398.48 289.08,398.06 289.42,397.64 289.77,397.22 290.11,396.80 290.46,396.38 290.80,395.95 291.14,395.52 291.49,395.10 291.83,394.67 292.18,394.24 292.52,393.81 292.87,393.38 293.21,392.95 293.56,392.51 293.90,392.08 294.24,391.65 294.59,391.21 294.93,390.78 295.28,390.34 295.62,389.91 295.97,389.47 296.31,389.03 296.66,388.58 297.00,388.14 297.34,387.69 297.69,387.24 298.03,386.79 298.38,386.34 298.72,385.89 299.07,385.44 299.41,384.99 299.76,384.53 300.10,384.08 300.44,383.62 300.79,383.17 301.13,382.71 301.48,382.26 301.82,381.81 302.17,381.35 302.51,380.90 302.86,380.45 303.20,380.00 303.54,379.55 303.89,379.10 304.23,378.65 304.58,378.21 304.92,377.77 305.27,377.32 305.61,376.88 305.96,376.43 306.30,375.98 306.64,375.52 306.99,375.07 307.33,374.61 307.68,374.15 308.02,373.69 308.37,373.24 308.71,372.78 309.06,372.32 309.40,371.86 309.74,371.41 310.09,370.96 310.43,370.51 310.78,370.07 311.12,369.63 311.47,369.19 311.81,368.76 312.16,368.33 312.50,367.91 312.84,367.50 313.19,367.09 313.53,366.69 313.88,366.30 314.22,365.92 314.57,365.55 314.91,365.18 315.26,364.83 315.60,364.47 315.94,364.12 316.29,363.77 316.63,363.42 316.98,363.07 317.32,362.73 317.67,362.39 318.01,362.06 318.36,361.72 318.70,361.39 319.04,361.07 319.39,360.75 319.73,360.43 320.08,360.12 320.42,359.82 320.77,359.52 321.11,359.22 321.46,358.93 321.80,358.65 322.14,358.37 322.49,358.10 322.83,357.84 323.18,357.58 323.52,357.33 323.87,357.09 324.21,356.86 324.56,356.63 324.90,356.41 325.24,356.20 325.59,355.98 325.93,355.77 326.28,355.57 326.62,355.36 326.97,355.16 327.31,354.96 327.66,354.77 328.00,354.58 328.34,354.39 328.69,354.20 329.03,354.02 329.38,353.84 329.72,353.67 330.07,353.50 330.41,353.33 330.76,353.17 331.10,353.02 331.44,352.86 331.79,352.71 332.13,352.57 332.48,352.43 332.82,352.29 333.17,352.16 333.51,352.04 333.86,351.92 334.20,351.80 334.54,351.69 334.89,351.58 335.23,351.47 335.58,351.36 335.92,351.25 336.27,351.14 336.61,351.03 336.96,350.92 337.30,350.82 337.64,350.71 337.99,350.61 338.33,350.51 338.68,350.42 339.02,350.32 339.37,350.23 339.71,350.14 340.06,350.06 340.40,349.98 340.74,349.91 341.09,349.84 341.43,349.77 341.78,349.71 342.12,349.66 342.47,349.61 342.81,349.57 343.16,349.53 343.50,349.50 343.84,349.48 344.19,349.46 344.53,349.45 344.88,349.43 345.22,349.41 345.57,349.40 345.91,349.39 346.26,349.37 346.60,349.36 346.94,349.35 347.29,349.34 347.63,349.34 347.98,349.33 348.32,349.33 348.67,349.33 349.01,349.33 349.36,349.34 349.70,349.36 350.04,349.39 350.39,349.43 350.73,349.47 351.08,349.52 351.42,349.58 351.77,349.64 352.11,349.71 352.46,349.79 352.80,349.87 353.14,349.96 353.49,350.05 353.83,350.15 354.18,350.26 354.52,350.36 354.87,350.48 355.21,350.59 355.56,350.71 355.90,350.84 356.24,350.96 356.59,351.10 356.93,351.23 357.28,351.36 357.62,351.50 357.97,351.64 358.31,351.79 358.66,351.93 359.00,352.08 359.34,352.22 359.69,352.37 360.03,352.52 360.38,352.67 360.72,352.82 361.07,352.97 361.41,353.12 361.76,353.27 362.10,353.42 362.44,353.59 362.79,353.77 363.13,353.95 363.48,354.15 363.82,354.35 364.17,354.57 364.51,354.79 364.86,355.02 365.20,355.25 365.54,355.50 365.89,355.74 366.23,356.00 366.58,356.26 366.92,356.52 367.27,356.79 367.61,357.06 367.96,357.33 368.30,357.61 368.64,357.89 368.99,358.17 369.33,358.45 369.68,358.73 370.02,359.01 370.37,359.29 370.71,359.58 371.06,359.86 371.40,360.14 371.74,360.41 372.09,360.69 372.43,360.97 372.78,361.26 373.12,361.55 373.47,361.84 373.81,362.14 374.16,362.44 374.50,362.74 374.84,363.05 375.19,363.35 375.53,363.66 375.88,363.98 376.22,364.29 376.57,364.61 376.91,364.93 377.26,365.25 377.60,365.58 377.94,365.90 378.29,366.23 378.63,366.56 378.98,366.89 379.32,367.23 379.67,367.56 380.01,367.90 380.36,368.24 380.70,368.58 381.04,368.92 381.39,369.26 381.73,369.60 382.08,369.95 382.42,370.30 382.77,370.65 383.11,371.00 383.46,371.36 383.80,371.72 384.14,372.08 384.49,372.44 384.83,372.81 385.18,373.18 385.52,373.55 385.87,373.92 386.21,374.29 386.56,374.67 386.90,375.05 387.24,375.43 387.59,375.81 387.93,376.19 388.28,376.58 388.62,376.96 388.97,377.35 389.31,377.74 389.66,378.13 390.00,378.52 390.34,378.91 390.69,379.31 391.03,379.70 391.38,380.10 391.72,380.49 392.07,380.89 392.41,381.29 392.76,381.69 393.10,382.09 393.44,382.50 393.79,382.90 394.13,383.31 394.48,383.72 394.82,384.13 395.17,384.54 395.51,384.96 395.86,385.37 396.20,385.79 396.54,386.21 396.89,386.63 397.23,387.05 397.58,387.47 397.92,387.90 398.27,388.33 398.61,388.76 398.96,389.19 399.30,389.62 399.64,390.05 399.99,390.49 400.33,390.93 400.68,391.36 401.02,391.81 401.37,392.25 401.71,392.69 402.06,393.15 402.40,393.61 402.74,394.08 403.09,394.56 403.43,395.04 403.78,395.52 404.12,396.01 404.47,396.50 404.81,396.99 405.16,397.49 405.50,397.98 405.84,398.48 406.19,398.97 406.53,399.47 406.88,399.96 407.22,400.45 407.57,400.93 407.91,401.42 408.26,401.89 408.60,402.36 408.94,402.83 409.29,403.29 409.63,403.74 409.98,404.18 410.32,404.62 410.67,405.04 411.01,405.45 411.36,405.86 411.70,406.26 412.04,406.65 412.39,407.05 412.73,407.44 413.08,407.83 413.42,408.22 413.77,408.60 414.11,408.98 414.46,409.36 414.80,409.73 415.14,410.11 415.49,410.47 415.83,410.84 416.18,411.19 416.52,411.55 416.87,411.90 417.21,412.24 417.56,412.58 417.90,412.91 418.24,413.24 418.59,413.56 418.93,413.87 419.28,414.18 419.62,414.48 419.97,414.78 420.31,415.06 420.66,415.34 421.00,415.62 421.34,415.88 421.69,416.14 422.03,416.40 422.38,416.65 422.72,416.90 423.07,417.14 423.41,417.38 423.76,417.62 424.10,417.86 424.44,418.09 424.79,418.31 425.13,418.54 425.48,418.75 425.82,418.97 426.17,419.18 426.51,419.39 426.86,419.59 427.20,419.79 427.54,419.99 427.89,420.18 428.23,420.37 428.58,420.55 428.92,420.73 429.27,420.91 429.61,421.08 429.96,421.25 430.30,421.41 430.64,421.57 430.99,421.73 431.33,421.89 431.68,422.04 432.02,422.20 432.37,422.35 432.71,422.49 433.06,422.64 433.40,422.78 433.74,422.92 434.09,423.06 434.43,423.20 434.78,423.33 435.12,423.46 435.47,423.59 435.81,423.72 436.16,423.84 436.50,423.97 436.84,424.08 437.19,424.20 437.53,424.31 437.88,424.43 438.22,424.54 438.57,424.64 438.91,424.75 439.26,424.85 439.60,424.94 439.94,425.04 440.29,425.13 440.63,425.23 440.98,425.31 441.32,425.40 441.67,425.49 442.01,425.57 442.36,425.65 442.70,425.73 443.04,425.81 443.39,425.88 443.73,425.96 444.08,426.03 444.42,426.10 444.77,426.17 445.11,426.24 445.46,426.31 445.80,426.37 446.14,426.44 446.49,426.50 446.83,426.57 447.18,426.63 447.52,426.69 447.87,426.75 448.21,426.80 448.56,426.85 448.90,426.90 449.24,426.94 449.59,426.98 449.93,427.02 450.28,427.06 450.62,427.09 450.97,427.12 451.31,427.15 451.66,427.18 452.00,427.20 452.34,427.20 452.69,427.20 453.03,427.20 453.38,427.20 453.72,427.20 454.07,427.20 454.41,427.20 454.76,427.20 455.10,427.20 455.44,427.20 455.79,427.20 456.13,427.20 456.48,427.20 456.82,427.20 457.17,427.20 457.51,427.20 457.86,427.20 458.20,427.20 458.54,427.20 458.89,427.20 459.23,427.20 459.58,427.20 459.92,427.20 460.27,427.20 460.61,427.20 460.96,427.20 461.30,427.20 461.64,427.20 461.99,427.20 462.33,427.20 462.68,427.20 463.02,427.20 463.37,427.20 463.71,427.20 464.06,427.20 464.40,427.20 464.74,427.20 465.09,427.20 465.43,427.20 465.78,427.20 466.12,427.20 466.47,427.20 466.81,427.20 467.16,427.20 467.50,427.20 467.84,427.20 468.19,427.20 468.53,427.20 468.88,427.20 469.22,427.20 469.57,427.20 469.91,427.20 470.26,427.20 470.60,427.20 470.94,427.20 471.29,427.20 471.63,427.20 471.98,427.20 472.32,427.20 472.67,427.20 473.01,427.20 473.36,427.20 473.70,427.20 474.04,427.20 474.39,427.20 474.73,427.20 475.08,427.20 475.42,427.20 475.77,427.20 476.11,427.20 476.46,427.20 476.80,427.20 477.14,427.20 477.49,427.20 477.83,427.20 478.18,427.20 478.52,427.20 478.87,427.20 479.21,427.20 479.56,427.20 479.90,427.20 480.24,427.20 480.59,427.20 480.93,427.20 481.28,427.20 481.62,427.20 481.97,427.20 482.31,427.20 482.66,427.20 483.00,427.20 483.34,427.20 483.69,427.20 484.03,427.20 484.38,427.20 484.72,427.20 485.07,427.20 485.41,427.20 485.76,427.20 486.10,427.20 486.44,427.20 486.79,427.20 487.13,427.20 487.48,427.20 487.82,427.20 488.17,427.20 488.51,427.20 488.86,427.20 489.20,427.20 489.54,427.20 489.89,427.20 490.23,427.20 490.58,427.20 490.92,427.20 491.27,427.20 491.61,427.20 491.96,427.20 492.30,427.20 492.64,427.20 492.99,427.20 493.33,427.20 493.68,427.20 494.02,427.20 494.37,427.20 494.71,427.20 495.06,427.20 495.40,427.20 495.74,427.20 496.09,427.20 496.43,427.20 496.78,427.20 497.12,427.20 497.47,427.20 497.81,427.20 498.16,427.20 498.50,427.20 498.84,427.20 499.19,427.20 499.53,427.20 499.88,427.20 500.22,427.20 500.57,427.20 500.91,427.20 501.26,427.20 501.60,427.20 501.94,427.20 502.29,427.20 502.63,427.20 502.98,427.20 503.32,427.20 503.67,427.20 504.01,427.20 504.36,427.20 504.70,427.20 505.04,427.20 505.39,427.20 505.73,427.20 506.08,427.20 506.42,427.20 506.77,427.20 507.11,427.20 507.46,427.20 507.80,427.20 508.14,427.20 508.49,427.20 508.83,427.20 509.18,427.20 509.52,427.20 509.87,427.20 510.21,427.20 510.56,427.20 510.90,427.20 511.24,427.20 511.59,427.20 511.93,427.20 512.28,427.20 512.62,427.20 512.97,427.20 513.31,427.20 513.66,427.20 514.00,427.20 514.34,427.20 514.69,427.20 515.03,427.20 515.38,427.20 515.72,427.20 516.07,427.20 516.41,427.20 516.76,427.20 517.10,427.20 517.44,427.20 517.79,427.20 518.13,427.20 518.48,427.20 518.82,427.20 519.17,427.20 519.51,427.20 519.86,427.20 520.20,427.20 520.54,427.20 520.89,427.20 521.23,427.20 521.58,427.20 521.92,427.20 522.27,427.20 522.61,427.20 522.96,427.20 523.30,427.20 523.64,427.20 523.99,427.20 524.33,427.20 524.68,427.20 525.02,427.20 525.37,427.20 525.71,427.20 526.06,427.20 526.40,427.20 526.74,427.20 527.09,427.20 527.43,427.20 527.78,427.20 528.12,427.20 528.47,427.20 528.81,427.20 529.16,427.20 529.50,427.20 529.84,427.20 530.19,427.20 530.53,427.20 530.88,427.20 531.22,427.20 531.57,427.20 531.91,427.20 532.26,427.20 532.60,427.20 532.94,427.20 533.29,427.20 533.63,427.20 533.98,427.20 534.32,427.20 534.67,427.20 535.01,427.20 535.36,427.20 535.70,427.20 536.04,427.20 536.39,427.20 536.73,427.20 537.08,427.20 537.42,427.20 537.77,427.20 538.11,427.20 538.46,427.20 538.80,427.20 539.14,427.20 539.49,427.20 539.83,427.20 540.18,427.20 540.52,427.20 540.87,427.20 541.21,427.20 541.56,427.20 541.90,427.20 542.24,427.20 542.59,427.20 542.93,427.20 543.28,427.20 543.62,427.20 543.97,427.20 544.31,427.20 544.66,427.20 545.00,427.20 545.34,427.20 545.69,427.20 546.03,427.20 546.38,427.20 546.72,427.20 547.07,427.20 547.41,427.20 547.76,427.20 548.10,427.20 548.44,427.20 548.79,427.20 549.13,427.20 549.48,427.20 549.82,427.20 550.17,427.20 550.51,427.20 550.86,427.20 551.20,427.20 551.54,427.20 551.89,427.20 552.23,427.20 552.58,427.20 552.92,427.20 553.27,427.20 553.61,427.20 553.96,427.20 554.30,427.20 554.64,427.20 554.99,427.20 555.33,427.20 555.68,427.20 556.02,427.20 556.37,427.20 556.71,427.20 557.06,427.20 557.40,427.20 557.74,427.20 558.09,427.20 558.43,427.20 558.78,427.20 559.12,427.20 559.47,427.20 559.81,427.20 560.16,427.20 560.50,427.20 560.84,427.20 561.19,427.20 561.53,427.20 561.88,427.20 562.22,427.20 562.57,427.20 562.91,427.20 563.26,427.20 563.60,427.20 563.94,427.20 564.29,427.20 564.63,427.20 564.98,427.20 565.32,427.20 565.67,427.20 566.01,427.20 566.36,427.20 566.70,427.20 567.04,427.20 567.39,427.20 567.73,427.20 568.08,427.20 568.42,427.20 568.77,427.20 569.11,427.20 569.46,427.20 569.80,427.20 570.14,427.20 570.49,427.20 570.83,427.20 571.18,427.20 571.52,427.20 571.87,427.20 572.21,427.20 572.56,427.20 572.90,427.20 573.24,427.20 573.59,427.20 573.93,427.20 574.28,427.20 574.62,427.20 574.97,427.20 575.31,427.20 575.66,427.20 576.00,427.20" fill="none" stroke="#f00" stroke-width="2.78" stroke-linejoin="round" stroke-linecap="square"/>
<polyline clip-path="url(#c3)" points="80.0,427.70 80.3,427.70 80.7,427.70 81.0,427.70 81.4,427.70 81.7,427.70 82.1,427.70 82.4,427.70 82.8,427.70 83.1,427.70 83.4,427.70 83.8,427.70 84.1,427.70 84.5,427.70 84.8,427.70 85.2,427.70 85.5,427.70 85.9,427.70 86.2,427.70 86.5,427.70 86.9,427.70 87.2,427.70 87.6,427.70 87.9,427.70 88.3,427.70 88.6,427.70 89.0,427.70 89.3,427.70 89.6,427.70 90.0,427.70 90.3,427.70 90.7,427.70 91.0,427.70 91.4,427.70 91.7,427.70 92.1,427.70 92.4,427.70 92.7,427.70 93.1,427.70 93.4,427.70 93.8,427.70 94.1,427.70 94.5,427.70 94.8,427.70 95.2,427.70 95.5,427.70 95.8,427.70 96.2,427.70 96.5,427.70 96.9,427.70 97.2,427.70 97.6,427.70 97.9,427.70 98.3,427.70 98.6,427.70 98.9,427.70 99.3,427.70 99.6,427.70 100.0,427.70 100.3,427.70 100.7,427.70 101.0,427.70 101.4,427.70 101.7,427.70 102.0,427.70 102.4,427.70 102.7,427.70 103.1,427.70 103.4,427.70 103.8,427.70 104.1,427.70 104.5,427.70 104.8,427.70 105.1,427.70 105.5,427.70 105.8,427.70 106.2,427.70 106.5,427.70 106.9,427.70 107.2,427.70 107.6,427.70 107.9,427.70 108.2,427.70 108.6,427.70 108.9,427.70 109.3,427.70 109.6,427.70 110.0,427.70 110.3,427.70 110.7,427.70 111.0,427.70 111.3,427.70 111.7,427.70 112.0,427.70 112.4,427.70 112.7,427.70 113.1,427.70 113.4,427.70 113.8,427.70 114.1,427.70 114.4,427.70 114.8,427.70 115.1,427.70 115.5,427.70 115.8,427.70 116.2,427.70 116.5,427.70 116.9,427.70 117.2,427.70 117.5,427.70 117.9,427.70 118.2,427.70 118.6,427.70 118.9,427.70 119.3,427.70 119.6,427.70 120.0,427.70 120.3,427.70 120.6,427.70 121.0,427.70 121.3,427.70 121.7,427.70 122.0,427.70 122.4,427.70 122.7,427.70 123.1,427.70 123.4,427.70 123.7,427.70 124.1,427.70 124.4,427.70 124.8,427.70 125.1,427.70 125.5,427.70 125.8,427.70 126.2,427.70 126.5,427.70 126.8,427.70 127.2,427.70 127.5,427.70 127.9,427.70 128.2,427.70 128.6,427.70 128.9,427.70 129.3,427.70 129.6,427.70 129.9,427.70 130.3,427.70 130.6,427.70 131.0,427.70 131.3,427.70 131.7,427.70 132.0,427.70 132.4,427.70 132.7,427.70 133.0,427.70 133.4,427.70 133.7,427.70 134.1,427.70 134.4,427.70 134.8,427.70 135.1,427.70 135.5,427.70 135.8,427.70 136.1,427.70 136.5,427.70 136.8,427.70 137.2,427.70 137.5,427.70 137.9,427.70 138.2,427.70 138.6,427.70 138.9,427.70 139.2,427.70 139.6,427.70 139.9,427.70 140.3,427.70 140.6,427.70 141.0,427.70 141.3,427.70 141.7,427.70 142.0,427.70 142.3,427.70 142.7,427.70 143.0,427.70 143.4,427.70 143.7,427.70 144.1,427.70 144.4,427.70 144.8,427.70 145.1,427.70 145.4,427.70 145.8,427.70 146.1,427.70 146.5,427.70 146.8,427.70 147.2,427.70 147.5,427.70 147.9,427.70 148.2,427.70 148.5,427.70 148.9,427.70 149.2,427.70 149.6,427.70 149.9,427.70 150.3,427.70 150.6,427.70 151.0,427.70 151.3,427.70 151.6,427.70 152.0,427.70 152.3,427.70 152.7,427.70 153.0,427.70 153.4,427.70 153.7,427.70 154.1,427.70 154.4,427.70 154.7,427.70 155.1,427.70 155.4,427.70 155.8,427.70 156.1,427.70 156.5,427.70 156.8,427.70 157.2,427.70 157.5,427.70 157.8,427.70 158.2,427.70 158.5,427.70 158.9,427.70 159.2,427.70 159.6,427.70 159.9,427.70 160.3,427.70 160.6,427.70 160.9,427.70 161.3,427.70 161.6,427.70 162.0,427.70 162.3,427.70 162.7,427.70 163.0,427.70 163.4,427.70 163.7,427.70 164.0,427.70 164.4,427.70 164.7,427.70 165.1,427.70 165.4,427.70 165.8,427.70 166.1,427.70 166.5,427.70 166.8,427.70 167.1,427.70 167.5,427.70 167.8,427.70 168.2,427.70 168.5,427.70 168.9,427.70 169.2,427.70 169.6,427.70 169.9,427.70 170.2,427.70 170.6,427.70 170.9,427.70 171.3,427.70 171.6,427.70 172.0,427.70 172.3,427.70 172.7,427.70 173.0,427.70 173.3,427.70 173.7,427.70 174.0,427.70 174.4,427.70 174.7,427.70 175.1,427.70 175.4,427.70 175.8,427.70 176.1,427.70 176.4,427.70 176.8,427.70 177.1,427.70 177.5,427.70 177.8,427.70 178.2,427.70 178.5,427.70 178.9,427.70 179.2,427.70 179.5,427.70 179.9,427.70 180.2,427.70 180.6,427.70 180.9,427.70 181.3,427.70 181.6,427.70 182.0,427.70 182.3,427.70 182.6,427.70 183.0,427.70 183.3,427.70 183.7,427.70 184.0,427.70 184.4,427.70 184.7,427.70 185.1,427.70 185.4,427.70 185.7,427.70 186.1,427.70 186.4,427.70 186.8,427.70 187.1,427.70 187.5,427.70 187.8,427.70 188.2,427.70 188.5,427.70 188.8,427.70 189.2,427.70 189.5,427.70 189.9,427.70 190.2,427.70 190.6,427.70 190.9,427.70 191.3,427.70 191.6,427.70 191.9,427.70 192.3,427.70 192.6,427.70 193.0,427.70 193.3,427.70 193.7,427.70 194.0,427.70 194.4,427.70 194.7,427.70 195.0,427.70 195.4,427.70 195.7,427.70 196.1,427.70 196.4,427.70 196.8,427.70 197.1,427.70 197.5,427.70 197.8,427.70 198.1,427.70 198.5,427.70 198.8,427.70 199.2,427.70 199.5,427.70 199.9,427.70 200.2,427.70 200.6,427.70 200.9,427.70 201.2,427.70 201.6,427.70 201.9,427.70 202.3,427.70 202.6,427.70 203.0,427.70 203.3,427.70 203.7,427.70 204.0,427.70 204.3,427.70 204.7,427.70 205.0,427.70 205.4,427.70 205.7,427.70 206.1,427.70 206.4,427.70 206.8,427.70 207.1,427.70 207.4,427.70 207.8,427.70 208.1,427.70 208.5,427.70 208.8,427.70 209.2,427.70 209.5,427.70 209.9,427.70 210.2,427.70 210.5,427.70 210.9,427.70 211.2,427.70 211.6,427.70 211.9,427.70 212.3,427.70 212.6,427.70 213.0,427.70 213.3,427.70 213.6,427.70 214.0,427.70 214.3,427.70 214.7,427.70 215.0,427.70 215.4,427.70 215.7,427.70 216.1,427.70 216.4,427.70 216.7,427.70 217.1,427.70 217.4,427.70 217.8,427.70 218.1,427.70 218.5,427.70 218.8,427.70 219.2,427.70 219.5,427.70 219.8,427.70 220.2,427.70 220.5,427.70 220.9,427.70 221.2,427.70 221.6,427.70 221.9,427.70 222.3,427.70 222.6,427.70 222.9,427.70 223.3,427.70 223.6,427.70 224.0,427.70 224.3,427.70 224.7,427.70 225.0,427.70 225.4,427.70 225.7,427.70 226.0,427.70 226.4,427.70 226.7,427.70 227.1,427.70 227.4,427.70 227.8,427.70 228.1,427.70 228.5,427.70 228.8,427.70 229.1,427.70 229.5,427.70 229.8,427.70 230.2,427.70 230.5,427.70 230.9,427.70 231.2,427.70 231.6,427.70 231.9,427.70 232.2,427.70 232.6,427.70 232.9,427.70 233.3,427.70 233.6,427.70 234.0,427.70 234.3,427.70 234.7,427.70 235.0,427.70 235.3,427.70 235.7,427.70 236.0,427.70 236.4,427.70 236.7,427.70 237.1,427.70 237.4,427.70 237.8,427.70 238.1,427.70 238.4,427.70 238.8,427.70 239.1,427.70 239.5,427.70 239.8,427.70 240.2,427.70 240.5,427.70 240.9,427.70 241.2,427.70 241.5,427.70 241.9,427.70 242.2,427.70 242.6,427.70 242.9,427.70 243.3,427.70 243.6,427.70 244.0,427.70 244.3,427.70 244.6,427.70 245.0,427.70 245.3,427.70 245.7,426.70 246.0,426.70 246.4,426.70 246.7,426.70 247.1,426.70 247.4,426.70 247.7,426.70 248.1,426.70 248.4,426.70 248.8,426.70 249.1,426.70 249.5,426.70 249.8,426.70 250.2,426.70 250.5,426.70 250.8,425.70 251.2,425.70 251.5,425.70 251.9,425.70 252.2,425.70 252.6,425.70 252.9,425.66 253.3,425.54 253.6,425.42 253.9,425.30 254.3,425.18 254.6,425.06 255.0,424.94 255.3,424.82 255.7,424.70 256.0,424.58 256.4,424.46 256.7,424.34 257.0,424.22 257.4,424.11 257.7,423.99 258.1,423.87 258.4,423.75 258.8,423.64 259.1,423.52 259.5,423.40 259.8,423.28 260.1,423.16 260.5,423.04 260.8,422.91 261.2,422.79 261.5,422.67 261.9,422.54 262.2,422.41 262.6,422.28 262.9,422.15 263.2,422.02 263.6,421.89 263.9,421.75 264.3,421.62 264.6,421.48 265.0,421.34 265.3,421.19 265.7,421.05 266.0,420.90 266.3,420.75 266.7,420.60 267.0,420.44 267.4,420.28 267.7,420.12 268.1,419.96 268.4,419.79 268.8,419.62 269.1,419.45 269.4,419.28 269.8,419.10 270.1,418.92 270.5,418.73 270.8,418.55 271.2,418.36 271.5,418.16 271.9,417.97 272.2,417.77 272.5,417.56 272.9,417.36 273.2,417.15 273.6,416.94 273.9,416.72 274.3,416.50 274.6,416.28 275.0,416.06 275.3,415.83 275.6,415.60 276.0,415.36 276.3,415.12 276.7,414.86 277.0,414.60 277.4,414.34 277.7,414.07 278.1,413.79 278.4,413.50 278.7,413.21 279.1,412.92 279.4,412.61 279.8,412.31 280.1,412.00 280.5,411.68 280.8,411.36 281.2,411.04 281.5,410.71 281.8,410.38 282.2,410.05 282.5,409.71 282.9,409.37 283.2,409.03 283.6,408.69 283.9,408.34 284.3,408.00 284.6,407.65 284.9,407.30 285.3,406.95 285.6,406.60 286.0,406.25 286.3,405.89 286.7,405.53 287.0,405.16 287.4,404.79 287.7,404.41 288.0,404.02 288.4,403.64 288.7,403.24 289.1,402.85 289.4,402.45 289.8,402.05 290.1,401.64 290.5,401.24 290.8,400.83 291.1,400.42 291.5,400.01 291.8,399.60 292.2,399.18 292.5,398.77 292.9,398.35 293.2,397.94 293.6,397.53 293.9,397.12 294.2,396.71 294.6,396.30 294.9,395.89 295.3,395.49 295.6,395.08 296.0,394.68 296.3,394.27 296.7,393.87 297.0,393.46 297.3,393.05 297.7,392.65 298.0,392.24 298.4,391.83 298.7,391.42 299.1,391.01 299.4,390.60 299.8,390.19 300.1,389.78 300.4,389.37 300.8,388.96 301.1,388.54 301.5,388.13 301.8,387.72 302.2,387.31 302.5,386.90 302.9,386.48 303.2,386.07 303.5,385.66 303.9,385.25 304.2,384.84 304.6,384.43 304.9,384.01 305.3,383.60 305.6,383.19 306.0,382.78 306.3,382.36 306.6,381.94 307.0,381.52 307.3,381.10 307.7,380.67 308.0,380.25 308.4,379.83 308.7,379.40 309.1,378.98 309.4,378.55 309.7,378.13 310.1,377.71 310.4,377.28 310.8,376.86 311.1,376.44 311.5,376.03 311.8,375.61 312.2,375.20 312.5,374.79 312.8,374.39 313.2,373.98 313.5,373.58 313.9,373.19 314.2,372.80 314.6,372.41 314.9,372.03 315.3,371.65 315.6,371.28 315.9,370.90 316.3,370.52 316.6,370.14 317.0,369.76 317.3,369.38 317.7,369.01 318.0,368.63 318.4,368.26 318.7,367.88 319.0,367.51 319.4,367.15 319.7,366.78 320.1,366.42 320.4,366.07 320.8,365.71 321.1,365.37 321.5,365.02 321.8,364.69 322.1,364.35 322.5,364.03 322.8,363.71 323.2,363.40 323.5,363.10 323.9,362.80 324.2,362.51 324.6,362.23 324.9,361.96 325.2,361.70 325.6,361.44 325.9,361.18 326.3,360.93 326.6,360.67 327.0,360.42 327.3,360.17 327.7,359.92 328.0,359.67 328.3,359.43 328.7,359.19 329.0,358.95 329.4,358.72 329.7,358.49 330.1,358.27 330.4,358.05 330.8,357.84 331.1,357.64 331.4,357.44 331.8,357.24 332.1,357.06 332.5,356.88 332.8,356.70 333.2,356.54 333.5,356.38 333.9,356.23 334.2,356.09 334.5,355.96 334.9,355.84 335.2,355.72 335.6,355.61 335.9,355.50 336.3,355.39 336.6,355.29 337.0,355.18 337.3,355.08 337.6,354.98 338.0,354.89 338.3,354.79 338.7,354.70 339.0,354.61 339.4,354.52 339.7,354.44 340.1,354.36 340.4,354.28 340.7,354.20 341.1,354.13 341.4,354.06 341.8,353.99 342.1,353.93 342.5,353.87 342.8,353.81 343.2,353.76 343.5,353.71 343.8,353.66 344.2,353.62 344.5,353.58 344.9,353.54 345.2,353.51 345.6,353.48 345.9,353.44 346.3,353.41 346.6,353.38 346.9,353.36 347.3,353.34 347.6,353.32 348.0,353.31 348.3,353.31 348.7,353.32 349.0,353.33 349.4,353.35 349.7,353.38 350.0,353.42 350.4,353.46 350.7,353.52 351.1,353.57 351.4,353.64 351.8,353.71 352.1,353.79 352.5,353.87 352.8,353.96 353.1,354.05 353.5,354.15 353.8,354.26 354.2,354.36 354.5,354.48 354.9,354.60 355.2,354.72 355.6,354.84 355.9,354.97 356.2,355.10 356.6,355.24 356.9,355.38 357.3,355.52 357.6,355.66 358.0,355.81 358.3,355.95 358.7,356.10 359.0,356.25 359.3,356.40 359.7,356.55 360.0,356.71 360.4,356.86 360.7,357.01 361.1,357.17 361.4,357.32 361.8,357.48 362.1,357.64 362.4,357.81 362.8,357.99 363.1,358.19 363.5,358.39 363.8,358.60 364.2,358.82 364.5,359.05 364.9,359.29 365.2,359.53 365.5,359.78 365.9,360.04 366.2,360.31 366.6,360.57 366.9,360.85 367.3,361.13 367.6,361.41 368.0,361.69 368.3,361.98 368.6,362.27 369.0,362.57 369.3,362.86 369.7,363.16 370.0,363.45 370.4,363.75 370.7,364.05 371.1,364.34 371.4,364.64 371.7,364.93 372.1,365.22 372.4,365.53 372.8,365.83 373.1,366.14 373.5,366.46 373.8,366.78 374.2,367.10 374.5,367.43 374.8,367.76 375.2,368.09 375.5,368.43 375.9,368.77 376.2,369.11 376.6,369.45 376.9,369.80 377.3,370.15 377.6,370.50 377.9,370.86 378.3,371.21 378.6,371.57 379.0,371.92 379.3,372.28 379.7,372.64 380.0,373.00 380.4,373.36 380.7,373.72 381.0,374.08 381.4,374.44 381.7,374.80 382.1,375.16 382.4,375.53 382.8,375.89 383.1,376.26 383.5,376.63 383.8,377.01 384.1,377.38 384.5,377.76 384.8,378.14 385.2,378.52 385.5,378.90 385.9,379.28 386.2,379.66 386.6,380.05 386.9,380.44 387.2,380.82 387.6,381.21 387.9,381.60 388.3,381.99 388.6,382.37 389.0,382.76 389.3,383.15 389.7,383.54 390.0,383.93 390.3,384.32 390.7,384.71 391.0,385.09 391.4,385.48 391.7,385.87 392.1,386.26 392.4,386.65 392.8,387.04 393.1,387.43 393.4,387.82 393.8,388.22 394.1,388.61 394.5,389.01 394.8,389.40 395.2,389.80 395.5,390.20 395.9,390.59 396.2,390.99 396.5,391.39 396.9,391.78 397.2,392.18 397.6,392.57 397.9,392.97 398.3,393.36 398.6,393.75 399.0,394.15 399.3,394.53 399.6,394.92 400.0,395.31 400.3,395.69 400.7,396.07 401.0,396.45 401.4,396.83 401.7,397.21 402.1,397.59 402.4,397.96 402.7,398.34 403.1,398.71 403.4,399.09 403.8,399.46 404.1,399.84 404.5,400.21 404.8,400.58 405.2,400.95 405.5,401.32 405.8,401.69 406.2,402.06 406.5,402.43 406.9,402.79 407.2,403.15 407.6,403.52 407.9,403.88 408.3,404.23 408.6,404.59 408.9,404.94 409.3,405.29 409.6,405.64 410.0,405.99 410.3,406.33 410.7,406.67 411.0,407.01 411.4,407.35 411.7,407.68 412.0,408.02 412.4,408.36 412.7,408.69 413.1,409.03 413.4,409.37 413.8,409.70 414.1,410.04 414.5,410.37 414.8,410.71 415.1,411.04 415.5,411.37 415.8,411.69 416.2,412.01 416.5,412.34 416.9,412.65 417.2,412.96 417.6,413.27 417.9,413.58 418.2,413.88 418.6,414.17 418.9,414.46 419.3,414.75 419.6,415.03 420.0,415.30 420.3,415.57 420.7,415.83 421.0,416.08 421.3,416.32 421.7,416.57 422.0,416.81 422.4,417.04 422.7,417.27 423.1,417.51 423.4,417.73 423.8,417.96 424.1,418.18 424.4,418.40 424.8,418.61 425.1,418.82 425.5,419.03 425.8,419.24 426.2,419.44 426.5,419.64 426.9,419.84 427.2,420.03 427.5,420.22 427.9,420.40 428.2,420.59 428.6,420.76 428.9,420.94 429.3,421.11 429.6,421.28 430.0,421.45 430.3,421.61 430.6,421.77 431.0,421.92 431.3,422.08 431.7,422.23 432.0,422.38 432.4,422.53 432.7,422.68 433.1,422.83 433.4,422.97 433.7,423.12 434.1,423.26 434.4,423.40 434.8,423.54 435.1,423.68 435.5,423.82 435.8,423.95 436.2,424.09 436.5,424.22 436.8,424.35 437.2,424.48 437.5,424.61 437.9,424.74 438.2,424.87 438.6,424.99 438.9,425.12 439.3,425.24 439.6,425.37 439.9,425.49 440.3,425.61 440.6,425.70 441.0,425.70 441.3,425.70 441.7,425.70 442.0,425.70 442.4,425.70 442.7,426.70 443.0,426.70 443.4,426.70 443.7,426.70 444.1,426.70 444.4,426.70 444.8,426.70 445.1,426.70 445.5,426.70 445.8,426.70 446.1,426.70 446.5,426.70 446.8,426.70 447.2,426.70 447.5,426.70 447.9,427.70 448.2,427.70 448.6,427.70 448.9,427.70 449.2,427.70 449.6,427.70 449.9,427.70 450.3,427.70 450.6,427.70 451.0,427.70 451.3,427.70 451.7,427.70 452.0,427.70 452.3,427.70 452.7,427.70 453.0,427.70 453.4,427.70 453.7,427.70 454.1,427.70 454.4,427.70 454.8,427.70 455.1,427.70 455.4,427.70 455.8,427.70 456.1,427.70 456.5,427.70 456.8,427.70 457.2,427.70 457.5,427.70 457.9,427.70 458.2,427.70 458.5,427.70 458.9,427.70 459.2,427.70 459.6,427.70 459.9,427.70 460.3,427.70 460.6,427.70 461.0,427.70 461.3,427.70 461.6,427.70 462.0,427.70 462.3,427.70 462.7,427.70 463.0,427.70 463.4,427.70 463.7,427.70 464.1,427.70 464.4,427.70 464.7,427.70 465.1,427.70 465.4,427.70 465.8,427.70 466.1,427.70 466.5,427.70 466.8,427.70 467.2,427.70 467.5,427.70 467.8,427.70 468.2,427.70 468.5,427.70 468.9,427.70 469.2,427.70 469.6,427.70 469.9,427.70 470.3,427.70 470.6,427.70 470.9,427.70 471.3,427.70 471.6,427.70 472.0,427.70 472.3,427.70 472.7,427.70 473.0,427.70 473.4,427.70 473.7,427.70 474.0,427.70 474.4,427.70 474.7,427.70 475.1,427.70 475.4,427.70 475.8,427.70 476.1,427.70 476.5,427.70 476.8,427.70 477.1,427.70 477.5,427.70 477.8,427.70 478.2,427.70 478.5,427.70 478.9,427.70 479.2,427.70 479.6,427.70 479.9,427.70 480.2,427.70 480.6,427.70 480.9,427.70 481.3,427.70 481.6,427.70 482.0,427.70 482.3,427.70 482.7,427.70 483.0,427.70 483.3,427.70 483.7,427.70 484.0,427.70 484.4,427.70 484.7,427.70 485.1,427.70 485.4,427.70 485.8,427.70 486.1,427.70 486.4,427.70 486.8,427.70 487.1,427.70 487.5,427.70 487.8,427.70 488.2,427.70 488.5,427.70 488.9,427.70 489.2,427.70 489.5,427.70 489.9,427.70 490.2,427.70 490.6,427.70 490.9,427.70 491.3,427.70 491.6,427.70 492.0,427.70 492.3,427.70 492.6,427.70 493.0,427.70 493.3,427.70 493.7,427.70 494.0,427.70 494.4,427.70 494.7,427.70 495.1,427.70 495.4,427.70 495.7,427.70 496.1,427.70 496.4,427.70 496.8,427.70 497.1,427.70 497.5,427.70 497.8,427.70 498.2,427.70 498.5,427.70 498.8,427.70 499.2,427.70 499.5,427.70 499.9,427.70 500.2,427.70 500.6,427.70 500.9,427.70 501.3,427.70 501.6,427.70 501.9,427.70 502.3,427.70 502.6,427.70 503.0,427.70 503.3,427.70 503.7,427.70 504.0,427.70 504.4,427.70 504.7,427.70 505.0,427.70 505.4,427.70 505.7,427.70 506.1,427.70 506.4,427.70 506.8,427.70 507.1,427.70 507.5,427.70 507.8,427.70 508.1,427.70 508.5,427.70 508.8,427.70 509.2,427.70 509.5,427.70 509.9,427.70 510.2,427.70 510.6,427.70 510.9,427.70 511.2,427.70 511.6,427.70 511.9,427.70 512.3,427.70 512.6,427.70 513.0,427.70 513.3,427.70 513.7,427.70 514.0,427.70 514.3,427.70 514.7,427.70 515.0,427.70 515.4,427.70 515.7,427.70 516.1,427.70 516.4,427.70 516.8,427.70 517.1,427.70 517.4,427.70 517.8,427.70 518.1,427.70 518.5,427.70 518.8,427.70 519.2,427.70 519.5,427.70 519.9,427.70 520.2,427.70 520.5,427.70 520.9,427.70 521.2,427.70 521.6,427.70 521.9,427.70 522.3,427.70 522.6,427.70 523.0,427.70 523.3,427.70 523.6,427.70 524.0,427.70 524.3,427.70 524.7,427.70 525.0,427.70 525.4,427.70 525.7,427.70 526.1,427.70 526.4,427.70 526.7,427.70 527.1,427.70 527.4,427.70 527.8,427.70 528.1,427.70 528.5,427.70 528.8,427.70 529.2,427.70 529.5,427.70 529.8,427.70 530.2,427.70 530.5,427.70 530.9,427.70 531.2,427.70 531.6,427.70 531.9,427.70 532.3,427.70 532.6,427.70 532.9,427.70 533.3,427.70 533.6,427.70 534.0,427.70 534.3,427.70 534.7,427.70 535.0,427.70 535.4,427.70 535.7,427.70 536.0,427.70 536.4,427.70 536.7,427.70 537.1,427.70 537.4,427.70 537.8,427.70 538.1,427.70 538.5,427.70 538.8,427.70 539.1,427.70 539.5,427.70 539.8,427.70 540.2,427.70 540.5,427.70 540.9,427.70 541.2,427.70 541.6,427.70 541.9,427.70 542.2,427.70 542.6,427.70 542.9,427.70 543.3,427.70 543.6,427.70 544.0,427.70 544.3,427.70 544.7,427.70 545.0,427.70 545.3,427.70 545.7,427.70 546.0,427.70 546.4,427.70 546.7,427.70 547.1,427.70 547.4,427.70 547.8,427.70 548.1,427.70 548.4,427.70 548.8,427.70 549.1,427.70 549.5,427.70 549.8,427.70 550.2,427.70 550.5,427.70 550.9,427.70 551.2,427.70 551.5,427.70 551.9,427.70 552.2,427.70 552.6,427.70 552.9,427.70 553.3,427.70 553.6,427.70 554.0,427.70 554.3,427.70 554.6,427.70 555.0,427.70 555.3,427.70 555.7,427.70 556.0,427.70 556.4,427.70 556.7,427.70 557.1,427.70 557.4,427.70 557.7,427.70 558.1,427.70 558.4,427.70 558.8,427.70 559.1,427.70 559.5,427.70 559.8,427.70 560.2,427.70 560.5,427.70 560.8,427.70 561.2,427.70 561.5,427.70 561.9,427.70 562.2,427.70 562.6,427.70 562.9,427.70 563.3,427.70 563.6,427.70 563.9,427.70 564.3,427.70 564.6,427.70 565.0,427.70 565.3,427.70 565.7,427.70 566.0,427.70 566.4,427.70 566.7,427.70 567.0,427.70 567.4,427.70 567.7,427.70 568.1,427.70 568.4,427.70 568.8,427.70 569.1,427.70 569.5,427.70 569.8,427.70 570.1,427.70 570.5,427.70 570.8,427.70 571.2,427.70 571.5,427.70 571.9,427.70 572.2,427.70 572.6,427.70 572.9,427.70 573.2,427.70 573.6,427.70 573.9,427.70 574.3,427.70 574.6,427.70 575.0,427.70 575.3,427.70 575.7,427.70 576.0,427.70" fill="none" stroke="#00f" stroke-width="5.6" stroke-linejoin="round" stroke-linecap="round"/>
<g clip-path="url(#c3)" fill="#00f">
<circle cx="374.5" cy="370.5" r="2.15"/>
<circle cx="419.5" cy="417.5" r="2.15"/>
</g>
<g fill="#000" shape-rendering="crispEdges">
<rect x="80" y="341" width="1" height="87"/>
<rect x="576" y="341" width="1" height="87"/>
<rect x="80" y="341" width="497" height="1"/>
<rect x="80" y="427" width="497" height="1"/>
<rect x="80" y="427" width="1" height="5"/>
<rect x="80" y="432" width="1" height="1" fill-opacity="0.4"/>
<rect x="163" y="427" width="1" height="5"/>
<rect x="163" y="432" width="1" height="1" fill-opacity="0.4"/>
<rect x="245" y="427" width="1" height="5"/>
<rect x="245" y="432" width="1" height="1" fill-opacity="0.4"/>
<rect x="328" y="427" width="1" height="5"/>
<rect x="328" y="432" width="1" height="1" fill-opacity="0.4"/>
<rect x="411" y="427" width="1" height="5"/>
<rect x="411" y="432" width="1" height="1" fill-opacity="0.4"/>
<rect x="493" y="427" width="1" height="5"/>
<rect x="493" y="432" width="1" height="1" fill-opacity="0.4"/>
<rect x="576" y="427" width="1" height="5"/>
<rect x="576" y="432" width="1" height="1" fill-opacity="0.4"/>
<rect x="75" y="427" width="5" height="1"/>
<rect x="75" y="390" width="5" height="1"/>
<rect x="75" y="352" width="5" height="1"/>
</g>
<text x="69.70" y="432.40" font-size="14.2" fill="#000" text-anchor="end" textLength="21.20" lengthAdjust="spacingAndGlyphs">0.0</text>
<text x="69.70" y="395.40" font-size="14.2" fill="#000" text-anchor="end" textLength="21.20" lengthAdjust="spacingAndGlyphs">0.5</text>
<text x="69.70" y="357.40" font-size="14.2" fill="#000" text-anchor="end" textLength="21.20" lengthAdjust="spacingAndGlyphs">1.0</text>
<g transform="translate(36.7,384.22) rotate(-90)" font-size="14.2">
<text x="-24.4" y="-1.2">[</text>
<text x="-19.0" y="0" textLength="13.6" lengthAdjust="spacingAndGlyphs">W</text>
<text x="-5.7" y="0" textLength="5.3" lengthAdjust="spacingAndGlyphs">/</text>
<text x="-0.2" y="0" textLength="13.4" lengthAdjust="spacingAndGlyphs">m</text>
<text x="12.4" y="-5.8" font-size="10.79">2</text>
<text x="19.5" y="-1.2">]</text>
</g>
<text x="80.00" y="448.00" font-size="14.2" fill="#000" text-anchor="middle" textLength="8.48" lengthAdjust="spacingAndGlyphs">0</text>
<text x="162.67" y="448.00" font-size="14.2" fill="#000" text-anchor="middle" textLength="8.48" lengthAdjust="spacingAndGlyphs">4</text>
<text x="245.33" y="448.00" font-size="14.2" fill="#000" text-anchor="middle" textLength="8.48" lengthAdjust="spacingAndGlyphs">8</text>
<text x="328.00" y="448.00" font-size="14.2" fill="#000" text-anchor="middle" textLength="16.97" lengthAdjust="spacingAndGlyphs">12</text>
<text x="410.67" y="448.00" font-size="14.2" fill="#000" text-anchor="middle" textLength="16.97" lengthAdjust="spacingAndGlyphs">16</text>
<text x="493.33" y="448.00" font-size="14.2" fill="#000" text-anchor="middle" textLength="16.97" lengthAdjust="spacingAndGlyphs">20</text>
<text x="576.00" y="448.00" font-size="14.2" fill="#000" text-anchor="middle" textLength="16.97" lengthAdjust="spacingAndGlyphs">24</text>
<text x="328.00" y="468.00" font-size="14.2" fill="#000" text-anchor="middle" textLength="77.06" lengthAdjust="spacingAndGlyphs">Hour (UTC)</text>
<text x="328.30" y="49.00" font-size="14.2" fill="#000" text-anchor="middle" textLength="79.60" lengthAdjust="spacingAndGlyphs">2025-11-30</text>
<text x="96.00" y="72.00" font-size="14.2" fill="#ffa500" font-weight="bold" textLength="129.60" lengthAdjust="spacingAndGlyphs">Global Radiation</text>
<text x="96.00" y="168.00" font-size="14.2" fill="#ffa500" font-weight="bold" textLength="127.25" lengthAdjust="spacingAndGlyphs">Direct Radiation</text>
<text x="96.00" y="264.00" font-size="14.2" fill="#ffa500" font-weight="bold" textLength="135.80" lengthAdjust="spacingAndGlyphs">Diffuse Radiation</text>
<text x="96.00" y="360.00" font-size="14.2" fill="#ffa500" font-weight="bold" textLength="112.40" lengthAdjust="spacingAndGlyphs">UVB Radiation</text>
</svg>
</body></html>
